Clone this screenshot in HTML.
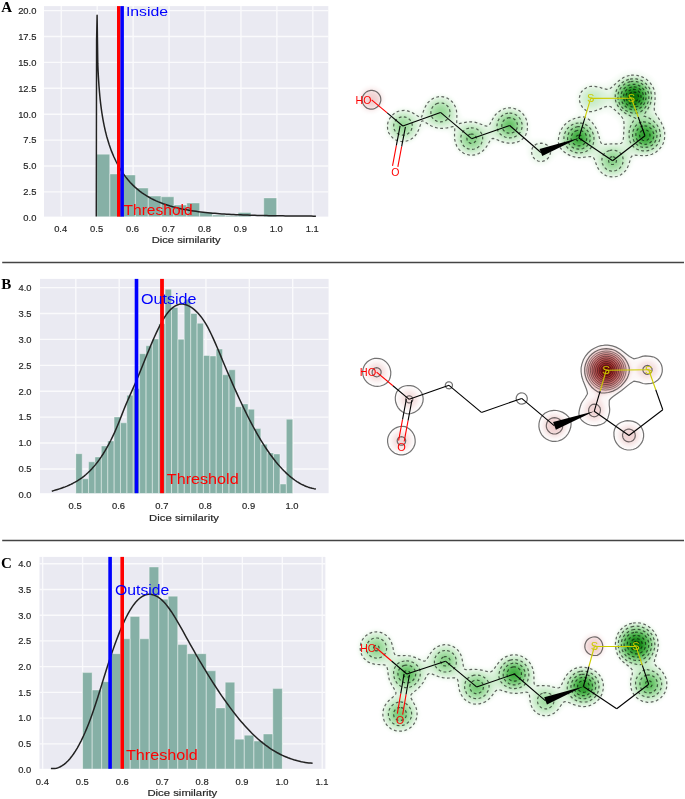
<!DOCTYPE html>
<html><head><meta charset="utf-8"><style>html,body{margin:0;padding:0;background:#fff;}svg{display:block;}</style></head>
<body><svg width="685" height="799" viewBox="0 0 685 799">
<rect width="685" height="799" fill="#fff"/>
<rect x="44" y="6.1" width="284.3" height="210.5" fill="#EAEAF2"/>
<path d="M61.25 6.1V216.6M97.19 6.1V216.6M133.13 6.1V216.6M169.07 6.1V216.6M205.01 6.1V216.6M240.95 6.1V216.6M276.89 6.1V216.6M312.83 6.1V216.6M44 191.9H328.3M44 166H328.3M44 140.1H328.3M44 114.2H328.3M44 88.3H328.3M44 62.4H328.3M44 36.5H328.3M44 10.6H328.3" stroke="rgba(255,255,255,0.75)" stroke-width="1.4" fill="none"/>
<path d="M96.9 216.6V154.2H109.74V216.6ZM109.74 216.6V174H122.57V216.6ZM122.57 216.6V175H135.41V216.6ZM135.41 216.6V188.1H148.24V216.6ZM148.24 216.6V196.1H161.08V216.6ZM161.08 216.6V196.8H173.92V216.6ZM173.92 216.6V205H186.75V216.6ZM186.75 216.6V203H199.59V216.6ZM199.59 216.6V212.3H212.42V216.6ZM212.42 216.6V215.1H225.26V216.6ZM225.26 216.6V215.6H238.1V216.6ZM238.1 216.6V212.5H250.93V216.6ZM263.77 216.6V197.9H276.6V216.6Z" fill="#86B0A6"/>
<path d="M96.9 216.6V154.2H109.74V216.6M109.74 216.6V174H122.57V216.6M122.57 216.6V175H135.41V216.6M135.41 216.6V188.1H148.24V216.6M148.24 216.6V196.1H161.08V216.6M161.08 216.6V196.8H173.92V216.6M173.92 216.6V205H186.75V216.6M186.75 216.6V203H199.59V216.6M199.59 216.6V212.3H212.42V216.6M212.42 216.6V215.1H225.26V216.6M225.26 216.6V215.6H238.1V216.6M238.1 216.6V212.5H250.93V216.6M263.77 216.6V197.9H276.6V216.6" fill="none" stroke="rgba(255,255,255,0.36)" stroke-width="1"/>
<path d="M96.3 216.6 L96.6 40 L97.1 15.3 L97.8 63.9 L98.09 70.74 L98.39 76.46 L98.68 81.38 L98.97 85.7 L99.27 89.55 L99.56 93.03 L99.85 96.2 L100.14 99.11 L100.44 101.82 L100.73 104.33 L101.02 106.69 L101.32 108.91 L101.61 111.01 L101.9 113 L102.2 114.89 L102.49 116.7 L102.78 118.42 L103.08 120.08 L103.37 121.66 L103.66 123.19 L103.96 124.66 L104.25 126.08 L104.54 127.45 L104.83 128.77 L105.13 130.06 L105.42 131.3 L105.71 132.51 L106.01 133.68 L106.3 134.82 L106.8 136.7 L109.15 144.54 L111.5 151.13 L113.85 156.8 L116.2 161.77 L118.55 166.18 L120.9 170.11 L123.25 173.66 L125.6 176.86 L127.94 179.78 L130.29 182.44 L132.64 184.87 L134.99 187.1 L137.34 189.16 L139.69 191.05 L142.04 192.79 L144.39 194.4 L146.74 195.89 L149.09 197.27 L151.44 198.55 L153.79 199.74 L156.14 200.84 L158.49 201.87 L160.84 202.82 L163.19 203.71 L165.54 204.53 L167.89 205.3 L170.23 206.02 L172.58 206.68 L174.93 207.31 L177.28 207.89 L179.63 208.43 L181.98 208.94 L184.33 209.41 L186.68 209.85 L189.03 210.26 L191.38 210.65 L193.73 211.01 L196.08 211.34 L198.43 211.66 L200.78 211.95 L203.13 212.23 L205.48 212.49 L207.83 212.73 L210.18 212.95 L212.52 213.17 L214.87 213.36 L217.22 213.55 L219.57 213.72 L221.92 213.89 L224.27 214.04 L226.62 214.18 L228.97 214.31 L231.32 214.44 L233.67 214.56 L236.02 214.67 L238.37 214.77 L240.72 214.87 L243.07 214.96 L245.42 215.04 L247.77 215.12 L250.12 215.2 L252.47 215.27 L254.81 215.33 L257.16 215.4 L259.51 215.45 L261.86 215.51 L264.21 215.56 L266.56 215.61 L268.91 215.65 L271.26 215.69 L273.61 215.73 L275.96 215.77 L278.31 215.81 L280.66 215.84 L283.01 215.87 L285.36 215.9 L287.71 215.92 L290.06 215.95 L292.41 215.97 L294.76 216 L297.1 216.02 L299.45 216.04 L301.8 216.05 L304.15 216.07 L306.5 216.09 L308.85 216.1 L311.2 216.12 L313.55 216.13 L315.9 216.14" fill="none" stroke="#222" stroke-width="1.5" stroke-linejoin="round"/>
<rect x="117" y="6.1" width="3.5" height="210.5" fill="#FF0000"/>
<rect x="120.4" y="6.1" width="3.5" height="210.5" fill="#0000FF"/>
<rect x="40" y="278.9" width="288.6" height="214.3" fill="#EAEAF2"/>
<path d="M75.8 278.9V493.2M119.18 278.9V493.2M162.56 278.9V493.2M205.94 278.9V493.2M249.32 278.9V493.2M292.7 278.9V493.2M40 468.95H328.6M40 443.04H328.6M40 417.13H328.6M40 391.23H328.6M40 365.33H328.6M40 339.42H328.6M40 313.51H328.6M40 287.61H328.6" stroke="rgba(255,255,255,0.75)" stroke-width="1.4" fill="none"/>
<path d="M75.8 493.2V453.7H82.18V493.2ZM82.18 493.2V478.8H88.56V493.2ZM88.56 493.2V461.8H94.94V493.2ZM94.94 493.2V457H101.32V493.2ZM101.32 493.2V446H107.7V493.2ZM107.7 493.2V440.9H114.08V493.2ZM114.08 493.2V417H120.46V493.2ZM120.46 493.2V422.8H126.84V493.2ZM126.84 493.2V395.2H133.21V493.2ZM133.21 493.2V388.6H139.59V493.2ZM139.59 493.2V353.7H145.97V493.2ZM145.97 493.2V345.8H152.35V493.2ZM152.35 493.2V339H158.73V493.2ZM158.73 493.2V323.7H165.11V493.2ZM165.11 493.2V289.2H171.49V493.2ZM171.49 493.2V307.5H177.87V493.2ZM177.87 493.2V339.3H184.25V493.2ZM184.25 493.2V299.3H190.63V493.2ZM190.63 493.2V313.5H197.01V493.2ZM197.01 493.2V323.3H203.39V493.2ZM203.39 493.2V355.5H209.77V493.2ZM209.77 493.2V356H216.15V493.2ZM216.15 493.2V349.1H222.53V493.2ZM222.53 493.2V374.8H228.91V493.2ZM228.91 493.2V369.8H235.29V493.2ZM235.29 493.2V406.7H241.66V493.2ZM241.66 493.2V403.9H248.04V493.2ZM248.04 493.2V409.3H254.42V493.2ZM254.42 493.2V428.6H260.8V493.2ZM260.8 493.2V444.3H267.18V493.2ZM267.18 493.2V452.9H273.56V493.2ZM273.56 493.2V454H279.94V493.2ZM279.94 493.2V484.1H286.32V493.2ZM286.32 493.2V419.3H292.7V493.2Z" fill="#86B0A6"/>
<path d="M75.8 493.2V453.7H82.18V493.2M82.18 493.2V478.8H88.56V493.2M88.56 493.2V461.8H94.94V493.2M94.94 493.2V457H101.32V493.2M101.32 493.2V446H107.7V493.2M107.7 493.2V440.9H114.08V493.2M114.08 493.2V417H120.46V493.2M120.46 493.2V422.8H126.84V493.2M126.84 493.2V395.2H133.21V493.2M133.21 493.2V388.6H139.59V493.2M139.59 493.2V353.7H145.97V493.2M145.97 493.2V345.8H152.35V493.2M152.35 493.2V339H158.73V493.2M158.73 493.2V323.7H165.11V493.2M165.11 493.2V289.2H171.49V493.2M171.49 493.2V307.5H177.87V493.2M177.87 493.2V339.3H184.25V493.2M184.25 493.2V299.3H190.63V493.2M190.63 493.2V313.5H197.01V493.2M197.01 493.2V323.3H203.39V493.2M203.39 493.2V355.5H209.77V493.2M209.77 493.2V356H216.15V493.2M216.15 493.2V349.1H222.53V493.2M222.53 493.2V374.8H228.91V493.2M228.91 493.2V369.8H235.29V493.2M235.29 493.2V406.7H241.66V493.2M241.66 493.2V403.9H248.04V493.2M248.04 493.2V409.3H254.42V493.2M254.42 493.2V428.6H260.8V493.2M260.8 493.2V444.3H267.18V493.2M267.18 493.2V452.9H273.56V493.2M273.56 493.2V454H279.94V493.2M279.94 493.2V484.1H286.32V493.2M286.32 493.2V419.3H292.7V493.2" fill="none" stroke="rgba(255,255,255,0.36)" stroke-width="1"/>
<path d="M51.8 491.2 L53.7 490.63 L55.6 490.06 L57.5 489.46 L59.4 488.85 L61.3 488.22 L63.2 487.55 L65.1 486.84 L67 486.08 L68.9 485.27 L70.8 484.4 L72.7 483.46 L74.6 482.45 L76.5 481.36 L78.4 480.19 L80.3 478.92 L82.2 477.55 L84.1 476.07 L86 474.48 L87.9 472.77 L89.8 470.94 L91.7 468.97 L93.6 466.87 L95.5 464.61 L97.4 462.21 L99.3 459.64 L101.2 456.91 L103.1 454 L105 450.92 L106.9 447.65 L108.8 444.18 L110.7 440.52 L112.6 436.65 L114.5 432.58 L116.4 428.28 L118.3 423.77 L120.2 419.03 L122.1 414.11 L124 409.28 L125.9 404.66 L127.8 400.23 L129.7 395.9 L131.6 391.63 L133.5 387.34 L135.4 382.97 L137.3 378.48 L139.2 373.89 L141.1 369.23 L143 364.52 L144.9 359.8 L146.8 355.09 L148.7 350.43 L150.6 345.84 L152.5 341.36 L154.4 337 L156.3 332.82 L158.2 328.82 L160.1 325.05 L162 321.53 L163.9 318.28 L165.8 315.35 L167.7 312.76 L169.6 310.52 L171.5 308.63 L173.4 307.07 L175.3 305.85 L177.2 304.95 L179.1 304.36 L181 304.09 L182.9 304.11 L184.8 304.43 L186.7 305.01 L188.6 305.85 L190.5 306.91 L192.4 308.2 L194.3 309.68 L196.2 311.37 L198.1 313.28 L200 315.44 L201.9 317.87 L203.8 320.58 L205.7 323.6 L207.6 326.94 L209.5 330.58 L211.4 334.48 L213.3 338.6 L215.2 342.89 L217.1 347.31 L219 351.82 L220.9 356.37 L222.8 360.92 L224.7 365.45 L226.6 369.94 L228.5 374.38 L230.4 378.78 L232.3 383.13 L234.2 387.43 L236.1 391.68 L238 395.86 L239.9 399.98 L241.8 404.03 L243.7 408.01 L245.6 411.92 L247.5 415.75 L249.4 419.49 L251.3 423.15 L253.2 426.73 L255.1 430.2 L257 433.58 L258.9 436.87 L260.8 440.05 L262.7 443.13 L264.6 446.11 L266.5 448.99 L268.4 451.78 L270.3 454.46 L272.2 457.04 L274.1 459.52 L276 461.91 L277.9 464.19 L279.8 466.37 L281.7 468.46 L283.6 470.44 L285.5 472.33 L287.4 474.11 L289.3 475.8 L291.2 477.38 L293.1 478.87 L295 480.25 L296.9 481.54 L298.8 482.73 L300.7 483.81 L302.6 484.8 L304.5 485.69 L306.4 486.48 L308.3 487.17 L310.2 487.76 L312.1 488.25 L314 488.64 L315.9 488.93" fill="none" stroke="#222" stroke-width="1.5" stroke-linejoin="round"/>
<rect x="134.7" y="278.9" width="3.6" height="214.3" fill="#0000FF"/>
<rect x="160.1" y="278.9" width="3.8" height="214.3" fill="#FF0000"/>
<rect x="39.5" y="556.9" width="285.9" height="211.9" fill="#EAEAF2"/>
<path d="M42.66 556.9V768.8M82.6 556.9V768.8M122.54 556.9V768.8M162.48 556.9V768.8M202.42 556.9V768.8M242.36 556.9V768.8M282.3 556.9V768.8M322.24 556.9V768.8M39.5 743.87H325.4M39.5 718.13H325.4M39.5 692.39H325.4M39.5 666.66H325.4M39.5 640.92H325.4M39.5 615.19H325.4M39.5 589.46H325.4M39.5 563.72H325.4" stroke="rgba(255,255,255,0.75)" stroke-width="1.4" fill="none"/>
<path d="M82.6 768.8V672.6H92.11V768.8ZM92.11 768.8V690H101.62V768.8ZM101.62 768.8V681.7H111.13V768.8ZM111.13 768.8V653.7H120.64V768.8ZM120.64 768.8V638.8H130.15V768.8ZM130.15 768.8V616.4H139.66V768.8ZM139.66 768.8V638.8H149.17V768.8ZM149.17 768.8V567H158.68V768.8ZM158.68 768.8V599.2H168.19V768.8ZM168.19 768.8V596.2H177.7V768.8ZM177.7 768.8V644.6H187.2V768.8ZM187.2 768.8V653.7H196.71V768.8ZM196.71 768.8V653.7H206.22V768.8ZM206.22 768.8V670.8H215.73V768.8ZM215.73 768.8V707.9H225.24V768.8ZM225.24 768.8V682.2H234.75V768.8ZM234.75 768.8V739.2H244.26V768.8ZM244.26 768.8V735.2H253.77V768.8ZM253.77 768.8V741.1H263.28V768.8ZM263.28 768.8V734H272.79V768.8ZM272.79 768.8V688.6H282.3V768.8Z" fill="#86B0A6"/>
<path d="M82.6 768.8V672.6H92.11V768.8M92.11 768.8V690H101.62V768.8M101.62 768.8V681.7H111.13V768.8M111.13 768.8V653.7H120.64V768.8M120.64 768.8V638.8H130.15V768.8M130.15 768.8V616.4H139.66V768.8M139.66 768.8V638.8H149.17V768.8M149.17 768.8V567H158.68V768.8M158.68 768.8V599.2H168.19V768.8M168.19 768.8V596.2H177.7V768.8M177.7 768.8V644.6H187.2V768.8M187.2 768.8V653.7H196.71V768.8M196.71 768.8V653.7H206.22V768.8M206.22 768.8V670.8H215.73V768.8M215.73 768.8V707.9H225.24V768.8M225.24 768.8V682.2H234.75V768.8M234.75 768.8V739.2H244.26V768.8M244.26 768.8V735.2H253.77V768.8M253.77 768.8V741.1H263.28V768.8M263.28 768.8V734H272.79V768.8M272.79 768.8V688.6H282.3V768.8" fill="none" stroke="rgba(255,255,255,0.36)" stroke-width="1"/>
<path d="M50.9 768.44 L52.78 768.6 L54.67 768.51 L56.55 768.17 L58.43 767.6 L60.31 766.77 L62.2 765.7 L64.08 764.38 L65.96 762.81 L67.84 760.99 L69.73 758.91 L71.61 756.58 L73.49 754 L75.38 751.16 L77.26 748.06 L79.14 744.69 L81.02 741.07 L82.91 737.19 L84.79 733.04 L86.67 728.63 L88.55 723.95 L90.44 719 L92.32 713.78 L94.2 708.3 L96.09 702.59 L97.97 696.71 L99.85 690.7 L101.73 684.64 L103.62 678.55 L105.5 672.51 L107.38 666.56 L109.26 660.75 L111.15 655.1 L113.03 649.62 L114.91 644.33 L116.8 639.24 L118.68 634.37 L120.56 629.72 L122.44 625.31 L124.33 621.16 L126.21 617.27 L128.09 613.67 L129.97 610.35 L131.86 607.34 L133.74 604.66 L135.62 602.29 L137.51 600.24 L139.39 598.5 L141.27 597.07 L143.15 595.94 L145.04 595.11 L146.92 594.57 L148.8 594.31 L150.68 594.34 L152.57 594.64 L154.45 595.22 L156.33 596.06 L158.22 597.17 L160.1 598.53 L161.98 600.14 L163.86 602 L165.75 604.1 L167.63 606.43 L169.51 608.97 L171.39 611.7 L173.28 614.59 L175.16 617.62 L177.04 620.77 L178.93 624.02 L180.81 627.34 L182.69 630.72 L184.57 634.13 L186.46 637.54 L188.34 640.94 L190.22 644.32 L192.11 647.67 L193.99 650.98 L195.87 654.27 L197.75 657.53 L199.64 660.76 L201.52 663.95 L203.4 667.1 L205.28 670.23 L207.17 673.31 L209.05 676.36 L210.93 679.37 L212.82 682.34 L214.7 685.27 L216.58 688.16 L218.46 691 L220.35 693.8 L222.23 696.56 L224.11 699.27 L225.99 701.93 L227.88 704.55 L229.76 707.11 L231.64 709.63 L233.53 712.09 L235.41 714.5 L237.29 716.86 L239.17 719.16 L241.06 721.41 L242.94 723.6 L244.82 725.73 L246.7 727.81 L248.59 729.82 L250.47 731.78 L252.35 733.67 L254.24 735.5 L256.12 737.26 L258 738.96 L259.88 740.59 L261.77 742.16 L263.65 743.66 L265.53 745.11 L267.41 746.48 L269.3 747.8 L271.18 749.06 L273.06 750.26 L274.95 751.4 L276.83 752.48 L278.71 753.5 L280.59 754.47 L282.48 755.39 L284.36 756.25 L286.24 757.05 L288.12 757.81 L290.01 758.51 L291.89 759.16 L293.77 759.77 L295.66 760.32 L297.54 760.83 L299.42 761.28 L301.3 761.7 L303.19 762.07 L305.07 762.39 L306.95 762.67 L308.83 762.91 L310.72 763.1 L312.6 763.26" fill="none" stroke="#222" stroke-width="1.5" stroke-linejoin="round"/>
<rect x="108.3" y="556.9" width="3.6" height="211.9" fill="#0000FF"/>
<rect x="120.4" y="556.9" width="3.6" height="211.9" fill="#FF0000"/>
<path d="M2.2 262.5H684M2.2 540.5H684" stroke="#444" stroke-width="1.3"/>
<defs><filter id="blurA" x="-10%" y="-20%" width="120%" height="140%"><feGaussianBlur stdDeviation="1.6"/></filter><filter id="blurB" x="-10%" y="-20%" width="120%" height="140%"><feGaussianBlur stdDeviation="1.6"/></filter><filter id="blurC" x="-10%" y="-20%" width="120%" height="140%"><feGaussianBlur stdDeviation="1.6"/></filter></defs>
<g filter="url(#blurA)"><path d="M369.9 86.2l2.4-0.1l3 0.5l2.8 1.1l2.2 1.5l1.7 1.7l1.5 2.3l1.1 2.8l0.3 2.2l-0.3 3l-0.7 2.2l-2.8 4.5l-4.3 3.7l-2.3 1l-3 0.6l-3-0.2l-2.2-0.7l-2.3-1.2l-2-1.6l-2.7-3.8l-0.8-2.2l-0.5-3l0.2-3l0.5-2.3l2.3-4.1l3.8-3.2l2.2-1l2.9-0.7z" fill="rgb(252, 246, 246)"/><path d="M367.9 90l4.3-0.6l3.8 0.9l3.5 2.7l2 3.7l0.2 3.8l-1.2 3.8l-3 3.5l-3.8 2l-3.7 0.2l-3.8-1.2l-3-2.7l-1.7-3.4l-0.4-3.7l1-3.8l2.6-3.3l3.2-1.9z" fill="rgb(246, 227, 227)"/><path d="M369.2 93l2.3-0.4l3 0.6l2.3 1.6l1.6 2.7l0.2 3l-0.7 2.3l-1.7 2.2l-2.4 1.5l-3 0.4l-2.3-0.6l-2.2-1.7l-1.6-2.6l-0.3-3l0.7-2.2l1.6-2.3l2.5-1.5z" fill="rgb(241, 212, 212)"/><path d="M370.8 97.5l1.6 0l1.5 1.5l-0.1 1.7l-1.5 1.3l-1.6 0l-1.4-1.5l0-1.5l1.5-1.5z" fill="rgb(236, 198, 198)"/><path d="M628.1 70.5l4.4-0.5l3.7 0.1l4.5 0.9l3.8 1.3l3.6 2l3.1 2.4l3 3.1l2.5 3.5l2.3 5.2l1.3 6l0 5.2l-0.8 8.3l0.3 4.5l0.4 1.8l5.9 13.2l0.8 4.5l0 6l-0.9 4.5l-1.6 3.8l-2 2.9l-2.9 3.1l-4.5 3.1l-4.5 1.7l-4.5 0.9l-7.5 0.3l-3 0.9l-2 2l-3.4 7.5l-3.1 4.5l-4.3 3.6l-5.2 2.3l-3.8 0.6l-4.5-0.2l-3.7-1.1l-3.8-2l-4.5-4.3l-5.2-9.2l-1.4-1.7l-1.3-0.7l-2.6-0.5l-7.5 0l-5.2-0.6l-4.5-1.4l-9.8-4.3l-1.5-0l-1.5 0.7l-5.5 6.8l-4.2 3.2l-2.3 0.9l-3 0.5l-3-0.2l-2.2-0.5l-4.1-2.4l-3.2-3.7l-2-5.3l-1-8.2l-0.3-0.8l-1.4-0.7l-10.5 1.7l-4.5 0.2l-5.3-0.7l-7.5-1.8l-2.2-0l-2.5 1.3l-5.8 6.8l-4.5 3.6l-3 1.5l-3 0.9l-6 0.4l-3.7-0.8l-3-1.2l-3-1.8l-3-2.8l-2-2.8l-1.5-3l-3.3-11.2l-1.3-1.6l-1.7-0.7l-9.7-1l-9-2.4l-3-0.1l-2.3 1.3l-5.5 7.4l-4.2 3.9l-5.3 2.5l-6 0.9l-5.2-1l-5.3-2.7l-4.1-4.3l-2.4-5.3l-0.5-5.2l1.2-5.3l3.2-5.2l4.9-4.7l4.5-2.3l4.5-0.9l4.5 0.4l8.2 2l2.3-0.1l2.2-1.5l5.3-7.3l4.5-4l5.2-2.5l6-0.8l3 0.4l3.8 1.2l3 1.7l3.1 2.6l2.3 3l1.6 3l3.2 10.5l1.2 1.5l2.1 0.9l9 0.7l9 1.8l3 0.1l1.5-0.5l1.5-1.3l4.8-6.2l2.7-2.7l5.2-3.4l3.8-1.3l4.5-0.5l3.7 0.3l4.5 1.4l3.8 2.1l3 2.6l2.3 3l1.9 3.8l1.5 6.7l-0.2 10.5l0.5 2.5l1.5 0.8l9-0.3l9 1.7l2.2-0l1.5-0.9l0.8-1l4.3-9.5l3.9-5.7l4.5-3.9l8-4.7l2.5-2.2l0.4-2.3l-2.2-8.2l-0.2-5.3l1.7-5.2l1.4-2.3l1.9-2l3.8-2.5l5.2-1.9l3.8-0.3l10.5 0.6l2.2-0.5l3.8-1.9l10.1-7.2l4.1-1.9l3.9-1.1zM604 113.2l-6 1.6l-1.8 1.4l-1 2.3l0.5 2.2l3.5 7.5l3.3 9.3l1.6 2l2.9 1.1l6-0.1l4.5-1l2.2-2.3l0.9-3l-0.2-8.2l-1.2-3l-3.2-4.4l-4.5-3.6l-4.5-2l-1.5-0.1l-1.5 0.3z" fill="rgb(247, 252, 247)"/><path d="M630.5 74.2l6.5 0.1l3.7 0.9l3 1.2l3 1.9l3 2.5l3.9 5.4l1.8 4.5l0.8 4.5l-0.7 15l1.4 3.7l4.5 7.5l2.9 6.8l0.9 5.2l-0.3 6l-1.1 3.8l-2 3.7l-2.5 3l-2.8 2.4l-3.8 2.1l-4.5 1.3l-4.5 0.4l-8.2-0.2l-2.3 0.5l-1.1 1l-0.9 1.5l-1.9 6l-1.7 3.8l-1.9 2.6l-2.2 2.3l-3 2l-3.8 1.5l-3.7 0.5l-3.8-0.4l-5.2-2l-4.3-3.5l-3-4.5l-3.2-7.7l-1.5-1.6l-2.3-0.6l-9.7 0.8l-5.3-0.6l-6-2l-5.2-3.3l-4-3.8l-1.6-3l-0.4-3.7l0.5-4.5l1.2-4.5l1.7-3.8l2.6-3.7l3-3l3.7-2.5l3.8-1.7l6.7-2l3.8-0.4l2.2 0.8l2.3 1.6l3 3.1l2.5 3.3l3.2 6l3.3 10.5l1.5 1.8l3 0.7l10.5-0.3l3-0.3l2.1-1.1l1.2-2.3l0.7-3.7l0.2-10.5l-0.9-5.3l-3.3-4.4l-6.8-6l-2.2-1.2l-1.5-0.2l-4.5 0.4l-4.5 2l-8.3 2.5l-2.2 0.3l-2.3-0.5l-3-2.2l-3.4-4.9l-1.6-4.5l-0.1-4.5l0.8-3l1.8-3l2.4-2.3l3.1-1.8l3-1l3-0.2l6 0.6l4.5 1.4l3.8 0.1l2.2-0.4l12-9.6l4.5-2.1l4.8-1.2zM435.7 96.8l4.8-0.7l4.5 0.6l3.7 1.6l3.8 3l2.2 3l1.4 3l1.2 4.5l0.8 8.3l0.8 1.5l1.1 0.4l9-0.7l3.7 0.1l4.5 0.8l7.5 2.6l2.3 0.1l2.2-1.5l4.4-7.1l2.4-2.9l2.2-2.1l3-1.9l3.8-1.4l3.7-0.6l4.5 0.3l3.8 1.2l3 1.6l3 2.6l2.4 3.2l1.4 3l1 3.8l0.3 3.7l-0.5 4.5l-1.1 3.8l-2 3.2l-3 2.5l-3.8 1.8l-4.5 1.1l-6.7-0.1l-3.8-0.9l-7.5-2.7l-1.5-0.2l-1.5 0.3l-1.5 1.3l-4.8 7.2l-3.4 3.4l-4.5 2.6l-5.3 1.2l-4.5-0.2l-3.7-1.3l-3.8-2.3l-2.6-2.7l-2-3l-1.2-3l-0.9-4.5l-0.7-8.2l-0.8-1.5l-0.8-0.4l-9.7 0.4l-4.5-0.3l-5.3-1.6l-6.7-3.2l-2.3-0.3l-1.5 1.4l-3.3 7l-1.9 3l-2.3 2.6l-3 2.2l-3.7 1.7l-3.8 0.7l-3.7-0.3l-3.8-1.1l-3-1.7l-2.8-2.6l-2-3l-1.4-3.8l-0.3-3.7l0.7-3.8l1.7-3.7l2.2-3l2.7-2.5l3-1.8l3-1.1l3-0.3l5.2 0.6l9.8 4.2l2.2-0l1.5-1.9l3.3-7l2.7-3.7l3.8-3.3l4.2-2zM537.8 142.5l4-0.3l4.5 1.2l3.4 2.1l2.2 3l0.2 3.8l-1.6 4.5l-2.7 3.2l-3.8 2l-3.7 0.5l-4.2-1.2l-2.8-2.3l-2.1-3.7l-0.6-4.5l1-3.8l1.2-1.7l1.5-1.3l3.5-1.5z" fill="rgb(230, 245, 230)"/><path d="M628.6 76.5l3.1-0.5l3.8 0l6 1.5l3 1.6l2.6 1.9l2.2 2.2l2.2 3l2.2 5.3l0.7 5.2l-0.6 5.3l-2 6l-0.1 1.5l1.4 3.8l6.4 8.4l2.9 5.8l1.3 5.2l-0.2 6.1l-1.3 4.5l-2.2 3.7l-3.5 3.6l-3.8 2.2l-3.7 1.3l-3.8 0.5l-4.5-0.1l-8.2-1.4l-2.3 0.6l-0.9 1.6l-2 9.7l-1.4 3l-2.2 3l-3.2 2.6l-3 1.4l-3.8 0.8l-3.7-0.2l-3-0.9l-2.3-1.1l-2.5-1.8l-2-2.3l-2.4-4.5l-2.2-8.2l-1.4-2.1l-2.2-0.3l-9.8 2l-5.2 0l-6-1.6l-5.3-3.1l-3.1-3.2l-2.1-3.7l-0.8-4.5l0.4-4.5l1.1-3.8l1.9-3.7l2.4-3l2.5-2.3l3.7-2.2l3.8-1.4l3.7-0.7l3.8 0l3 0.9l3 1.9l3 2.8l2.2 3l2.6 5.5l2.2 11.2l1.2 2l2.3 0.4l9.7-1.3l9 0.7l2.3-0.3l0.7-1l0.4-2l0.3-10.5l1-10.5l-0.5-3l-1.1-2.2l-3.8-2.9l-2.6-2.4l-3-3.7l-1.9-3.9l-3-2.6l-2.3-0.1l-3.2 2.8l-4.1 3l-2.4 1.2l-5.3 1.5l-3 0.1l-3.3-1.3l-3.2-3l-1.8-3.7l-0.2-3.8l1-3.5l2.3-2.9l3-2.1l3.7-0.9l4.5 0.3l3 0.8l5.3 3.1l3.7 2.7l1.5-0.2l3-2.6l3-5.9l3.7-4.5l4.6-3.3l5.1-2zM437.4 98.2l2.4-0.3l3 0.1l4.5 1.5l4.1 3.2l2.8 4.5l0.9 3l0.3 3l-0.7 6l-1.9 3.8l-1.8 1.5l-2.2 1.1l-3 1l-3.8 0.5l-6-0.8l-3.7-1.5l-2.9-1.8l-2.4-2.3l-1.4-2.2l-0.8-3l0.2-3l1-3.8l1.4-3l1.9-2.6l2.2-2.2l3-1.8l2.9-0.9zM505.5 109.5l5.5-0.5l5.3 1.3l4.6 3l3.5 4.4l1.8 5.3l0 6l-1.7 5.2l-3 3.8l-3 2.1l-3 1.2l-3.7 0.8l-3.8-0l-6-1.6l-9.7-5.5l-1.5-0.2l-0.8 0.9l-3.4 8.3l-1.8 3l-3 3.3l-3.8 2.4l-4.5 1.2l-5.2-0.2l-4.5-1.8l-4-3.4l-1.6-2.3l-1.3-3l-1-6l0.8-6l1.1-2.4l1.7-2.1l2.8-1.7l3-1.1l3.7-0.7l3.8 0l6 1.5l9 4.9l1.5 0.2l1.1-1.6l3.2-8.2l2.8-4.5l4.1-3.8l5-2.2zM401.8 111.8l2.7-0l3 0.5l5.3 2.5l4 3.8l1.1 2.2l0.5 2.2l-0.2 3l-0.8 3l-1.3 3.1l-2 3l-2.1 2l-2.6 1.7l-2.7 1.1l-3 0.5l-5.2-0.6l-3-1.4l-2.3-1.6l-3.1-4l-0.9-2.2l-0.6-3l-0-2.3l0.6-3l1.3-3l1.6-2.2l4.1-3.5l3-1.3l2.6-0.5zM538.2 146.2l2.8-0.5l2.3 0.4l2.2 1.1l1.7 2l0.7 2.2l-0.4 3.1l-1.4 2.2l-2.1 1.6l-2.2 0.7l-3-0.4l-2.3-1.3l-1.6-2.1l-0.6-2.2l0.3-3l1.4-2.3l2.2-1.5z" fill="rgb(217, 241, 217)"/><path d="M629.5 77.2l3.8-0.4l3.7 0.3l3.8 1.1l3 1.4l3 2.2l2.6 2.9l1.9 3l1.5 3.8l0.7 4.5l-0.4 5.2l-1.4 4.5l-2.8 6l1.6 2.2l6.8 7.1l2.2 3.3l2.6 6.2l0.5 5.2l-1.1 6l-2.7 4.8l-2.3 2.4l-2.2 1.6l-5.3 2.2l-5.2 0.6l-5.3-0.7l-6-2.3l-3.3-2.6l-1.3-2.2l-0.9-3l-0.6-8.3l0.2-3.7l2.2-12.8l-6-3.8l-4.3-3.7l-3.2-4.5l-1.9-4.5l-0.5-3.7l0.3-3.8l1.1-3.7l2.1-3.8l2.6-3.3l3-2.5l3.8-2l3.7-1.2zM591.2 90.8l4.6 0.6l2.2 1l1.6 1.4l1 1.5l0.8 3l-0.7 3l-1.9 2.4l-3 1.7l-4.5 1l-3-0.7l-2.3-1.7l-1.6-2.7l-0.5-3l0.6-2.7l1.5-2.3l2.3-1.7l2.9-0.8zM438.5 99.8l5 0.2l4.5 2.1l3.5 3.7l1.8 4.5l0.1 5.2l-1.6 4.5l-3 3.2l-4.5 1.9l-5.3 0.2l-5.2-1.6l-3.8-2.9l-1.7-2.3l-0.9-2.2l-0.4-2.3l0.3-3l0.9-3l1.2-2.2l3.6-3.8l2.8-1.5l2.7-0.7zM505.5 111l3.3-0.6l3 0.1l3 0.8l2.2 1l2.5 1.7l2 2.1l2.6 4.7l0.7 3l0.1 3l-0.4 3l-1.1 2.9l-1.4 2.3l-2 2.1l-2.2 1.5l-3 1.3l-3 0.7l-3 0.1l-3-0.5l-3-1l-3-1.6l-2.5-1.9l-2-2.2l-1.3-2.3l-0.6-3l0.2-3l1.1-3.7l1.4-3l1.6-2.3l2.2-2.2l2.9-1.9l2.7-1.1zM399.2 114l4.5-0.6l3 0.5l2.3 0.8l4.2 3.1l2.4 3.7l0.5 4.5l-0.6 3l-1 2.2l-1.4 2.3l-1.9 2l-2.2 1.6l-2.3 0.9l-2.2 0.5l-3 0.1l-4.5-1.4l-3.8-2.9l-1.5-2.3l-1-2.2l-0.4-4.5l0.4-2.3l1-2.6l3-3.8l2.3-1.6l2.2-1zM576 120.8l3.3-0.5l3 0.2l3 0.8l2.2 1.2l2.3 1.7l2.4 2.6l2 3l1.5 3.8l0.8 3.7l0.3 3.8l-0.2 3.7l-0.8 3l-0.9 1.5l-2.1 1.9l-3 1.7l-3.8 1.4l-3.7 0.8l-3.8 0.2l-3.7-0.5l-3.8-1.4l-3-1.8l-2.6-2.3l-2.2-3l-1.3-3l-0.6-3.7l0.3-3.8l1.1-3.7l1.6-3l2.3-3l2.9-2.5l3-1.6l3.5-1.2zM467.2 125.2l5.6-0.4l5.2 1.3l3 1.7l2.4 1.9l2.6 3.8l0.5 2.2l-0.1 3l-0.8 3l-1.3 3l-1.5 2.2l-2.3 2.3l-2.5 1.7l-2.2 0.9l-5.3 0.6l-3-0.6l-2.2-0.9l-2.6-1.7l-1.9-2l-2.5-4.8l-0.6-2.9l-0.1-3l0.6-3l0.9-2.3l1.5-2.2l1.7-1.5l2.2-1.4l2.7-0.9zM610.2 147l5.8 0.1l5.3 1.5l3.3 2.2l1 1.5l0.8 2.2l0.3 3l-0.2 3.8l-0.7 3l-1.3 3l-1.7 2.4l-2.3 2l-2.2 1.3l-3 1l-3 0.2l-3-0.4l-3-1.2l-2.3-1.5l-3.3-3.8l-1.4-3l-0.7-3l-0.1-6l0.6-2.3l0.9-1.5l1.7-1.5l2.3-1.3l6.2-1.7z" fill="rgb(206, 237, 206)"/><path d="M630.5 78l3.5-0.2l3.8 0.4l3 1l3.3 1.8l2.7 2.1l2.2 2.6l1.6 2.8l1.4 3.8l0.6 4.5l-0.7 5.2l-1.5 4.5l-3.8 7.5l6.2 4.5l4.9 5.3l3 6l0.7 3l0.1 3l-1 5.2l-2.5 4.7l-3.8 3.6l-5.2 2.3l-5.2 0.6l-5.3-0.9l-5.2-2.6l-3.1-3.2l-1.2-2.2l-0.9-3l-0.4-7.5l1.3-6.8l3-7.5l-7.7-4.6l-4.5-3.6l-3.4-4.5l-2.1-5.3l-0.4-3.8l0.5-3.7l1.3-3.8l1.8-3l2.6-3l3.4-2.6l3.8-1.8l3.2-0.8zM589.6 94.5l1.6-0.4l1.5 0.1l2.3 0.8l1.2 1l0.7 1.5l0 1.5l-1.2 2.2l-3 1.5l-1.5 0.1l-1.5-0.3l-1.5-1.1l-0.9-1.6l-0.1-2.3l1-1.9l1.4-1.1zM439.3 101.2l4.2 0.3l3.9 2l2.9 3.2l1.5 4.2l-0.2 4.5l-1.6 3.8l-1.3 1.5l-2 1.5l-3.9 1.4l-4.5-0.1l-4.5-1.9l-3.3-3.2l-1.5-3.7l0.2-4.5l0.8-2.2l1.4-2.3l3.4-3l2-0.9l2.5-0.6zM508.9 111.8l5.1 0.7l4.5 2.4l2.1 2.1l1.4 2.3l0.9 2.2l0.6 3l-0.5 5.3l-2.3 4.5l-2.2 2.2l-2.2 1.4l-2.3 0.9l-3 0.6l-5.2-0.5l-3-1.2l-2.3-1.3l-2.3-2.1l-1.6-2.2l-1-2.3l-0.4-2.2l0.2-3l0.8-3l2.8-4.8l2.3-2.2l2.2-1.4l3-1.1l2.4-0.3zM399.7 115.5l4.1-0.5l4.5 1.2l3.1 2.3l2.3 3.8l0.5 2.2l-0 2.2l-1.4 4.4l-3 3.5l-3.8 2l-4.5 0.4l-3.9-1.2l-3.5-3.1l-1.9-3.7l-0.2-4.5l1.3-3.8l3-3.4l3.4-1.8zM575.1 122.2l3.4-0.6l3 0.1l3 0.7l2.2 1.1l2.3 1.6l2.2 2.4l2 3l1.2 2.9l0.7 3l0.2 3.8l-0.3 3l-0.9 3l-1.5 2.2l-2.1 2l-5.3 2.7l-3.7 0.8l-3 0.1l-3.8-0.5l-3-1.1l-3-1.8l-2.3-2.2l-1.7-2.2l-1.4-3l-0.6-3l-0.1-3l0.8-3.8l1.3-3l2.1-3l2.4-2.2l2.5-1.7l3.4-1.3zM467.7 126.8l5.1-0.4l4.5 1.2l4.3 3l2.4 3.7l0.5 2.2l0.1 2.3l-0.7 3l-0.9 2.2l-3 3.8l-4.2 2.5l-2.3 0.6l-3 0.1l-4.5-1.3l-3.7-2.9l-2.5-4.2l-0.5-2.3l-0.1-3l1.1-4.5l1.2-2l1.7-1.7l2.1-1.4l2.4-0.9zM610.9 148.5l5.1 0.2l4.5 1.8l3 3l1.4 4l-0.3 5.2l-1.9 4.6l-1.5 1.8l-2.2 1.8l-4.5 1.7l-4.5-0.2l-2.3-0.7l-2.4-1.5l-3.3-3.7l-1.1-2.3l-0.7-3l-0.1-3l0.4-2.2l2-3.6l3.7-2.6l4.7-1.3z" fill="rgb(195, 234, 195)"/><path d="M631.9 78.8l5.1 0.2l4.5 1.5l4.9 3.5l3.3 4.5l1.2 3l0.7 3.8l-0.4 6l-2.2 6l-5.2 8.2l6.7 3.2l4.5 3.7l2.8 3.6l2.2 5.3l0.5 3l-0.1 3l-1 3.8l-1.4 2.8l-1.8 2.4l-2.7 2.2l-2.2 1.3l-3 1l-4.5 0.4l-5.3-1.1l-3.7-2l-3.4-3.3l-1.2-2.3l-1-3l-0.4-4.5l0.1-3l2.1-7.4l2.3-3.9l1.8-2.2l-0.9-0.7l-8.4-4l-4.5-3.4l-3.8-4.6l-2.2-5.2l-0.4-3.8l0.5-3.8l1.4-3.7l1.8-3l2.7-2.9l3-2.2l3-1.4l4.6-1zM440.5 102.8l3.8 0.8l3 1.9l2.2 3.3l0.8 3.8l-0.6 3.7l-1.9 3l-3.4 2.2l-3.9 0.7l-3.7-0.7l-3.4-2.2l-2.1-3l-0.7-3.8l0.9-3.7l2-3l3.3-2.3l3.7-0.7zM507.1 113.2l4.7-0.1l4.5 1.7l1.9 1.4l1.8 2.1l1.3 2.4l0.7 2.2l0.3 3l-0.2 2.3l-1.9 4.5l-3.2 3.1l-4.5 2l-2.2 0.2l-3-0.2l-4.5-1.7l-3.8-3.2l-1.9-4l-0.4-2.2l0.3-3l1.7-4.5l3.4-3.8l2.2-1.2l2.8-1zM400.2 117l3.6-0.4l3.7 1.1l3 2.3l1.6 3l0.4 3.8l-1.2 3.7l-2.7 3l-3.3 1.6l-3.8 0.3l-3-1l-2.9-2.4l-1.7-3l-0.4-3.7l1.2-3.8l2.3-2.8l3.2-1.7zM576.9 123l2.4-0.2l3 0.3l3 1l2.2 1.4l2.3 2l1.7 2.2l1.5 3.1l0.9 3l0.3 3l-0.2 3l-0.8 3l-1.3 2.2l-2 2.3l-2.2 1.5l-5.4 1.9l-3 0.3l-3-0.3l-3-0.8l-3-1.6l-2.3-1.8l-1.9-2.2l-1.2-2.3l-0.9-3l-0.2-3l0.4-3l1-3l1.3-2.4l2.3-2.6l2.2-1.7l3-1.5l2.9-0.8zM467.8 128.2l4.2-0.6l4.5 1.1l3.5 2.5l2.4 3.8l0.5 3.7l-1.3 4.5l-2.9 3.7l-3.7 2.1l-4.5 0.5l-3.8-1.1l-2.2-1.4l-1.5-1.5l-2-3.8l-0.4-4.5l1-3.7l2.3-3l3.9-2.3zM611 150l4.2 0.2l3.8 1.4l2.9 2.9l1.4 3.8l-0.2 4.4l-1.7 3.8l-3.2 3.1l-3.7 1.5l-4.5-0.2l-3.8-1.7l-3-3.4l-1.4-3.8l0.1-4.5l1.8-3.8l3.3-2.5l4-1.2z" fill="rgb(184, 230, 184)"/><path d="M631.4 79.5l3.4-0.1l3 0.5l3 1l3 1.8l2.3 2l2.3 3l1.5 3l0.8 3l0.3 3l-0.4 3.8l-2.2 6l-5.4 7.4l-2.2 2l-2.3 0.8l-3-0.2l-3.7-1.1l-4.5-1.8l-3.8-2.3l-2.2-2l-2.4-2.8l-1.7-3l-1.1-3.8l-0.3-3.7l0.7-3.8l1.2-3l1.9-3l2.4-2.5l3-2.1l3-1.3l3.4-0.8zM437.4 105l3.1-0.6l3 0.5l2.5 1.6l2 2.9l0.7 3.1l-0.6 3l-1.6 2.5l-2.2 1.7l-3 0.8l-3.7-0.5l-2.5-1.5l-2.1-2.7l-0.7-3.3l0.6-3l1.6-2.5l2.9-2zM506.1 114.8l4.1-0.6l4.5 1.2l2.3 1.5l1.5 1.5l2.1 3.9l0.4 4.5l-1 3.7l-1.4 2.3l-1.5 1.5l-3.9 2.1l-4.5 0.5l-4.5-1.3l-3.7-2.8l-2-3.8l-0.5-3.7l1.3-4.5l2.8-3.7l4-2.3zM400.9 118.5l2.9-0.2l3 0.9l2.2 1.8l1.5 2.9l0.2 2.8l-1 3l-2.2 2.5l-3 1.4l-3 0.1l-2.5-0.9l-2-1.6l-1.6-2.9l-0.3-3l1-3l1.9-2.3l2.9-1.5zM638.9 118.5l2.6-0.7l3 0.1l3 0.8l3 1.5l3 2.2l2.2 2.4l1.5 2.2l1.6 3.5l0.6 3l0.1 3l-1.5 5.2l-1.3 2.3l-1.9 2.2l-2.1 1.6l-3 1.5l-5.2 0.9l-3-0.4l-3-0.9l-2.3-1.2l-2.7-2.2l-1.7-2.2l-1-2.3l-0.7-3l-0.3-3.8l0.3-2.9l1.1-3.8l1.3-3l2.2-3l2.3-2l1.9-1zM575 124.5l5-0.6l3 0.5l2.2 0.9l2.3 1.5l2.2 2.2l2.5 4.5l0.7 3l0.2 3l-0.5 3l-0.9 2.2l-2.9 3.8l-2.1 1.5l-3 1.3l-3 0.6l-3 0l-5.2-1.4l-2.3-1.4l-2.2-2.1l-1.6-2.2l-1-2.3l-0.5-2.2l-0.1-3.1l0.6-3l1.1-2.7l1.7-2.5l2-2l2.3-1.5l2.5-1zM468 129.8l4-0.6l3.8 0.9l3 2l2 2.9l0.6 3.8l-0.9 3.7l-2.2 3l-3.3 2.1l-3.7 0.6l-3.8-0.9l-3-2.2l-1.9-3.3l-0.6-3.8l1-3.7l2.3-2.9l2.7-1.6zM611.1 151.5l3.4 0.1l3.7 1.5l2.3 2.3l1.3 3.6l-0.2 3.8l-1.9 3.6l-2.8 2.3l-3.2 1l-3.7-0.3l-3-1.5l-2.5-2.9l-1.2-3.8l0.3-3.7l1.7-3l2.4-1.9l3.4-1.1z" fill="rgb(173, 225, 173)"/><path d="M630.8 80.2l3.2-0.2l3 0.3l3 1l3 1.6l2.3 1.9l2.2 2.7l1.4 2.5l1 3l0.4 3l-0.2 3.7l-0.8 3l-1.3 3l-2 3.1l-3 3.3l-2.2 1.7l-2.3 0.9l-3 0.2l-3.7-0.6l-3.8-1.3l-3-1.6l-3-2.3l-2.2-2.6l-1.8-3.1l-1-3l-0.5-3l0.3-3.7l0.9-3l1.6-3l2.5-3l2.5-2l3-1.5l3.5-1zM438.4 106.5l2.8-0.3l2.3 0.7l1.5 1.2l1.4 2.1l0.4 2.3l-0.4 2.2l-1.4 2.2l-2.3 1.4l-2.2 0.4l-2.3-0.4l-2.2-1.4l-1.5-2.2l-0.4-3l0.8-2.2l1.1-1.5l2.4-1.5zM508 115.5l3.8 0.1l3.7 1.6l2.7 2.8l1.5 3.8l0 3.7l-1.5 3.8l-2.7 2.6l-3.7 1.6l-4.5-0.1l-3.8-1.7l-2.5-2.4l-1.5-3.8l0-3.7l1.8-4l3-2.9l3.7-1.4zM639.7 120l2.6-0.6l2.2 0l3 0.7l3 1.4l4.5 3.9l1.5 2.2l1.6 3.6l0.5 5.3l-0.4 2.2l-1.1 3l-1.5 2.3l-2.1 2.2l-4.5 2.4l-5.2 0.6l-3-0.5l-2.3-0.9l-4.2-3.1l-1.6-2.2l-1-2.3l-0.7-3l-0.2-3.7l0.5-3l1.1-3l1.1-2.3l2-2.4l2.3-1.9l1.9-0.9zM400.2 120.8l2.1-0.6l2.2 0.1l2.3 1.2l1.5 1.9l0.6 2.6l-0.5 2.3l-1.6 2.2l-1.5 1l-2.3 0.5l-2.2-0.4l-2.3-1.5l-1.1-1.8l-0.4-2.2l0.4-2.3l1.1-1.7l1.7-1.3zM575.9 125.2l4.8-0.3l2.3 0.5l2.7 1.3l1.9 1.5l2 2.2l2 4.6l0.3 5.2l-1.4 4.5l-3 3.5l-4.5 2.2l-5.3 0.5l-3-0.6l-2.2-1l-3.9-3.1l-1.5-2.2l-0.9-2.3l-0.4-2.2l0-3l0.8-3l1.1-2.3l3.5-3.7l2-1.3l2.7-1zM468.2 131.2l3-0.7l3 0.5l3 1.7l1.8 2.2l0.8 3.1l-0.4 3l-1.7 3l-2.7 2l-3 0.7l-3.2-0.5l-2.8-1.8l-1.9-2.7l-0.7-3l0.5-3l2-3l2.3-1.5zM611.6 153l2.9 0.2l2.9 1.3l2 2.2l0.8 2.3l-0 3l-1.3 3l-2.2 2.1l-3 1.1l-3-0.1l-3-1.5l-1.9-2.3l-0.9-3l0.2-3l1.1-2.3l2.3-2l3.1-1z" fill="rgb(162, 221, 162)"/><path d="M630.3 81l3-0.3l3 0.2l3 0.8l3 1.6l2.2 1.7l2.3 2.6l1.3 2.4l1.1 3l0.4 3l-0.2 3.8l-0.8 3l-1.4 3l-1.9 2.8l-2.3 2.4l-2.2 1.6l-3 1.1l-3 0.3l-3-0.4l-3.8-1.3l-3-1.6l-2.4-1.9l-2.1-2.3l-1.8-3l-1.1-3l-0.4-3l0.2-3l0.7-3l1.7-3.2l2.2-2.8l2.3-1.9l3-1.7l3-0.9zM438.8 108.8l1.7-0.4l1.5 0.3l1.3 0.9l1 1.5l0.3 1.5l-0.3 1.5l-0.8 1.1l-1.5 1.1l-1.5 0.2l-1.5-0.2l-1.5-1.1l-0.8-1.1l-0.3-1.5l0.3-1.5l0.8-1.4l1.3-0.9zM506.9 117l3.3-0.4l3.8 1.1l2.7 2.3l1.6 3l0.3 3.8l-1 3l-2.1 2.6l-3 1.6l-3.8 0.4l-3.2-0.9l-2.9-2.2l-1.7-3l-0.3-3.8l1-3l2.5-3l2.8-1.5zM642.9 120.8l3.1 0.2l2.2 0.6l4.5 2.9l3.1 3.8l1.8 5.2l0.1 3.1l-0.4 2.2l-2.2 4.5l-1.6 1.7l-2.3 1.7l-4.5 1.6l-3 0.1l-2.2-0.4l-4.5-2.1l-3.2-3.3l-1.2-2.3l-0.7-3l-0.2-3l0.4-3l2.2-5.2l1.9-2.3l2.3-1.7l2.2-0.9l2.2-0.4zM401.1 123l1.1-0.4l1.5 0l1.5 0.8l0.8 1l0.3 2.3l-0.8 1.5l-1 0.9l-1.5 0.4l-1.5-0.3l-1.8-1.7l-0.3-2.2l0.6-1.3l1.1-1zM576.9 126l4.6 0.1l2.3 0.7l2.2 1.3l3 3.2l1.9 4.5l0.1 4.5l-0.5 2.2l-1.2 2.3l-3.3 3.3l-4.5 1.8l-3 0.2l-2.2-0.3l-4.5-2l-3.1-3l-1.1-2.3l-0.7-2.2l0.1-4.5l1.9-4.5l1.4-1.8l2.2-1.8l4.4-1.7zM468.8 132.8l2.4-0.6l2.3 0.3l2.2 1.1l1.8 2.2l0.6 2.2l-0.4 3.1l-1.5 2.2l-2 1.4l-3 0.5l-2.2-0.5l-2-1.4l-1.5-2.2l-0.5-2.3l0.4-2.2l1.3-2.3l2.1-1.5zM609.9 155.2l2.3-0.6l2.3 0.3l2.2 1.3l1.4 2l0.5 2.2l-0.4 2.3l-1.5 2.2l-1.5 1l-2.2 0.6l-2.3-0.3l-2.2-1.2l-1.2-1.6l-0.7-2.2l0.1-2.3l1.2-2.2l2-1.5z" fill="rgb(151, 216, 151)"/><path d="M630 81.8l3.3-0.4l3.7 0.4l5.2 2.2l3.8 3.8l1.5 2.5l1 2.8l0.5 3l-0.2 3l-0.5 2.7l-1.4 3.2l-1.6 2.6l-2.3 2.4l-2.2 1.6l-3 1.3l-3 0.3l-3-0.3l-3-0.9l-3.3-1.7l-2.7-2.2l-2-2.3l-1.7-3l-0.8-2.6l-0.4-3.4l0.3-3l0.8-2.6l1.4-2.6l1.8-2.3l2.6-2.2l2.5-1.4l2.7-0.9zM506.5 118.5l3-0.7l3 0.5l2.6 1.7l1.6 2.2l0.7 3l-0.5 3l-1.4 2.4l-2.2 1.8l-3 0.8l-3-0.3l-2.9-1.7l-1.7-2.2l-0.8-3l0.5-3l1.9-3l2.2-1.5zM641.2 122.2l2.5-0.4l2.3 0.2l2.2 0.7l2.3 1.2l2.2 1.7l1.5 1.7l2.2 4.6l0.4 4.5l-1.3 4.5l-3 3.8l-4.3 2.3l-2.2 0.4l-3-0.1l-4.5-1.6l-2.3-1.7l-1.3-1.6l-1.8-3.7l-0.5-5.3l0.4-2.2l1.2-3l2.8-3.7l2.2-1.5l2-0.8zM578.3 126.8l4 0.5l3.7 2l2.9 3.5l1.3 4.5l-0.5 4.5l-2.2 3.8l-3 2.3l-4.5 1.3l-4.5-0.5l-3.7-2l-2.9-3.4l-0.9-2.3l-0.3-2.2l0.6-4.5l2.3-3.8l3.4-2.5l4.3-1.2zM470.3 134.2l1.7-0.2l1.5 0.4l1.5 1l1.1 1.8l0.1 2.2l-0.5 1.5l-1.4 1.5l-1.5 0.7l-1.5 0.1l-1.5-0.4l-1.5-1l-1-1.6l-0.2-2.2l0.4-1.6l1.3-1.5l1.5-0.7zM610.4 157.5l2.6-0.6l1.5 0.4l1.1 0.9l0.7 1.5l0 1.5l-1.2 2.3l-1.4 0.8l-1.5 0.1l-1.5-0.4l-1.3-1.3l-0.6-1.5l0-1.5l1.6-2.2z" fill="rgb(138, 211, 138)"/><path d="M630.2 82.5l5.3-0.2l3 0.7l2.3 1l2.2 1.6l2.1 2.2l1.4 2.2l1.2 3l0.5 3l-0.1 3l-1.7 5.2l-1.9 3l-2.2 2.3l-2.3 1.6l-2.2 0.9l-3 0.4l-2.3-0.2l-3-0.8l-3-1.5l-2.6-1.9l-2.1-2.2l-1.5-2.3l-1.2-3l-0.4-3l0.2-3l0.8-3l1.1-2.2l2-2.5l2.2-2l2.3-1.3l2.9-1zM508.7 119.2l2.3 0.1l2.3 0.9l1.8 2l0.9 2.2l-0.1 2.3l-0.9 2.2l-1.7 1.8l-2.3 1l-3-0.1l-2.2-1.1l-1.5-1.6l-0.9-2.2l-0-2.3l0.9-2.3l2.2-2.1l2.2-0.8zM643.1 123l4.4 0.5l4.3 2.5l2.5 3l1.7 4.5l-0.2 4.5l-1.7 3.8l-3 2.9l-4.3 1.8l-4.5-0.2l-3.8-1.6l-3.1-3l-1.1-2.2l-0.6-2.3l-0.2-3l0.3-2.2l2-4.5l1.2-1.5l2.3-1.8l3.8-1.2zM575.5 128.2l3.8-0.6l3.7 0.8l3.1 2l2.5 3.8l0.7 4.5l-0.9 3.7l-2.1 3l-3.3 2.1l-4.5 0.8l-3.7-0.9l-3-2l-2.5-3.7l-0.6-2.3l-0.1-2.2l1-3.8l2.3-3l3.6-2.2zM471.2 137.2l0.8 0l0.9 0.8l-0.1 1.4l-0.8 0.6l-1.5-0.5l-0.4-0.8l0.2-0.8l0.9-0.7z" fill="rgb(125, 205, 125)"/><path d="M630.5 83.2l5-0.2l3 0.8l2.3 1.1l3.9 3.6l1.4 2.2l1 3l0.2 5.3l-0.7 3l-1.3 2.6l-1.5 2.1l-2.3 2.2l-2.2 1.4l-2.3 0.8l-2.2 0.3l-3-0.3l-3-1l-2.6-1.4l-4-3.7l-1.3-2.3l-1.1-3l-0.3-2.2l0.2-3l0.9-3l1.2-2.3l1.9-2.2l2.1-1.8l4.7-2zM507.1 121.5l1.6-0.6l2.3 0l1.5 0.8l1.2 1.3l0.6 1.5l-0.1 2.2l-0.7 1.5l-1 1.1l-1.5 0.8l-2.3 0.1l-1.5-0.6l-1.5-1.3l-0.7-1.5l-0-2.3l0.7-1.7l1.4-1.3zM641.2 124.5l4.1-0.5l2.2 0.5l2.3 1.1l3 2.7l1.9 3.7l0.6 3.8l-1 4l-2.6 3.5l-3.4 1.9l-4.5 0.5l-3.8-1.1l-3-2.3l-2-3.5l-0.7-4.5l0.9-3.8l2.6-3.9l3.4-2.1zM576.1 129l3.2-0.5l3.7 1l3 2.3l1.9 3.2l0.5 3.8l-0.9 3.3l-2.2 3l-3 1.8l-3.8 0.5l-3.7-0.9l-3-2.3l-1.9-3.2l-0.4-3.8l1.2-3.7l2.5-3l2.9-1.5z" fill="rgb(113, 199, 113)"/><path d="M630.7 84l2.5-0.3l3 0.3l4.5 1.9l3.5 3.3l2 4.5l0.4 2.3l-0.1 3l-0.8 3l-1.2 2.2l-3.2 3.8l-2.1 1.3l-2.2 0.9l-2.3 0.3l-3-0.3l-3-0.9l-2.2-1.3l-2.3-1.8l-1.6-2l-2-4.5l-0.3-2.2l0.2-3l1.7-4.5l3.5-3.8l2.3-1.3l2.7-0.9zM507.9 123.8l1.6-0.7l1.9 0.7l0.5 0.8l0.2 1.5l-0.9 1.5l-1.7 0.4l-1.5-0.6l-0.8-1.2l-0-0.9l0.7-1.5zM642.2 125.2l3.8-0.1l3.8 1.5l2.5 2.3l1.8 3.8l0.3 3.7l-1.3 3.8l-2.6 2.9l-3 1.4l-3.7 0.4l-3.8-1.3l-3-2.7l-1.4-3l-0.4-3.7l1.1-3.9l2.2-3.1l1.5-1.1l2.2-0.9zM576.8 129.8l3.2-0.2l3 1l2.6 2.2l1.5 3l0.3 3l-0.8 3l-2.1 2.8l-3 1.6l-3.7 0.3l-3-1l-2.6-2.2l-1.5-3l-0.2-3.8l1.2-3l2.3-2.4l2.8-1.3z" fill="rgb(100, 193, 100)"/><path d="M630.8 84.8l4.7-0.2l2.2 0.6l3 1.6l3.1 3.3l1.9 4.5l0 4.5l-1.6 4.5l-3.4 3.8l-2.2 1.3l-2.3 0.8l-4.5-0.1l-4.5-1.7l-3.6-3.4l-1.4-2.2l-0.8-2.3l-0.2-4.5l0.5-2.2l1.4-3l3.4-3.4l4.3-1.9zM644 126l3.5 0.5l2.9 1.8l1.9 2.2l1.3 3.8l-0.2 2.9l-1.4 3.2l-2.2 2.2l-3.8 1.4l-3.7-0.3l-3-1.6l-2.1-2.6l-1.1-3.8l0.5-3.7l1.7-3l2.5-2.1l3.2-0.9zM578 130.5l2.8 0.2l3 1.5l1.7 2.1l1 3l-0.3 3l-1.1 2.2l-2.1 1.9l-3 1.1l-3-0.2l-2.7-1.3l-1.9-2.2l-1-3l0.3-3l1.2-2.3l2.6-2.2l2.5-0.8z" fill="rgb(87, 187, 87)"/><path d="M630.5 85.5l4.2-0.3l4.5 1.4l2.3 1.7l1.5 1.7l1.8 3.7l0.3 4.5l-1.4 4.5l-3 3.6l-3.7 2.1l-4.5 0.3l-4.5-1.4l-3.8-3.3l-2.1-4.2l-0.3-4.5l1.7-4.5l3-3.4l4-1.9zM641.9 127.5l3.3-0.5l3 0.9l2.4 1.8l1.6 3l0.5 3l-0.8 3l-1.6 2.3l-2.8 1.8l-3 0.4l-3-0.7l-2.3-1.6l-1.8-2.9l-0.5-3l0.6-3l1.7-2.7l2.7-1.8zM576.3 132l2.9-0.5l2.3 0.5l2.1 1.5l1.4 2.2l0.4 2.3l-0.3 2.2l-1.4 2.3l-2.2 1.5l-3 0.5l-2.3-0.5l-2.1-1.5l-1.4-2.2l-0.4-2.3l0.4-2.2l1.5-2.3l2.1-1.5z" fill="rgb(79, 181, 79)"/><path d="M630.2 86.2l4.5-0.4l3.8 1.2l2.2 1.4l1.5 1.5l1.9 3.8l0.3 4.5l-1.1 3.8l-2.6 3.4l-3.7 2.2l-4.5 0.4l-4.5-1.6l-3.4-3l-1.8-3.7l-0.3-4.5l1.2-3.8l2.8-3.2l3.7-2zM642.9 128.2l3.1-0.1l2.3 0.8l2.2 2.3l1 2.2l0.2 3l-0.7 2.3l-2 2.2l-2.2 1.1l-3 0.2l-2.3-0.8l-2.2-1.9l-1-2.3l-0.3-3l0.6-2.2l1.6-2.3l2.7-1.5zM577.7 132.8l2.3-0l1.5 0.5l1.5 1.2l1.1 2.1l0.2 2.2l-0.8 2.3l-1.5 1.5l-2 0.8l-2.2-0.1l-1.5-0.6l-1.5-1.2l-1-2l-0.2-2.2l0.9-2.3l1.5-1.5l1.7-0.7z" fill="rgb(70, 175, 70)"/><path d="M630.1 87l3.9-0.6l2.3 0.4l2.2 0.9l3 2.5l2 3.5l0.4 3.8l-0.9 3.7l-2.2 3.3l-3.8 2.4l-3.7 0.5l-3.8-0.9l-3.3-2.3l-2.4-3.7l-0.6-2.3l-0.1-2.2l1.1-3.8l2.3-3.1l3.6-2.1zM642 129.8l1.7-0.6l2.3 0.1l2.2 1l1.6 1.8l0.9 2.9l-0.2 2.2l-1.4 2.3l-1.6 1.2l-2.3 0.7l-2.2-0.3l-2.3-1.4l-1.1-1.6l-0.6-2.3l0.1-2.2l1.1-2.3l1.8-1.5zM577.4 134.2l1.8-0.3l1.2 0.3l1.2 0.8l1 1.4l0.3 1.5l-0.3 1.5l-1 1.5l-1.2 0.8l-1.2 0.3l-1.8-0.3l-1.2-0.8l-1.1-1.5l-0.3-1.5l0.3-1.5l1.1-1.5l1.2-0.7z" fill="rgb(62, 169, 62)"/><path d="M629.9 87.8l3.3-0.7l3.8 0.7l3.4 2.2l2 3l0.8 3.8l-0.7 3.8l-1 2l-1.5 1.7l-3 1.9l-3.8 0.6l-3.7-1l-3-2.1l-2.1-3.2l-0.7-3.7l0.8-3.8l2-3l3.4-2.2zM643.4 130.5l1.9-0.2l2.2 0.9l1.4 1.5l0.6 1.5l0 2.3l-0.6 1.5l-1.4 1.4l-1.5 0.6l-2.2 0l-1.5-0.7l-1.3-1.3l-0.7-1.5l-0.1-2.3l0.5-1.5l1.3-1.5l1.4-0.7zM577.5 136.5l1.7-0.5l1.1 0.5l0.6 1.5l-0.6 1.5l-1.1 0.5l-1.7-0.5l-0.7-1.5l0.7-1.5z" fill="rgb(54, 163, 54)"/><path d="M632.9 87.8l3.3 0.4l3 1.6l2.3 2.8l1 3.5l-0.4 3.7l-1.6 3l-2.8 2.3l-3.7 1l-3.8-0.7l-2.9-1.8l-2.1-3l-0.8-3l0.5-3.8l1.8-3l2.8-2.1l3.4-0.9zM643.7 132l2.3 0l1.1 0.8l0.8 1.4l0.1 2.3l-1.1 1.5l-0.9 0.5l-2.2-0l-0.9-0.5l-1-1.5l-0.3-1.5l0.4-1.5l1.7-1.5z" fill="rgb(47, 157, 47)"/><path d="M632.1 88.5l3.4 0.1l2.9 1.4l2.2 2.2l1.2 3l-0.2 3.8l-1.4 3l-2.5 2.2l-3 1.1l-3-0.2l-3-1.3l-2.4-2.5l-1.1-3l-0-3l1.3-3.2l2.2-2.3l3.4-1.3z" fill="rgb(41, 150, 41)"/><path d="M631.7 89.2l3.1-0.1l3 1.2l2 1.9l1.3 3l0.1 3l-1.2 2.9l-2.2 2.3l-2.3 1l-3 0.2l-3-1.1l-2.2-2.1l-1.3-2.5l-0.2-3l0.9-3l2.1-2.3l2.9-1.4z" fill="rgb(34, 144, 34)"/><path d="M631.4 90l2.6-0.3l3 0.9l1.9 1.6l1.3 2.3l0.4 3l-0.6 2.3l-1.6 2.2l-2.9 1.7l-3 0.2l-2.3-0.7l-2.2-1.8l-1.3-2.4l-0.3-3l0.6-2.2l1.7-2.3l2.7-1.5z" fill="rgb(28, 138, 28)"/><path d="M631.3 90.8l2.7-0.4l2.3 0.6l1.8 1.3l1.5 2.3l0.4 3l-0.7 2.2l-1.5 2l-2.3 1.3l-2.2 0.3l-2.4-0.6l-2.1-1.5l-1.4-2.2l-0.3-3l0.7-2.3l1.7-2l1.8-1z" fill="rgb(24, 132, 24)"/><path d="M631.2 91.5l2.1-0.5l2.2 0.4l2.3 1.5l1.1 1.6l0.5 2.2l-0.5 2.3l-1.1 1.8l-2.3 1.5l-2.2 0.4l-2.3-0.6l-1.5-1.1l-1.3-2l-0.5-2.3l0.5-2.2l1.3-1.9l1.7-1.1z" fill="rgb(20, 127, 20)"/><path d="M631.1 92.2l2.1-0.5l2.3 0.3l2.2 1.9l0.9 2l-0.1 2.1l-0.8 1.7l-1.6 1.5l-2.1 0.7l-1.5-0.1l-1.7-0.6l-1.6-1.5l-0.7-1.5l0.1-3l0.9-1.7l1.6-1.3z" fill="rgb(16, 122, 16)"/><path d="M632.8 93l1.2-0l1.5 0.5l1.1 1l0.7 1.5l0 1.5l-0.6 1.5l-1.2 1.2l-1.5 0.5l-1.5-0.1l-1.5-0.8l-1.4-2.3l0.1-1.5l0.6-1.5l1.4-1.2l1.1-0.3z" fill="rgb(13, 116, 13)"/><path d="M632.8 94.5l1.9 0.2l1.1 1.3l-0.3 2.2l-1.5 1l-1.6-0.2l-1.3-1.5l0.1-1.5l0.5-0.9l1.1-0.6z" fill="rgb(9, 110, 9)"/><path d="M633 96l1 0l0.5 0.8l-0.5 0.8l-1.1-0.1l-0.4-0.8l0.5-0.7z" fill="rgb(5, 105, 5)"/></g>
<path d="M368.8 90.8l1.9-0.4l1.5 0l2.2 0.4l1.6 0.7l1.5 1l1.3 1.3l1 1.5l0.7 1.6l0.3 2.2l-0 1.5l-0.6 2.2l-0.7 1.5l-1.3 1.7l-1.4 1.3l-1.6 0.9l-1.5 0.6l-1.5 0.3l-2.2-0l-1.5-0.4l-1.6-0.6l-1.4-1l-1.5-1.6l-1.1-2l-0.5-1.5l-0.3-1.5l0.1-2.2l0.4-1.5l0.7-1.5l1-1.5l1.2-1.2l1.5-1l1.8-0.8" fill="none" stroke="rgba(0,0,0,0.55)" stroke-width="1.2"/>
<path d="M629.5 75.5l-2.2 0.5l-1.1 0.5l-1.2 0.3l-3.7 2.1l-3 2.3l-6.8 6.3l-1.5 1.1l-1.5 0.7l-1.5-0l-3-0.5l-1.5-0.3l-2.2-1l-1.8-0.5l-5-0.7l-2.2-0l-1.5 0.2l-3 1l-2.8 1.7l-2.3 2.3l-1 1.5l-0.6 1.5l-0.7 3l-0 2.2l0.4 2.3l0.8 2.2l0.8 1.5l1 1.5l1.4 1.5l2.2 1.8l1.5 0.8l2.3 0.4l3-0.2l6.4-2l4.6-2.3l3.2-0.8l2.3-0.2l1.5 0.6l2.2 1.5l3 2.6l4 3.8l1.8 2.3l1 1.5l0.9 2.2l0.2 1.5l0.2 5.3l-0.4 3.7l-0 4.5l-0.6 4.5l-0.5 1.5l-0.6 0.9l-0.7 0.6l-0.8 0.3l-2.2 0.4l-6.8-0l-6.7 0.4l-1.5-0.1l-1.5-0.6l-0.8-0.7l-0.7-1.5l-1.9-7.2l-1.3-3.7l-1-2.3l-1.8-3l-2.3-2.9l-3-2.8l-2.2-1.5l-1.5-0.6l-1.5-0.4l-1.5-0.1l-2.3 0.2l-4.5 1l-4.5 1.9l-3.7 2.3l-3 2.9l-2.3 3l-1.9 3.8l-1.3 4.5l-0.4 3l-0.1 2.2l0.3 2.3l0.4 1.5l0.8 1.5l0.9 1.5l2.1 2.2l1.8 1.5l2.7 1.9l3 1.5l2.2 0.9l3 0.7l3 0.4l2.3-0l9.7-1.1l1.5 0.2l0.8 0.4l0.7 0.6l0.8 1.2l2.8 7.6l1.2 2.2l1.6 2.3l1.9 1.9l2.2 1.7l2.3 1.1l3 1l3.7 0.3l3.8-0.5l2.2-0.8l1.5-0.7l3-2.1l2.3-2.5l1.5-2.4l1.6-3.8l2-6.7l0.9-1.3l0.7-0.6l1-0.4l1.3-0.1l8.2 0.6l4.5-0.3l2.3-0.5l2.2-0.7l3.8-2l3-2.3l2.4-2.9l2.1-3.8l1.1-3.7l0.3-3l0-3.8l-0.3-2.2l-0.9-3l-2.5-5.5l-4.7-7.3l-1.2-2.2l-0.6-1.5l-0.2-1.5l-0.1-2.3l0.8-6.7l0.1-3l-0.2-4.5l-1-3.8l-1.4-3l-2.1-3l-3.6-3.6l-2.3-1.5l-3-1.5l-0.8-0.1l-0.7-0.5l-1.9-0.3l-1.8-0.5l-4.5-0.1l-2.3 0.4M439 96.7l-3 0.6l-3 1.2l-2.9 2l-2.2 2.2l-1.6 2.3l-1.2 2.2l-1.6 3.8l-1.8 5.7l-0.7 0.9l-0.8-0.1l-0.7-0.3l-4.9-3.2l-3.4-1.8l-3.7-1.3l-3-0.5l-3.8 0.2l-3 0.9l-3 1.6l-2.7 2.4l-2.3 3l-0.8 1.5l-0.9 2.2l-0.6 3l0.2 3.8l0.5 2.2l0.6 1.5l1.9 3l2.6 2.6l1.8 1.2l2 1l3.7 1l2.3 0.1l2.2-0.2l3.8-1.1l2.2-1.2l1.5-1l2.5-2.4l2.1-3l1.7-3.7l2.6-7.5l0.1-0.4l0.8-0.3l1.5 0.6l4.7 3.1l2.7 1.5l3.1 1.2l3 0.8l3 0.4l3-0.1l3.7-0.5l5.3-1.1l1.6 0l0.6 0.8l0.1 0.7l-0.3 6.8l0.2 4.5l0.9 3.7l1.2 3l0.9 1.5l1.5 2l3 2.6l1.5 0.9l2.3 1l3.7 0.9l3 0.1l3-0.5l3-1.1l3-1.8l1.5-1.3l2-2l2.1-3l2.7-4.8l0.9-1.2l1.3-0.9l0.8-0.2l1.5 0.2l6.7 2.9l3.8 1.2l3.7 0.5l3.8-0.1l2.2-0.4l2.3-0.6l2.2-0.9l1.7-1l1.3-0.9l1.5-1.5l1.1-1.3l1.2-2.3l1.2-3.7l0.3-3.8l-0.2-3.7l-1.1-3.8l-1.4-3l-2.6-3.2l-3-2.4l-3-1.5l-3.7-1.1l-2.3-0.2l-2.2 0.1l-3.8 0.8l-3.7 1.7l-2.8 2.1l-2.2 2.2l-2.1 3l-3.4 6.2l-1 1.3l-1.3 0.8l-0.7 0.1l-1.5-0.2l-8.3-3.1l-3-0.7l-2.2-0.2l-2.3-0l-3 0.2l-7.5 1.6l-1.5 0.2l-0.7-0.4l-0.3-1.3l0.2-7.5l-0.5-4.5l-1.2-3.7l-1.7-3l-1.2-1.5l-1.5-1.5l-1.3-1l-2.3-1.4l-3.7-1.2l-2.3-0.3l-2.2 0.1M537.2 143.8l-1.5 0.7l-1.5 1.1l-1.2 1.4l-0.8 1.5l-0.4 1.5l-0.2 2.2l0.4 2.3l0.5 1.5l0.9 1.5l1.3 1.5l1.8 1.3l1.5 0.7l1.5 0.3l2.2 0.1l1.5-0.3l1.5-0.5l1.5-0.8l1.5-1.3l1.4-1.8l0.8-1.5l0.6-2.2l0.2-1.5l-0.1-1.5l-0.5-1.5l-1-1.5l-1.4-1.4l-1.5-1l-1.5-0.7l-1.5-0.4l-2.2-0.3l-2.3 0.2l-1.5 0.4M628.8 79.4l-3 1.1l-1.5 0.8l-2.2 1.5l-2.7 2.7l-1.6 2.2l-1.5 3l-1 3.8l-0.1 3.7l0.5 3l0.5 1.5l1.5 3l1.5 2.3l2.9 2.9l2.2 1.7l2.3 1.4l3.7 1.9l4.5 1.8l0.8 0.8l-2.3 2.6l-2 3.4l-1.2 3l-0.9 3.7l-0.2 3l0.3 4.5l0.8 3l1.6 3l1.2 1.5l1.9 1.7l2.3 1.3l2.2 0.9l3 0.7l2.3 0.2l2.2-0.1l2.3-0.5l2.2-0.8l2.3-1.3l2.2-1.8l1.5-1.8l1-1.5l1-2.2l0.8-3l0.3-2.3l-0.2-3l-0.7-3l-1.8-3.7l-1.6-2.3l-2.5-2.6l-2.3-1.8l-3.7-2l-3.8-1.3l-0.3-0.5l4.5-6.8l1.6-3l0.9-2.2l0.6-2.3l0.5-3.7l-0.1-2.3l-0.5-3l-1.4-3.7l-1.4-2.3l-2.1-2.4l-3-2.4l-3-1.5l-3.8-1l-4.5-0.1l-3 0.6M437.5 103.4l-1.5 0.6l-1.5 1l-1.4 1.5l-1.1 1.5l-0.6 1.5l-0.5 2.2l0 2.3l0.4 1.5l0.6 1.5l1.1 1.5l1.6 1.5l2.1 1.1l1.5 0.5l2.3 0.3l2.2-0.2l1.5-0.5l1.5-0.7l1.7-1.3l1.2-1.5l0.8-1.5l0.4-1.5l0.3-2.2l-0.2-1.5l-0.4-1.6l-0.6-1.4l-1-1.5l-1.4-1.4l-1.5-1l-1.5-0.7l-2.3-0.5l-2.2 0.1l-1.5 0.4M508 113.2l-2.3 0.5l-2.2 1l-2.3 1.7l-1.8 2.1l-1.3 2.2l-0.8 2.3l-0.4 3l0.2 2.2l0.7 2.3l1.2 2.1l1.4 1.6l2 1.5l2.6 1.3l2.2 0.7l2.3 0.2l2.2-0.2l2.3-0.5l2.2-1.1l2.3-1.7l1.4-1.7l1.3-2.2l0.7-2.3l0.2-2.2l-0.1-2.3l-0.6-2.2l-1-2.3l-1.7-2.2l-1.7-1.5l-2.2-1.3l-2.3-0.8l-2.2-0.3l-2.3 0.1M401.5 116.9l-2.2 0.7l-1.6 0.8l-1.4 1.3l-0.9 1.1l-0.9 1.5l-0.6 1.5l-0.2 1.5l0 2.2l0.4 1.5l0.7 1.5l1 1.5l1.6 1.5l1.8 1l1.5 0.5l1.5 0.2l2.3-0.1l2.2-0.7l1.5-0.9l0.9-0.7l1.4-1.5l0.9-1.5l0.5-1.5l0.4-2.3l-0.1-1.5l-0.4-1.5l-0.6-1.5l-1.1-1.5l-1.6-1.5l-1.7-0.9l-1.5-0.5l-1.5-0.3l-2.3 0.1M578.5 123l-3 0.5l-3 1.1l-2.3 1.4l-2.5 2.3l-1.6 2.2l-1.4 3l-0.7 3l-0.1 3l0.6 3l0.9 2.3l1.4 2.2l2.2 2.3l2.2 1.5l2.8 1.3l3 0.7l3 0.1l3-0.4l3-1l2.6-1.5l1.9-1.6l1.7-2.1l1-2.3l0.7-3l0.1-3l-0.4-3l-1.1-3l-1.7-3l-1.8-2l-2.3-1.8l-2.2-1.2l-3-0.9l-3-0.1M469 128.1l-2.2 0.7l-1.6 0.9l-1.8 1.5l-1.1 1.5l-0.8 1.6l-0.6 2.2l-0.1 2.2l0.3 2.3l0.8 2.2l0.8 1.5l1.3 1.5l2 1.6l1.5 0.8l2.3 0.6l2.2 0.2l2.3-0.4l2.2-0.8l1.5-0.9l1.5-1.3l1.6-2l0.7-1.5l0.7-2.3l0.2-2.2l-0.3-2.3l-0.9-2.2l-1-1.5l-1.5-1.5l-1.7-1.2l-1.5-0.7l-2.3-0.6l-2.2-0.2l-2.3 0.3M609.2 150.6l-2.2 0.9l-1.5 1l-1.5 1.3l-1 1.5l-0.6 1.5l-0.5 2.2l0 2.3l0.5 2.2l1 2.3l1.1 1.5l1.5 1.5l1.7 1.1l1.5 0.7l2.2 0.5l2.3-0.1l2.2-0.5l2.2-1l1.6-1.2l1.5-1.8l0.9-1.5l0.6-1.5l0.4-2.2l0-2.3l-0.4-2.2l-1.1-2.3l-1.2-1.4l-1.5-1.2l-1.5-0.8l-1.5-0.5l-2.2-0.4l-2.2-0l-2.3 0.4M630.2 81.7l-2.7 0.8l-2.8 1.5l-2.6 2.3l-1.8 2.2l-1.4 2.6l-0.8 2.7l-0.3 3l0.4 3.6l1.2 3.1l1.8 3l2.2 2.3l2.3 1.7l3 1.5l3 0.9l3 0.3l3-0.3l3-1.2l2.2-1.7l2.3-2.4l1.7-2.6l1.3-3.1l0.6-2.9l0.1-3l-0.4-3l-1.1-2.8l-1.4-2.4l-1.6-1.8l-2.2-2l-2.8-1.5l-2.5-0.8l-3.7-0.3l-3 0.3M509.5 117.7l-1.5 0.2l-1.5 0.5l-2.3 1.6l-1.2 1.5l-0.7 1.5l-0.4 1.5l-0.1 1.5l0.2 1.5l0.6 1.5l1.6 2.1l2.3 1.5l1.5 0.5l1.5 0.1l1.5-0.1l1.5-0.4l1.5-0.7l1-0.8l1.2-1.5l0.8-1.5l0.4-1.5l0.1-1.5l-0.2-1.5l-0.6-1.5l-1.5-2.2l-1.2-1l-1.5-0.8l-1.5-0.4l-1.5-0.1M641.5 122.1l-2.2 0.8l-2.3 1.6l-1.5 1.6l-1.3 2.1l-1.2 3l-0.4 2.3l-0 2.2l0.5 3l0.8 2.3l0.9 1.5l1.5 1.6l2.2 1.7l2.2 1l2.3 0.6l2.2 0.1l2.3-0.3l2.2-0.7l2.3-1.3l1.5-1.4l1.5-1.9l1.2-2.4l0.6-2.3l0.2-2.2l-0.3-2.3l-0.7-2.2l-1.6-3l-1.7-1.9l-1.5-1.3l-2.2-1.3l-2.2-0.8l-3-0.4l-2.3 0.3M577.7 126.7l-2.2 0.5l-2.3 1l-2 1.5l-1.3 1.5l-1 1.5l-0.9 2.3l-0.4 2.2l0 2.3l0.6 2.2l1 2.3l1.2 1.5l1.6 1.5l1.9 1.1l2.3 0.8l2.3 0.3l2.2-0.1l2.2-0.6l1.9-0.8l1.9-1.4l1.4-1.6l1-1.5l0.8-2.2l0.3-2.3l-0.1-2.2l-0.6-2.3l-1.1-2.2l-1.1-1.5l-1.6-1.5l-2-1.3l-1.5-0.6l-2.2-0.4l-2.3-0M470.5 134.1l-1.9 0.9l-1.1 1.3l-0.6 1.7l0.1 1.5l0.5 1.5l1.5 1.6l1.5 0.7l2.2-0l1.7-0.8l1.4-1.5l0.5-1.5l0-1.5l-0.1-0.7l-0.8-1.5l-1.1-1l-1.5-0.7l-2.3 0M612.2 156.7l-1.5 0.4l-1.3 1.1l-0.7 1.5l-0.1 1.5l0.6 1.5l0.8 0.9l1.5 0.8l1.5 0.1l1.1-0.3l1.1-0.7l1-1.5l0.3-1.5l-0.3-1.5l-1-1.3l-1.5-0.8l-1.5-0.2M630.3 84.7l-2.3 0.8l-2.2 1.5l-1.6 1.5l-1.7 2.2l-1 2.3l-0.5 2.2l-0.1 2.3l0.6 3l0.9 2.2l1.6 2.3l1.5 1.5l1.8 1.3l3 1.4l2.2 0.5l2.3 0.1l2.2-0.4l2.3-0.9l1.9-1.3l1.9-1.9l1.2-1.8l0.8-1.5l0.8-3l0.1-3l-0.3-2.3l-0.8-2.2l-1.4-2.3l-2-2.1l-1.5-1l-2.2-1.1l-2.2-0.6l-3-0.1l-2.3 0.4M643 125.9l-2.2 0.8l-1.4 0.8l-1.5 1.5l-0.9 1.4l-0.7 1.6l-0.4 1.5l-0 1.5l0.2 2.3l0.5 1.5l0.7 1.5l1.2 1.5l1.5 1.1l1.5 0.8l1.5 0.5l2.2 0.1l1.5-0.2l1.5-0.4l1.5-0.8l1.4-1.1l1.2-1.5l0.8-1.5l0.5-1.5l0.2-1.5l-0.2-2.3l-0.8-2.2l-0.8-1.5l-0.8-1l-1.5-1.3l-1.5-0.9l-1.5-0.5l-2.2-0.3l-1.5 0.1M577 130.5l-1.5 0.6l-1.5 0.9l-0.8 0.8l-1.1 1.5l-0.6 1.5l-0.3 1.5l-0.1 1.5l0.3 1.5l1.1 2.2l1.4 1.5l1.1 0.8l1.2 0.6l1.5 0.3l1.5 0.1l1.5-0.2l2.3-0.9l1.5-1.1l0.8-1.1l0.9-1.5l0.4-1.5l0.1-1.5l-0.1-1.5l-0.5-1.5l-0.8-1.5l-0.8-0.9l-1.5-1.2l-1.5-0.7l-1.5-0.4l-1.5-0l-1.5 0.2M631.8 87l-2.2 0.7l-1.5 0.8l-1.5 1.2l-1.5 1.8l-0.8 1.5l-0.7 2.3l-0.1 2.2l0.3 1.5l0.8 2.3l0.9 1.5l1.1 1.3l1.5 1.2l1.5 0.8l2.2 0.8l2.3 0.2l1.5-0.2l2.2-0.7l1.5-0.9l1.2-1l1.2-1.5l0.9-1.5l0.7-2.3l0.2-1.5l-0.1-2.2l-0.6-2.3l-0.8-1.5l-1.2-1.5l-1.5-1.3l-1.5-0.9l-2.2-0.8l-1.5-0.1l-2.3 0.1M642.2 130.4l-1.5 1.3l-0.9 1.8l-0.2 2.2l0.7 2.3l1.3 1.5l1.2 0.7l0.9 0.3l2.2 0l1.5-0.5l1.5-1.3l0.8-1.4l0.2-0.8l0.1-1.5l-0.6-2.3l-1.2-1.6l-0.8-0.6l-1.5-0.6l-2.2-0.1l-1.5 0.6M578.5 135l-1.5 0.7l-0.7 0.8l-0.3 0.8l-0 1.5l0.3 0.7l0.7 0.9l1.4 0.6l0.9 0l0.7-0.2l0.9-0.5l0.7-0.8l0.3-1.5l-0.4-1.5l-0.6-0.7l-0.9-0.6l-1.5-0.2M631 89.7l-1.5 0.7l-1.3 1.1l-1 1.1l-0.6 1.1l-0.5 1.5l-0.1 1.5l0.1 1.5l0.4 1.3l0.8 1.5l0.7 0.9l0.9 0.8l1.4 0.9l1.5 0.6l1.5 0.2l1.5-0.1l1.5-0.4l2.2-1.4l1.1-1.3l0.8-1.5l0.6-2.2l-0-1.5l-0.4-1.5l-0.6-1.5l-0.8-1l-0.7-0.8l-1.5-1.1l-1.5-0.6l-1.5-0.2l-1.5 0l-1.5 0.4M631.8 92.2l-1.5 0.8l-0.8 0.9l-0.7 1.3l-0.2 1.6l0.2 1.6l0.8 1.4l0.7 0.8l1 0.7l2 0.5l2.2-0.4l1.5-1l0.8-1l0.4-1.1l0.4-1.5l-0.7-2.3l-0.8-1.1l-1.5-1.1l-2.3-0.3l-1.5 0.2" fill="none" stroke="rgba(0,0,0,0.6)" stroke-width="1.2" stroke-dasharray="2.8 2.5"/>
<path d="M402.8 126L440.5 112.4" stroke="#000000" stroke-width="1.1" stroke-linecap="butt"/>
<path d="M440.5 112.4L471.6 138.7" stroke="#000000" stroke-width="1.1" stroke-linecap="butt"/>
<path d="M471.6 138.7L509.7 125.5" stroke="#000000" stroke-width="1.1" stroke-linecap="butt"/>
<path d="M509.7 125.5L540.9 152.5" stroke="#000000" stroke-width="1.1" stroke-linecap="butt"/>
<path d="M578.9 138L612.6 160.7" stroke="#000000" stroke-width="1.1" stroke-linecap="butt"/>
<path d="M612.6 160.7L645 135.7" stroke="#000000" stroke-width="1.1" stroke-linecap="butt"/>
<path d="M371.6 99.8L387.2 112.9" stroke="#FF0000" stroke-width="1.1" stroke-linecap="butt"/>
<path d="M387.2 112.9L402.8 126" stroke="#000000" stroke-width="1.1" stroke-linecap="butt"/>
<path d="M405.4 126.8L401.65 146.65" stroke="#000000" stroke-width="1.1" stroke-linecap="butt"/>
<path d="M401.65 146.65L397.85 166.8" stroke="#FF0000" stroke-width="1.1" stroke-linecap="butt"/>
<path d="M400.09 125.79L396.35 145.65" stroke="#000000" stroke-width="1.1" stroke-linecap="butt"/>
<path d="M396.35 145.65L392.55 165.8" stroke="#FF0000" stroke-width="1.1" stroke-linecap="butt"/>
<path d="M578.9 138L584.8 118.2" stroke="#000000" stroke-width="1.1" stroke-linecap="butt"/>
<path d="M584.8 118.2L590.7 98.4" stroke="#CCCC00" stroke-width="1.1" stroke-linecap="butt"/>
<path d="M590.7 98.4L631.4 98.2" stroke="#CCCC00" stroke-width="1.1" stroke-linecap="butt"/>
<path d="M631.4 98.2L638.2 116.95" stroke="#CCCC00" stroke-width="1.1" stroke-linecap="butt"/>
<path d="M638.2 116.95L645 135.7" stroke="#000000" stroke-width="1.1" stroke-linecap="butt"/>
<path d="M578.9 138L539.53 148.9L542.27 156.1Z" fill="#000"/>
<g filter="url(#blurB)"><path d="M601.3 346.2l3.4-0.4l3.8 0l3.7 0.7l3.8 1.2l6 3.6l7.5 6.7l4.5 2.4l0.7 0.1l7.5-2.8l3-0.6l5.3 0.3l3 0.9l3.4 2.2l2.5 2.9l1.5 3.8l0.2 3.8l-0.7 3l-1.5 3l-2 2.2l-2.7 1.8l-3.7 1.1l-5.3 0.4l-3-0.6l-7.5-2.6l-5.2 2.9l-8.3 7.6l-9.7 6.2l-2.2 2l-1.8 2.2l0.8 10.5l-0.5 3l-2.1 5.3l-2.5 2.6l-3 1.7l-3.7 1l-3.8 0.1l-3.8-0.9l-4-2.3l-2.8-3l-1.5-3.7l-0.1-3.8l1.5-6l1.6-3l5.2-6.7l0.1-0.8l-0.4-3l-1-3l-3.4-6.7l-1.4-3.8l-1-5.2l0-4.5l0.7-3.8l1.3-3.7l2-3.8l2.3-3l3.2-2.9l3-2l3.8-1.7l3.3-0.9zM373.7 359.8l4.5-0.2l2.3 0.5l2.7 1.2l3.4 3l2.4 4.5l0.5 5.2l-1.1 4.6l-1.5 2.2l-1.5 1.5l-4.2 2.2l-5.2 0.6l-4.9-1.3l-4-3l-1.6-2.2l-1-2.3l-0.6-2.2l-0-3.1l0.6-2.9l1.1-2.3l1.6-2.2l2-1.8l4.5-2zM407.7 386.8l5 0.5l4.5 2.3l1.8 1.7l1.5 2.2l1.3 4.6l-0.1 2.9l-0.6 2.3l-2.4 4.2l-4 3.3l-2.7 1.1l-2.3 0.4l-4.5-0.5l-2.2-1.1l-2.3-1.8l-2.9-4.1l-0.8-2.2l-0.5-3l0.5-4.5l0.9-2.3l1.3-2l3.8-2.8l4.7-1.2zM552.3 411.5l2.9-0.1l3 0.4l5.3 2.3l2.4 1.9l1.9 2.3l1.2 2.2l0.5 2.3l0.1 3l-0.5 3l-2.5 5.2l-2 2.3l-2.6 2l-2.3 1.1l-3 0.8l-5.2-0.2l-3-1l-2.3-1.2l-2.2-2l-2-2.6l-1.1-2.2l-0.8-3l-0.2-3l0.4-3l1.1-3l1.4-2.2l1.9-2l2.3-1.6l2.2-1l3.1-0.7zM626.5 422l5.2 0.2l2.3 0.6l2.7 1.4l1.8 1.6l1.9 2.2l1.9 4.5l0.3 2.2l-0.2 3.1l-0.9 2.9l-1.2 2.3l-1.8 2.1l-2 1.6l-4.8 2.1l-2.2 0.2l-3-0.2l-3-0.9l-2.3-1.3l-3.5-3.6l-1.3-2.3l-0.9-3l-0.4-3l0.3-3l0.6-2.2l1.3-2.3l1.7-1.9l2.2-1.6l5.3-1.7zM399.4 428l2.9-0.3l2.2 0.3l2.3 0.9l2.1 1.4l3.3 3.7l1.1 2.3l0.7 3l0.1 3l-0.5 2.2l-0.9 2.3l-1.4 2.2l-3.8 3.1l-4.5 1.5l-4.5-0.2l-2.2-0.8l-2.4-1.3l-1.7-1.5l-1.7-2.3l-1.6-4.5l0.1-4.5l0.6-2.2l1.4-2.6l1.6-1.9l2.2-1.8l4.6-2z" fill="rgb(252, 246, 246)"/><path d="M601.9 347.8l5.1-0.4l4.5 0.6l4.5 1.6l3.7 2.1l3.8 3.2l3.5 4.1l2.7 4.5l1.3 3.6l1.7 1.7l0.6 1.5l-2.3 2.9l-1.4 3.8l-2.6 4.5l-2.8 3.5l-3 2.9l-3.7 2.6l-3.8 2l-5.2 1.8l-6 1.1l-1.3 1.1l-1 3l2.2 3l1.6 4.5l0.4 3l-0.4 3l-1.9 3.8l-2.3 2.2l-3.3 1.5l-3.8 0.2l-3.7-1.4l-3-2.9l-1.3-3.4l0.2-4.5l1.1-3.2l2.1-2.8l3.9-3l3.5-1.5l0.6-1.5l0-2.2l-0.8-1.5l-3.3-2.9l-2.7-3.1l-3.7-6l-2.1-6.8l-0.1-6.7l0.9-3.8l1.1-3l1.7-3l2.4-3l2.5-2.2l3-2l3-1.4l3.9-1.1zM644.8 361.2l3.4-0.2l3.8 1l3 2.2l1.4 2.2l0.7 3.1l-0.6 3.4l-1.6 2.6l-2.9 2l-4.5 1.1l-3.8-0.6l-4.5-2.8l-2.3-2.8l-0.6-2.9l1-3.1l1.3-1.4l2.9-2.3l3.3-1.5zM374.8 363.5l3.4-0l3 1.1l2.8 2.6l1.3 3l0.1 3.8l-1.1 3l-2.3 2.5l-3 1.4l-3.8 0.1l-3-1l-3-2.8l-1.3-3.2l0-3.8l1.3-3l2.3-2.3l3.3-1.4zM406.3 391.2l3.4-0.4l3 0.8l2.7 1.8l1.8 3l0.4 3.8l-0.9 3l-1.7 2.3l-3 1.8l-3 0.6l-3-0.7l-2.7-1.8l-2-3l-0.6-3.7l0.6-3l2.3-3l2.7-1.5zM550.9 415.2l4.3-0.5l4.5 1.2l3.3 2.3l2.3 3.8l0.6 3.7l-1 4.5l-2.7 3.8l-4 2.4l-4.5 0.6l-3.7-0.9l-3.8-2.7l-2.3-4l-0.6-4.4l1.3-4.6l2.4-3l3.9-2.2zM626.5 425.8l3.8-0.2l3.7 1.3l3 2.6l1.5 3l0.5 3.8l-1.1 3.7l-2.4 3.1l-3.7 2l-3.8 0.3l-3.7-1.1l-3.2-2.8l-1.9-3.7l-0.2-3.8l1.2-3.7l2.6-2.8l3.7-1.7zM398.8 432.5l3.5-0.4l3 0.8l3 2.5l1.6 3.1l0.2 3.7l-1 3l-2.3 2.7l-3 1.5l-3.8 0.2l-3-1l-2.2-1.9l-1.7-3l-0.4-3.7l0.9-3l1.9-2.5l3.3-2z" fill="rgb(246, 227, 227)"/><path d="M602.2 349.2l4.8-0.4l4.5 0.6l4.5 1.7l3.7 2.4l3.4 3.2l3.2 4.5l2.1 4.5l0.7 3.8l-0.3 3.7l-1.7 4.5l-2.2 3.8l-3.7 4.2l-3.7 3l-4.5 2.2l-4.5 1.4l-3.8 0.6l-3.7-0.2l-3-1l-3-1.8l-3-2.7l-2.9-3.5l-2.2-3.8l-1.4-3.7l-0.8-4.5l0.1-3.8l0.7-3.7l1.5-3.8l2.5-3.7l2.5-2.5l3-2.3l3-1.5l4.2-1.2zM645.4 366.5l1.4-0.5l1.5 0l1.5 0.7l1.1 1.3l0.5 2.2l-0.5 1.6l-1.1 1.1l-1.5 0.7l-1.5 0l-1.5-0.6l-1.3-1.2l-0.5-1.6l0.1-1.4l0.9-1.6l0.9-0.7zM374.6 368.8l1.4-0.5l1.5 0.1l1.5 0.7l1.1 1.2l0.5 1.5l-0.1 1.5l-1.5 2.2l-1.5 0.7l-1.5 0l-1.7-0.6l-1.3-1.5l-0.4-1.5l0.2-1.5l0.9-1.5l0.9-0.8zM408.7 396.5l1.8 0.3l0.8 0.5l0.7 1.4l-0.5 2.3l-1.7 1.1l-2.3-0.5l-0.7-0.8l-0.4-1.3l0.4-1.7l1.9-1.3zM592.9 404.8l2.1-0.3l2.3 0.7l1.9 1.9l0.9 2.2l-0.1 2.3l-1.2 2.2l-1.5 1.5l-2.3 1l-2.2-0.2l-1.6-0.8l-1.3-1.5l-0.8-2.2l-0-2.3l0.7-1.9l1.5-1.7l1.6-0.9zM552.6 418.2l2.6-0.2l3.1 0.9l2.2 1.7l1.6 2.9l0.3 3l-0.9 3l-1.8 2.2l-3 1.7l-3 0.2l-3-0.9l-2.2-1.8l-1.6-2.9l-0.3-3l1-3l1.9-2.3l3.1-1.5zM628.3 429.5l2 0.1l2.2 1l1.7 1.9l0.8 2.2l-0.2 2.3l-1.1 2.2l-1.9 1.6l-2.3 0.7l-2.2-0.3l-2.3-1.2l-1.2-1.5l-0.8-2.2l0.1-2.3l1.1-2.2l1.8-1.6l2.3-0.7zM399.6 437.8l1.2-0.4l1.5-0l1.5 0.7l0.9 1.2l0.4 1.5l-0.2 1.5l-1 1.5l-0.9 0.6l-1.5 0.3l-1.2-0.2l-2-1.5l-0.5-1.5l0.1-1.5l0.6-1.3l1.1-0.9z" fill="rgb(241, 212, 212)"/><path d="M604 350l4.5 0l3.8 0.8l3.7 1.6l3.8 2.5l3.2 3.3l2.3 3.8l1.5 3.7l0.6 3.8l-0.3 3.7l-1.1 3.8l-1.9 3.7l-3 3.8l-3.6 2.9l-3.7 2.1l-3.8 1.2l-4.5 0.6l-4.5-0.4l-3-1.1l-3-1.7l-3-2.7l-2.5-3.2l-2-3.7l-1.2-3.8l-0.5-3.7l0.2-3.8l1-3.7l1.7-3.8l2.3-3l2.5-2.4l3.2-2.1l3.6-1.4l3.7-0.8zM553.4 422.8l2.2 0l1.9 1.6l0.4 1.4l-0.3 1.5l-1.6 1.6l-1.5 0.4l-1.5-0.4l-1.5-1.6l-0.3-1.5l0.3-1.3l0.7-1l1.2-0.7z" fill="rgb(236, 198, 198)"/><path d="M601.3 351.5l3.4-0.6l4.5 0.2l4.5 1.3l3 1.5l3.6 2.9l2.4 2.9l1.8 3.1l1.3 3.7l0.4 3.8l-0.4 3.7l-1.3 3.8l-1.7 3l-2.4 3l-2.9 2.4l-3 1.8l-4.5 1.7l-3.8 0.5l-3.7-0.2l-3.8-1.1l-3-1.6l-3-2.6l-2.6-3.2l-1.6-3l-1.4-4.5l-0.4-3.7l0.4-3.8l0.9-3l1.9-3.7l2.1-2.8l2.2-2l3.8-2.3l3.3-1.2z" fill="rgb(232, 186, 186)"/><path d="M601.6 352.2l3.9-0.6l3.7 0.3l3.8 1l3 1.5l3.1 2.3l2.6 3l1.8 3l1.3 3.8l0.4 3.7l-0.2 3l-1.2 3.8l-1.8 3.4l-2.3 2.7l-3 2.6l-3 1.7l-3.7 1.3l-3.8 0.5l-3-0.2l-3-0.7l-3.7-1.8l-3-2.3l-2.3-2.8l-1.8-2.9l-1.3-3.8l-0.5-3.8l0.2-3.7l1.1-3.8l1.5-2.9l2.3-3.1l2.5-2.2l2.8-1.7l3.6-1.3z" fill="rgb(228, 175, 175)"/><path d="M601.8 353l3.7-0.5l3.8 0.2l3.7 1l2.9 1.5l2.9 2.3l2.5 3l1.7 3l1 3l0.4 3l-0.2 3.7l-1.2 3.8l-1.6 3l-2.4 2.8l-2.9 2.4l-3.1 1.7l-3 1l-3.7 0.5l-3-0.2l-3-0.7l-3.2-1.5l-2.8-2.2l-2.3-2.5l-1.7-2.8l-1.4-3.8l-0.5-3.7l0.1-3l0.9-3.8l1.4-3l2-2.6l2.7-2.6l3.3-1.9l3-1.1z" fill="rgb(224, 163, 163)"/><path d="M602.1 353.8l3.4-0.5l3 0.1l3.8 1l3 1.5l3 2.3l2.2 2.6l1.9 3.5l0.9 3l0.3 3.7l-0.5 3l-1 3l-1.7 3.1l-2.1 2.4l-3 2.4l-3 1.5l-3 0.9l-3 0.3l-3-0.1l-3-0.8l-3-1.5l-3-2.5l-2.2-2.6l-1.6-3l-0.9-3l-0.4-3l0.2-3.8l0.9-3l1.5-3l2.3-3l2.4-2l3-1.6l2.6-0.9z" fill="rgb(220, 151, 151)"/><path d="M602.4 354.5l3.1-0.4l3.7 0.2l3 0.9l3 1.6l2.7 2.2l1.9 2.2l1.6 3.1l1 2.9l0.3 3.1l-0.3 2.9l-0.9 3.1l-1.7 2.9l-1.8 2.3l-2.8 2.4l-3 1.6l-3 0.9l-3 0.4l-3-0.3l-3-0.8l-3-1.6l-2.2-1.8l-2.3-2.8l-1.4-2.5l-1-3l-0.4-3l0.2-3l0.7-3l1.4-3l2-2.7l2.3-2l3-1.8l2.9-1z" fill="rgb(216, 140, 140)"/><path d="M602.7 355.2l2.8-0.4l3 0.2l3 0.7l3 1.5l2.3 1.8l2.2 2.5l1.5 2.7l1 3l0.3 3l-0.3 3l-0.9 3l-1.2 2.2l-1.9 2.5l-2.4 2.1l-2.9 1.5l-3 1l-3 0.4l-3-0.3l-3-0.9l-2.2-1.2l-2.3-1.7l-2.2-2.6l-1.6-3l-0.9-3l-0.3-3l0.3-3l1-3l1.2-2.2l1.8-2.4l2.2-1.9l3-1.7l2.5-0.8z" fill="rgb(212, 128, 128)"/><path d="M602.9 356l2.6-0.4l3 0.2l3 0.8l2.3 1.1l2.2 1.6l2.3 2.5l1.4 2.4l1 3l0.4 3l-0.4 3l-0.9 3l-1.3 2.3l-1.9 2.2l-2.1 1.8l-2.3 1.2l-2.9 1.1l-3 0.3l-3-0.2l-3-1l-2.3-1.3l-2.2-1.9l-1.8-2.2l-1.2-2.3l-1-3l-0.3-3l0.3-3l1-2.8l1.3-2.4l1.7-2l2.2-1.9l4.9-2.1z" fill="rgb(207, 120, 120)"/><path d="M603.1 356.8l2.4-0.3l3 0.1l3 0.9l2.2 1.2l3.8 3.5l1.5 2.5l0.9 2.6l0.3 3l-0.1 2.2l-0.9 3.1l-1.2 2.2l-3.5 3.8l-2.3 1.3l-3 1.1l-3 0.4l-2.2-0.2l-2.3-0.5l-3-1.5l-3.8-3.7l-1.3-2.2l-1-3l-0.1-5.3l0.8-3l1.2-2.2l3.6-3.8l2.1-1.2l2.9-1z" fill="rgb(203, 111, 111)"/><path d="M603.5 357.5l5-0.1l3 0.9l2.3 1.3l1.9 1.7l1.8 2.2l1.7 4.5l0.2 3l-0.3 2.3l-2.1 4.5l-1.7 2l-2.3 1.7l-4.5 1.8l-3 0.2l-2.2-0.3l-4.5-2l-2.2-1.9l-1.6-2.2l-1.7-4.6l-0.2-3l0.4-2.2l2-4.5l3.3-3.3l2.2-1.2l2.5-0.8z" fill="rgb(198, 103, 103)"/><path d="M603.9 358.2l4.6-0l4.5 1.8l3.5 3.4l1.9 4.6l-0 4.4l-1.8 4.6l-3.6 3.5l-4.5 1.9l-4.5 0l-4.5-1.8l-1.8-1.4l-1.8-2.2l-1.8-4.6l0.1-4.4l1.8-4.6l3.5-3.4l4.4-1.8z" fill="rgb(193, 94, 94)"/><path d="M604.1 359l4.4 0l3.8 1.5l3.3 3l1.3 2.2l0.7 2.3l0 4.5l-1.6 3.9l-3 3.2l-2.2 1.3l-2.3 0.7l-4.5 0.1l-4.1-1.7l-3-3l-1.3-2.2l-0.7-2.3l0.1-4.5l1.5-3.9l3-3.1l2.3-1.3l2.3-0.7z" fill="rgb(189, 86, 86)"/><path d="M604.2 359.8l4.3 0.1l3.7 1.6l3 3l1.6 4.3l-0.3 4.5l-1.9 3.7l-3.1 2.7l-3.8 1.3l-4.5-0.3l-3.7-1.9l-2.8-3.3l-1.2-3.7l0.2-3.8l1.6-3.7l2.9-2.9l4-1.6z" fill="rgb(184, 77, 77)"/><path d="M604.6 360.5l3.9 0.1l3.7 1.8l2.4 2.6l1.4 3.7l-0.1 3.8l-1.7 3.7l-2.7 2.5l-3.8 1.4l-3.7-0.1l-3.8-1.7l-2.5-2.8l-1.4-3.8l0.2-3.7l1.8-3.8l2.7-2.4l3.6-1.3z" fill="rgb(179, 69, 69)"/><path d="M605.2 361.2l4.1 0.5l3 1.7l2.2 3l0.8 3.1l-0.4 3.7l-1.8 3l-2.9 2.2l-3.2 1l-3.7-0.5l-3-1.7l-2.1-2.5l-1.1-3.8l0.5-3.7l1.8-3l2.4-1.9l3.4-1.1z" fill="rgb(175, 60, 60)"/><path d="M605.6 362l2.9 0.3l3 1.6l2.2 2.6l0.9 3l-0.3 3l-1.5 3l-2.8 2.2l-3 0.9l-3-0.2l-3-1.6l-2.2-2.8l-0.9-3l0.3-3l1.6-3l2.7-2.2l3.1-0.8z" fill="rgb(170, 52, 52)"/><path d="M606.1 362.8l3.2 0.6l2.2 1.5l1.7 2.4l0.6 3l-0.6 3l-1.7 2.5l-2.2 1.5l-3 0.6l-3-0.6l-2.3-1.4l-1.7-2.6l-0.6-3l0.6-3l1.5-2.2l2.5-1.7l2.8-0.6z" fill="rgb(162, 45, 45)"/><path d="M603.2 364.2l2.3-0.7l3 0.4l2.3 1.3l1.5 2l0.7 2.2l-0.3 3.1l-1.4 2.2l-2 1.6l-2.3 0.7l-3-0.3l-2.2-1.3l-1.7-2.2l-0.6-2.2l0.4-3.1l1.3-2.2l2-1.5z" fill="rgb(155, 39, 39)"/><path d="M603.5 365l2-0.6l2.2 0.1l2.3 1.2l1.3 1.6l0.8 2.2l-0.1 2.2l-1.1 2.3l-1.7 1.4l-2.2 0.8l-2.3-0.1l-2.2-1.1l-1.5-1.8l-0.7-2.2l0.1-2.2l1.2-2.3l1.9-1.5z" fill="rgb(148, 32, 32)"/><path d="M603.8 365.8l1.7-0.5l2.2 0.1l1.9 1.1l1.2 1.5l0.5 1.5l-0.2 2.3l-1.1 2l-1.5 1.2l-1.5 0.4l-2.3-0.1l-2.1-1.2l-1.1-1.6l-0.4-1.4l0.2-2.3l0.7-1.5l1.8-1.5z" fill="rgb(140, 25, 25)"/><path d="M604.2 366.5l1.3-0.5l1.5 0l1.5 0.6l1.4 1.4l0.6 1.5l0 1.5l-0.5 1.5l-1.5 1.5l-1.5 0.6l-1.5-0l-1.5-0.6l-1.5-1.5l-0.5-1.5l-0-1.5l0.6-1.5l1.6-1.5z" fill="rgb(132, 19, 19)"/><path d="M604.5 367.2l2.5-0.4l1.5 0.8l0.9 1.1l0.3 1.5l-0.3 1.5l-1.6 1.7l-1.5 0.4l-1.5-0.3l-1.8-1.8l-0.2-2.2l0.8-1.6l0.9-0.7z" fill="rgb(125, 12, 12)"/><path d="M604.7 368l2.3-0.3l1.5 1.1l0.3 2.2l-1.1 1.6l-2.2 0.4l-1.6-1.2l-0.3-2.3l1.1-1.5z" fill="rgb(118, 8, 8)"/><path d="M605 368.8l1.2-0.4l1.5 0.8l0.4 1.1l-0.7 1.5l-1.2 0.5l-1.5-0.7l-0.5-1.3l0.8-1.5z" fill="rgb(112, 4, 4)"/><path d="M605.5 370.2l0.8-0.7l0.7 0.7l-0.7 0.8l-0.8-0.8z" fill="rgb(105, 0, 0)"/></g>
<path d="M602.9 345.5l1.9-0.3l3 0l4.5 0.7l3.7 1.2l4.5 2.4l9 6.9l2.3 1.4l2.2 1.1l4.5-1.1l3.8-1.4l3-0.5l5.2 0.4l2.3 0.5l1.5 0.5l2.2 1.3l1.5 1.2l1.5 1.7l1.3 2l0.7 1.5l0.6 2.3l0.2 2.2l-0.1 2.3l-0.8 3l-1.6 3l-1.9 2.2l-2.9 2l-1.5 0.7l-2.2 0.6l-5.3 0.5l-3-0.3l-3.7-1.3l-5.3-1.1l-3.7 2.3l-8.7 7.1l-8.5 6l-2.3 2l-1.5 1.8l-0.1 4.5l0.5 4.5l-0.2 3l-1.4 5.2l-0.6 1.5l-1 1.5l-1 1.1l-1.5 1.3l-1.5 0.9l-2.2 0.9l-3.8 0.9l-2.2 0.1l-2.3-0.2l-2.2-0.5l-2.3-0.8l-2.2-1.2l-1.5-1l-1.8-1.5l-1.2-1.5l-0.9-1.5l-0.8-2.2l-0.2-2.3l0.3-2.2l0.5-2.3l1.4-4.5l1.2-2.3l2.7-3.7l2.2-3.7l0.3-0.8l-0.4-2.2l-0.7-2.3l-3.3-8.2l-1.4-4.5l-0.6-4.5l0-3.8l0.7-3.7l1.6-4.5l2.1-3.8l2.5-3l3.3-2.9l3-1.9l3.7-1.7l3-0.8l1.9-0.2M372.1 359l2.4-0.6l2.2-0.1l3 0.3l2.3 0.7l2.2 1.2l2.3 1.9l1.6 1.9l1.3 2.2l0.8 2.3l0.6 3l-0.1 3l-0.6 3l-0.9 2.2l-1.6 2.3l-1.9 1.5l-2.2 1.2l-3 1l-3 0.3l-3-0.2l-2.3-0.6l-3-1.4l-2.2-1.8l-2-2.3l-1.2-2.2l-0.9-3l-0.3-3l0.5-3l0.8-2.3l1.2-2.2l2-2.3l2.1-1.6l2.9-1.4M447.1 382.2l0.9-0.3l1.5-0.1l1.2 0.4l1 0.9l0.7 1.4l0 1.5l-0.7 1.5l-0.7 0.7l-1.5 0.6l-1.5-0.1l-1.2-0.5l-1.1-1.2l-0.4-1l0.1-1.5l0.8-1.5l0.9-0.8M404.7 386l2.8-0.5l3 0.1l3 0.6l2.3 1l2.2 1.4l2.3 2.2l1.5 2.2l1 2.8l0.4 2.9l-0.3 3.1l-1 2.9l-1.3 2.3l-1.8 2.2l-2.3 1.9l-2.2 1.3l-3 1.1l-2.3 0.3l-2.2-0.2l-2.3-0.6l-2.2-1.2l-2.3-1.8l-1.8-2.2l-1.3-2.3l-1.1-3l-0.4-2.2l-0.1-3.1l0.5-2.9l0.9-2.3l1.5-2.2l1.7-1.6l2.4-1.4l2.4-0.8M519.1 393.5l1.6-0.6l2.3 0.1l1.3 0.5l0.9 0.6l1.4 1.6l0.7 2.3l-0.2 2.2l-0.4 1l-0.7 1.1l-1.5 1.1l-2.3 0.7l-2.2-0.3l-1.1-0.6l-1-0.7l-1.1-1.5l-0.7-2.3l0.4-2.2l0.8-1.5l0.7-0.8l1.1-0.7M550.5 410.8l3.3-0.4l3 0.1l3 0.7l3 1.2l3.3 2.1l2.4 2.3l1.5 2.2l0.8 2.3l0.3 3l-0.4 3l-1.2 3.8l-1.6 2.9l-2.1 2.7l-2.2 1.8l-2.3 1.4l-3 1.1l-3 0.4l-3-0.1l-3-0.8l-3-1.4l-2.6-2.1l-1.9-2.2l-1.3-2.2l-1.1-3.1l-0.5-2.9l0.1-3.1l0.6-2.9l1.3-3.1l1.7-2.2l2.2-2l3-1.6l2.7-0.9M624.3 421.2l2.9-0.5l3 0.1l3 0.6l3 1.2l2.3 1.6l2.2 2.2l1.4 2.3l0.9 2.2l0.6 3l-0 3l-0.7 3.1l-0.9 2.2l-1.5 2.2l-2.2 2.3l-2.1 1.5l-3 1.3l-3 0.5l-3-0l-3-0.7l-2.2-1l-2.4-1.6l-2.2-2.3l-1.5-2.2l-1.3-3l-0.6-3l-0.1-3.8l0.6-3l1-2.2l1.7-2.3l1.8-1.4l2.2-1.2l3.1-1.1M399.9 426.5l3.1-0.2l2.2 0.4l2.3 1l2.2 1.6l2.3 2.3l1.5 2.4l1 2.2l0.6 3.1l0.1 2.9l-0.4 2.3l-1.2 3l-1.5 2.2l-1.6 1.8l-2.3 1.5l-2.2 1.1l-3 0.7l-3-0l-2.3-0.4l-3-1.2l-2.2-1.6l-1.9-1.9l-1.5-2.2l-0.9-2.3l-0.6-3l0-3l0.5-2.2l0.9-2.3l1.4-2.2l2-2.3l2.3-1.7l2.3-1.1l2.9-0.9M601.8 349.2l2.2-0.4l2.2-0.1l2.3 0.1l3 0.5l3 1l1.5 0.7l3.7 2.4l3.6 3.3l1.8 2.2l1.5 2.3l1.1 2.2l0.9 2.3l0.6 2.2l0.1 1.6l0 1.4l-0.3 2.3l-0.7 2.2l-0.9 2.3l-1.3 2.2l-1.6 2.3l-3.3 3.7l-3.7 2.9l-4.5 2.3l-4.5 1.4l-3.8 0.5l-3.7-0.1l-3-1l-3-1.8l-3-2.6l-3-3.8l-2.2-3.7l-1.4-3.8l-0.5-2.2l-0.2-2.3l0-3.7l0.8-3.8l1.5-3.7l2.4-3.8l2.6-2.7l3-2.2l3-1.5l2.2-0.8l1.6-0.3M645.6 365.8l1.9-0.4l1.6 0.4l1.4 0.8l1.1 1.4l0.4 0.7l0.1 1.6l-0.5 1.5l-1.1 1.3l-1.5 0.9l-1.5 0.3l-1.6-0.2l-1.4-0.8l-1.2-1.5l-0.4-1.5l0.1-1.5l0.2-0.8l1.2-1.4l1.2-0.8M374.9 368l1.8-0.3l1.5 0.3l1.5 0.9l1 1.4l0.3 0.7l0.1 1.5l-0.3 1.5l-1 1.5l-1.6 1l-1.5 0.3l-0.7-0.1l-1.5-0.4l-1-0.8l-1.1-1.5l-0.2-0.7l-0.1-1.5l0.4-1.5l1.1-1.5l1.3-0.8M408.8 395.8l1 0l1.5 0.6l0.9 0.9l0.6 1.5l-0.1 1.5l-0.7 1.3l-1.2 0.9l-1 0.4l-1.5-0.1l-1.5-0.8l-0.7-0.9l-0.4-1.5l0.2-1.5l0.4-0.8l1.2-1.1l1.3-0.4M591.8 404.8l0.9-0.4l1.5-0.3l2.3 0.3l0.9 0.4l1.3 1l1.4 2l0.4 2.2l-0.4 2.3l-0.6 1.3l-0.8 0.9l-0.8 0.8l-1.4 1l-2.3 0.5l-2.2-0.5l-1.6-1l-0.7-0.8l-0.7-1.4l-0.4-2.3l0.2-2.2l1.2-2.3l1.8-1.5M551.6 418.2l1.4-0.4l1.5-0.1l1.5 0.1l1.5 0.4l1.5 0.8l1.5 1.2l0.8 1l0.8 1.5l0.5 1.5l0.1 1.5l-0.1 1.5l-0.4 1.5l-0.8 1.5l-1.3 1.5l-1.1 0.9l-1.5 0.8l-1.5 0.4l-1.5 0.2l-1.5-0.2l-2-0.6l-1.2-0.7l-1.3-1.2l-0.9-1.1l-0.7-1.5l-0.5-1.5l-0.1-1.5l0.2-1.5l0.5-1.6l0.7-1.4l1.4-1.5l1-0.7l1.5-0.8M626.6 429.5l1.4-0.3l1.5-0.1l2.2 0.6l1.8 1.3l0.6 0.7l0.8 1.5l0.4 2.3l-0.2 1.5l-0.4 1.2l-0.6 1l-0.9 1l-0.7 0.6l-1.5 0.7l-2.3 0.4l-2.2-0.5l-2.1-1.4l-0.9-1.3l-0.5-1l-0.4-1.5l-0.1-1.5l0.7-2.2l1.1-1.5l0.9-0.8l1.4-0.7M399.8 437l1.7-0.3l1.5 0.3l1.5 1l0.9 1.2l0.3 1.6l-0.4 2l-0.8 1.1l-1.5 1l-0.7 0.3l-1.5 0l-1.5-0.5l-1.1-1l-0.8-1.5l-0.2-1.5l0.3-1.5l1-1.4l1.3-0.8" fill="none" stroke="rgba(0,0,0,0.55)" stroke-width="1.2"/>
<path d="M601.8 351.5l3.7-0.5l3.7 0.2l2.3 0.5l2.2 0.8l3 1.6l3.4 2.6l2.5 3l2.1 3.8l1.1 3.7l0.3 3.8l-0.6 3.7l-1.5 3.8l-1.9 3l-2.4 2.7l-3 2.4l-3.7 2l-3.8 1.1l-3.7 0.4l-3.8-0.4l-3-0.9l-3-1.7l-3-2.6l-2.4-3l-1.7-3l-0.9-2.3l-0.5-2.2l-0.4-3.8l0.4-3.7l1.2-3.8l1.6-3l2.4-3l3.3-2.7l3-1.5l3.1-1M603 353l3.3-0.3l3.7 0.4l3.8 1.3l2.7 1.6l2.6 2.2l2.4 3.1l1.5 2.9l1 3.8l0.1 3l-0.6 3.8l-1.2 2.9l-1.8 3.1l-2.2 2.4l-3 2.3l-3 1.4l-3.8 1l-3.7 0.2l-3-0.4l-3-1.1l-3-1.9l-2.7-2.4l-1.8-2.6l-1.5-3.1l-0.9-3.3l-0.3-3l0.4-3.8l1.3-3.7l1.7-2.9l2.3-2.5l2.8-2.1l3.1-1.5l2.8-0.8M606.2 354.5l3.1 0.3l3 0.9l3 1.6l2.2 1.9l1.8 2.1l1.7 2.9l0.9 3.1l0.3 2.9l-0.3 3.1l-0.9 2.9l-1.7 3.1l-1.9 2.2l-2.1 1.8l-3 1.7l-3 0.9l-3.8 0.4l-3-0.4l-3-1l-2.2-1.4l-2.4-2l-1.8-2.2l-1.6-3.1l-0.8-3l-0.3-2.9l0.3-3.1l0.9-2.9l1.6-3.1l1.8-2l2.3-1.9l3-1.6l3-0.9l2.9-0.3M602.3 356.8l2.4-0.5l3 0l2.4 0.5l2.9 1.2l2.6 1.8l1.9 2l1.5 2.5l0.9 2.2l0.5 3.1l-0.1 2.2l-0.6 2.8l-1 2.4l-1.6 2.3l-2.3 2.2l-2.4 1.6l-2.4 0.9l-3 0.5l-2.3 0l-3-0.6l-2.2-1l-2.3-1.5l-2-2.1l-1.7-2.8l-0.9-2.4l-0.5-3.1l0.1-2.2l0.5-2.7l1.1-2.5l1.6-2.3l1.8-1.8l2.3-1.5l2.8-1.2M603.7 358.2l2.5-0.3l2.3 0.3l2.2 0.6l2.3 1.2l2.2 1.9l1.3 1.6l1.2 2.2l0.6 2.2l0.3 2.3l-0.2 2.2l-0.7 2.3l-1.2 2.2l-1.8 2.3l-1.7 1.3l-2.3 1.2l-2.2 0.7l-2.3 0.2l-2.2-0.1l-2.3-0.7l-2.2-1.1l-1.9-1.5l-1.8-2.2l-1.1-2.3l-0.7-2.2l-0.2-2.3l0.3-2.2l0.6-2.3l1.2-2.2l1.3-1.7l2.3-1.9l2.2-1.1l2-0.6M605.2 359.8l1.8-0l2.2 0.4l2.3 1l1.5 1l1.5 1.5l1.3 2.1l0.6 1.5l0.4 2.2l-0.1 2.3l-0.3 1.5l-1 2.2l-1 1.6l-1.5 1.4l-2.2 1.5l-2.2 0.7l-1.5 0.3l-2.3-0.1l-1.5-0.3l-2.2-1l-1.6-1l-1.5-1.5l-1.4-2.3l-0.7-2.2l-0.2-1.5l0.1-2.3l0.3-1.5l1-2.2l1-1.5l1.5-1.5l1.5-1l2.2-0.9l2-0.4M603.3 362l1.5-0.4l2.2-0.1l1.5 0.3l1.5 0.5l1.5 1l1.1 0.9l1.2 1.6l0.7 1.4l0.4 1.6l0.1 2.2l-0.2 1.5l-0.5 1.5l-0.9 1.5l-1.1 1.2l-1.5 1.2l-1.5 0.7l-1.5 0.4l-2.3 0.1l-1.5-0.2l-1.5-0.6l-1.5-0.9l-1.3-1.1l-1.1-1.5l-0.7-1.5l-0.4-1.5l-0-2.3l0.2-1.5l0.6-1.5l0.9-1.5l1.1-1.2l1.5-1.1l1.5-0.7M604.2 363.5l1.3-0.3l1.5 0.1l2.3 0.6l1.5 0.9l0.7 0.8l0.8 1l0.7 1.4l0.3 1.5l-0 1.5l-0.6 2.2l-0.4 0.9l-1.2 1.4l-1.1 0.8l-1.5 0.7l-1.5 0.4l-1.5-0l-2.2-0.6l-1-0.5l-1.3-1.2l-0.9-1.1l-0.6-1.5l-0.3-1.5l-0-1.5l0.6-2.2l1-1.5l0.7-0.8l1-0.8l1.7-0.7M606.2 365l0.8 0.1l1.5 0.4l1.4 1l1.1 1.5l0.5 2.2l-0.5 2.3l-1 1.5l-1.5 1.1l-2.3 0.5l-2.2-0.5l-1.5-1l-1.1-1.6l-0.5-2.2l0.5-2.3l1.1-1.5l1.5-1l2.2-0.5M604.5 367.2l1-0.4l1.5 0l1.5 0.8l0.9 1.1l0.3 1.5l-0.3 1.5l-0.9 1.2l-0.7 0.5l-1.5 0.4l-1.5-0.3l-0.8-0.5l-1-1.3l-0.2-0.8l-0-1.4l0.8-1.6l0.9-0.7M605.4 368.8l0.9-0.2l0.7 0.2l0.8 0.8l0 1.4l-0.8 0.9l-0.7 0.2l-0.8-0.2l-0.9-0.8l-0.1-0.8l0.2-0.7l0.7-0.8" fill="none" stroke="rgba(0,0,0,0.5)" stroke-width="0.85"/>
<path d="M409.2 399.3L449 385.3" stroke="#000000" stroke-width="1.1" stroke-linecap="butt"/>
<path d="M449 385.3L481.4 412.4" stroke="#000000" stroke-width="1.1" stroke-linecap="butt"/>
<path d="M481.4 412.4L521.7 398.4" stroke="#000000" stroke-width="1.1" stroke-linecap="butt"/>
<path d="M521.7 398.4L554.5 425.9" stroke="#000000" stroke-width="1.1" stroke-linecap="butt"/>
<path d="M594.2 411.3L629 435.5" stroke="#000000" stroke-width="1.1" stroke-linecap="butt"/>
<path d="M629 435.5L662.8 409.7" stroke="#000000" stroke-width="1.1" stroke-linecap="butt"/>
<path d="M376.6 372.2L392.9 385.75" stroke="#FF0000" stroke-width="1.1" stroke-linecap="butt"/>
<path d="M392.9 385.75L409.2 399.3" stroke="#000000" stroke-width="1.1" stroke-linecap="butt"/>
<path d="M411.92 400.11L408.08 420.67" stroke="#000000" stroke-width="1.1" stroke-linecap="butt"/>
<path d="M408.08 420.67L404.18 441.52" stroke="#FF0000" stroke-width="1.1" stroke-linecap="butt"/>
<path d="M406.37 399.08L402.52 419.63" stroke="#000000" stroke-width="1.1" stroke-linecap="butt"/>
<path d="M402.52 419.63L398.62 440.48" stroke="#FF0000" stroke-width="1.1" stroke-linecap="butt"/>
<path d="M594.2 411.3L600.2 390.8" stroke="#000000" stroke-width="1.1" stroke-linecap="butt"/>
<path d="M600.2 390.8L606.2 370.3" stroke="#CCCC00" stroke-width="1.1" stroke-linecap="butt"/>
<path d="M606.2 370.3L648.7 369.8" stroke="#CCCC00" stroke-width="1.1" stroke-linecap="butt"/>
<path d="M648.7 369.8L655.75 389.75" stroke="#CCCC00" stroke-width="1.1" stroke-linecap="butt"/>
<path d="M655.75 389.75L662.8 409.7" stroke="#000000" stroke-width="1.1" stroke-linecap="butt"/>
<path d="M594.2 411.3L553.11 422.12L555.89 429.68Z" fill="#000"/>
<g filter="url(#blurC)"><path d="M590.6 633.2l4.4-0.5l3.7 0.8l4.1 3.5l1.5 2.2l1.3 3l0.6 5.2l-1 4.5l-1.1 2.3l-1.6 2l-1.5 1.3l-2.3 1.1l-5.2 0l-3-0.7l-3-1.2l-2.3-1.4l-2-1.8l-2-3.8l-0.5-2.2l0.1-3l1.4-4.5l1.5-2.3l2.3-2.2l4.6-2.3z" fill="rgb(252, 246, 246)"/><path d="M591.6 636.2l3.4-0.4l3 0.8l3 2.6l2.1 3.8l0.5 3.7l-0.7 3.8l-1.9 3.2l-3 2.3l-4.5 0.2l-4.1-1.2l-3.4-2.7l-1.8-3.3l-0.3-3.8l1.3-4.1l3-3.3l3.4-1.6z" fill="rgb(246, 227, 227)"/><path d="M592.7 639.2l2.3-0.2l2.2 0.7l2.3 2.3l1.1 2.5l0.2 3l-0.6 2.2l-1.6 2.2l-2.1 1.4l-3 0.1l-2.4-0.7l-2.1-1.6l-1.7-2.9l-0.2-3l1.1-2.9l2.3-2.2l2.2-0.9z" fill="rgb(241, 212, 212)"/><path d="M593.2 643.8l1.8-0.2l1.6 1l0.5 1.5l-0.1 1.5l-0.5 1l-0.7 0.5l-2.3 0.1l-1.3-0.9l-0.5-0.8l0-2.2l1.5-1.5z" fill="rgb(236, 198, 198)"/><path d="M633.6 620.5l4.1-0.1l4.5 0.7l4.5 1.6l3.8 2.2l3 2.5l3 3.6l2.1 3.7l1.4 4.5l0.6 4.5l-0.2 4.5l-3 12l1.3 4.1l4.9 4.9l4 6.8l1.5 5.2l0.1 5.3l-1.6 6l-3.4 5.2l-4.7 4.1l-3 1.5l-3 1l-6 0.5l-6-1.3l-5.3-2.8l-4.3-4.5l-2.1-3.7l-1.5-5.3l-0.3-7.5l1.2-6l-1-3.7l-0.3-0.8l-6.3-5.2l-2.8-3l-2.2-3.8l-1.5-4.5l-0.9-6l0-6.7l1-5.3l1.6-3.7l2.8-3.8l3.9-3.1l4.5-2.3l5.6-1.3zM372.6 629.5l4.2-0.4l3.7 0.5l3.8 1.3l3.8 2.4l2.4 2.2l2.2 3l1.9 3.8l2.4 6.7l1 1.5l1.3 1l3 0.9l9.7 1.4l8.3 2.3l2.2 0.1l2.3-0.9l7.5-8.2l3-2.2l3-1.5l3-1l3.7-0.5l3.8 0.3l3.7 1.1l4.5 2.5l3.4 3.2l3.2 5.3l3.2 9l1.5 1.7l3 1.1l7.5 0.7l7.5 1.2l3-0l3-1.8l7.5-8.2l5.2-3.5l3.8-1.4l3.7-0.6l3.8-0l4.5 0.9l3 1.2l3 1.8l2.8 2.4l2 2.2l3.2 6l3.2 12.4l1.5 1.6l3 1l11.3 1.5l3-0.1l1.5-0.7l1.5-1.4l4.5-6.8l2.5-3l2.7-2.4l3-1.9l3.8-1.3l3.7-0.5l4.5 0.2l4.5 0.9l4.5 1.6l3.8 2l3.4 2.9l2.3 3l1.7 3.7l1 4.5l0 3.8l-0.7 4.5l-1.8 4.5l-3.2 4.5l-3.5 3.1l-4.5 2.5l-4.5 1.4l-5.2 0.4l-4.5-0.6l-8.3-2.1l-3-0l-2.2 1.2l-5.7 6.1l-4.1 3l-5.2 1.9l-5.3 0.3l-3-0.5l-3-1.1l-3-1.8l-2.2-1.9l-1.8-2.2l-1.8-3l-3.7-9.7l-1-1.2l-1.5-0.8l-11.2-0.8l-9-1.9l-3-0.1l-3 1.3l-6.8 6.7l-5.2 3.3l-6 1.6l-6-0.2l-3.8-1.2l-3-1.5l-2.8-2.2l-2.1-2.2l-2.8-4.5l-3.3-9.8l-1.7-2.4l-3-1.1l-7.5-0.9l-8.3-2l-3-0.2l-2.2 1l-1.5 1.5l-4.8 6.4l-6.2 6.7l-1.2 2.3l0.1 3l3.3 9l0.8 5.2l-0.8 6l-2.5 5.5l-2.2 2.8l-2.3 2l-5.2 2.9l-6 1.1l-6-0.6l-5.3-2.4l-4.4-3.8l-3-4.5l-1.6-5.2l-0.1-5.3l1.6-6l2.6-4.5l5.6-6.7l0.9-2.3l-0.3-3l-3.9-9l-2.6-9l-1.5-2.1l-1.5-0.9l-10.5-2.3l-5.6-2.9l-2.7-2.4l-2.2-2.9l-1.5-3l-0.9-3l-0.5-3.8l0.4-3.7l1.1-3.7l1.6-3l2.4-3l2.6-2.3l3.8-2l3.3-1z" fill="rgb(247, 252, 247)"/><path d="M631.8 622.8l4.4-0.5l3.8 0.3l4.5 1.2l3.7 1.9l3.1 2.4l2.9 3.1l2.2 3.6l1.4 3.8l0.8 4.5l-0.1 4.5l-3.7 15l2.3 3.7l4.4 3.8l3.6 5.2l1.9 5.2l0.3 5.3l-0.5 3l-1.1 3l-2.8 4.5l-4.2 3.7l-5.2 2.3l-5.3 0.6l-5.2-0.9l-5.3-2.6l-3.9-3.9l-2.5-4.5l-1.3-5.2l-0.1-5.2l1.6-6.8l-0-3.8l-11-9.9l-2.8-4.3l-1.9-5.3l-0.7-4.5l0.2-4.5l1-5.2l1.3-3l2.6-3.8l3.3-3l3.7-2.2l4.6-1.5zM372.4 631.8l4.3-0.5l3.8 0.6l3.7 1.5l3.8 2.7l2.1 2.4l1.7 3l1.1 3l1.8 7.3l0.8 1.5l1.1 1l2.6 0.6l6.8 0.1l4.5 0.5l4.5 1.3l7.5 3l1.5 0.1l1.5-0.6l6.7-9.1l2.3-2.2l3-1.9l3-1.2l3.7-0.7l3.8 0.1l3.7 1l4.5 2.6l3.8 4.2l2.4 5.2l2.1 9.2l1.5 1.8l1.5 0.5l10.5 0.1l9.7 2.1l3-0.1l2.3-1.6l7-9l5-3.6l3.7-1.6l3.8-0.7l4.5 0.1l3.7 0.9l3 1.3l3 2.1l2.4 2.3l2.2 3l1.5 3l1.1 3.7l1.4 12l1.2 1.5l1.5 0.4l9 0.3l9 1.9l2.2-0.1l2.3-1.7l6.1-10.5l2.1-2.5l3-2.4l3.8-1.9l3.7-0.9l4.5-0l4.5 0.7l3.8 1.3l3.7 2l3.4 2.9l2.2 3l1.7 3.8l0.8 3.7l0.1 3.8l-0.6 3.7l-1.8 4.5l-2.6 3.8l-3.9 3.4l-3.8 2.1l-5.2 1.4l-5.3 0l-5.2-1.1l-7.5-2.8l-3-0.2l-2.3 1.6l-4.5 6.1l-3.7 3.2l-2.3 1.3l-3 1l-5.2 0.4l-3-0.6l-3-1.3l-2.6-1.8l-2.1-2.2l-1.9-3l-1.2-3l-1.9-9l-0.8-1.4l-0.8-0.5l-2.2-0.3l-7.5 0.6l-4.5-0.1l-4.5-0.8l-6.8-2.1l-3-0.2l-1.5 0.6l-1.5 1.3l-6.4 7.4l-4.1 2.7l-3 1.2l-3 0.6l-3 0.1l-3-0.4l-3-0.9l-3-1.6l-2.9-2.5l-1.9-2.2l-1.7-3l-1.2-3l-2-9.8l-1.5-1.9l-2.3-0.6l-10.5-0.4l-3.7-0.9l-6.8-2.5l-2.2-0.2l-2.3 1.5l-4 6.5l-2.7 3.8l-7.3 6.7l-1.7 2.3l-0.2 1.5l0.4 1.5l4.1 8.2l1.3 5.3l0.1 3l-0.4 3l-2.2 5.2l-3.8 4.5l-4.6 2.7l-5.2 1.3l-3-0l-3-0.5l-5.3-2.4l-3.7-3.3l-2.8-4.5l-1.3-4.5l0.1-5.3l1.7-5.2l3-4.5l6.2-6l1-1.5l0.3-1.5l-0.6-2.3l-5.1-9.8l-2.9-12.7l-1.1-1.3l-1.5-0.7l-9.8-1l-3-0.9l-3-1.5l-2.8-2.1l-2-2.2l-1.8-3l-1.1-3l-0.4-3l0.2-3.8l0.8-3l1.4-3l2-2.6l2.2-2l3-1.8l3.2-1.1z" fill="rgb(230, 245, 230)"/><path d="M635.3 623.5l3.2 0.1l3.8 0.7l3.7 1.4l3 1.9l2.9 2.6l2.3 3l1.6 3l1.2 3.8l0.5 3.8l-0.2 4.5l-1.2 4.5l-3 6.7l-0.5 3l0.1 2.2l3.1 2.9l3.7 2.7l2.8 3.4l1.8 3l1.1 3l0.5 3l-0 3l-1.3 5.3l-2.9 4.5l-4.2 3.5l-5.3 1.9l-5.2 0.3l-4.5-1.2l-4.5-2.7l-3.1-3.3l-2.5-5.2l-0.6-6l0.3-3.8l1.6-4.5l0.8-3.7l-0.2-0.8l-1.5-2.2l-1.6-1.5l-6-3.8l-3.7-3.3l-3-4.2l-1.8-5.2l-0.6-5.3l0.4-4.5l1.3-4.5l2.2-3.7l3-3.3l3.7-2.6l4.5-1.7l4.3-0.7zM374.3 633.2l3.9-0l3.8 1l3.4 2l3 3l1.7 3l1.1 3l0.6 3.8l0.4 6.7l0.3 1.2l0.7 0.8l2.3 0.1l9-1.2l6 0.5l5.2 1.8l9 5.7l1.5 0.3l0.8-0.7l4-9.2l3.4-4.5l2.3-2l3-1.6l3-0.9l3-0.2l4.5 0.7l4.6 2.5l3.6 3.7l2.1 4.5l0.8 3.8l0.2 4.5l-0.6 6l-0.3 1.5l-0.6 0.7l-4 1.5l-5 1.2l-3.8 0.4l-3.7-0.2l-6-1.8l-8.3-4.9l-1.5-0.3l-0.7 0.8l-3.6 9.3l-3.2 5l-3.7 3.8l-7.2 4.7l-1.6 1.5l-0.2 0.8l0.4 1.5l4.8 6.6l2 3.9l1.2 4.5l0 3.7l-1.1 4.5l-2.2 3.8l-3.6 3.3l-4.5 2.1l-3.8 0.6l-3-0.1l-3-0.7l-3-1.4l-2.2-1.7l-2.3-2.4l-1.6-2.7l-1.1-3l-0.5-3.8l0.2-3l0.9-3l1.4-2.8l3.7-4.4l7.8-5.5l1.1-1.5l-0.8-2.3l-5.1-6.7l-2.7-5.3l-1.3-6l-0.5-10.3l-1.5-1l-9.7 0.8l-3.8-0.4l-3-1l-2.9-1.6l-2.3-2l-1.9-2.5l-1.4-3l-0.7-3l0-3.7l0.8-3l1.4-3l1.8-2.3l3-2.4l3-1.4l2.8-0.7zM509.3 656.5l5.4-0.7l3 0.3l3 0.9l3 1.4l2.3 1.7l3.5 3.9l2.4 5.3l1 6.7l-0.4 4.5l-0.8 3.8l-0.8 2.2l-1.2 1.5l-3 1.9l-3.7 1.3l-4.5 1l-3.8 0.2l-6-0.8l-9-3.5l-3-0.2l-2.2 1.8l-3.9 5.8l-3.6 3.8l-3.8 2.3l-4.5 1.3l-3.7 0l-3.8-0.8l-3.7-1.9l-2.8-2.4l-3-4.5l-1.6-6l0-8.3l0.6-3.9l0.8-1.2l7.5-2.5l6.7-0.9l5.3 0.6l8.2 2.7l2.7-0l1.8-1.5l4.6-7.5l2.9-3.6l3.8-2.9l4.3-1.8zM577.9 668.5l5.9-0.5l3.7 0.6l3 0.9l5.3 2.9l3.9 4.4l1.6 3l0.9 3l0.2 6l-0.6 3l-1.1 3l-1.8 3l-1.9 2.2l-3.5 2.7l-3 1.5l-3.7 1.1l-4.5 0.3l-3.8-0.5l-3-0.9l-9.7-5l-2.3-0.5l-1.5 1.1l-3.1 6.2l-2.1 3.1l-3 2.8l-3 1.6l-3.8 1l-4.5-0.3l-3.7-1.5l-2.9-2.2l-1.8-2.3l-1.2-2.2l-1.3-5.3l0.2-6l0.6-2.2l1.4-2.3l2-1.3l2.2-0.9l3.8-0.9l3-0.2l6 0.9l7.5 2.9l1.5 0.2l0.7-0.3l1.5-2.5l3.2-8.4l2.7-4.5l2-2.2l2.6-2.1l2.3-1.3l3.1-1.1z" fill="rgb(217, 241, 217)"/><path d="M631.2 625l3.6-0.6l3.7 0l3.8 0.8l3.7 1.5l3.1 2.1l3.1 3l2 3l1.6 3.7l0.9 5.2l-0.6 6l-1.9 5.3l-4.2 6.8l-0 2.2l0.8 2.2l6.9 4.5l3.3 3.6l2.8 5.4l0.6 5.3l-0.9 4.5l-2.5 4.4l-3.2 3.1l-4.3 2.1l-5.2 0.8l-4.5-0.8l-4.1-2.1l-3.4-3.3l-2.5-5l-0.8-6l0.7-4.5l3.2-7.5l-0.5-2.2l-1.6-2.3l-6.8-2.8l-4.5-3.2l-3.7-4.3l-2.1-4.7l-0.8-3.7l-0.2-4.5l0.8-4.5l1.4-3.8l2-3l2.9-3l3.5-2.2l3.9-1.5zM376 634.8l3 0.3l2.3 0.7l4.3 2.8l2.8 3.7l1.5 5.2l-0.1 5.3l-0.6 2.2l-1.2 2.3l-3 2.5l-5.2 1.6l-3 0.1l-3-0.3l-3-1.1l-2.2-1.3l-3.5-3.8l-1.1-2.2l-0.8-3l-0.1-3l0.4-2.3l1.3-3l1.5-2.1l2.2-2.1l2.3-1.3l2.2-0.8l3-0.4zM444 647.5l2.5-0.1l3 0.6l4.5 2.3l3.5 4l1.8 4.5l0.3 5.2l-0.5 3l-0.9 2.2l-2.7 3.2l-2.3 1.3l-2.9 1l-3 0.5l-3-0.1l-3-0.6l-3-1.2l-4.7-3.3l-1.8-2.2l-0.9-2.3l-0.3-3l0.5-3l1-3l1.8-3l2-2.2l2.4-1.9l3-1.3l2.7-0.6zM512.2 657.2l5.6 0.2l4.5 1.6l4.4 3.4l3 4.5l1.6 5.3l-0.1 6l-1.5 5.2l-2.9 3.7l-3 1.9l-3.8 1.3l-3.7 0.6l-3.8-0l-6-1.6l-9-5l-2.2-0.5l-1.1 1.1l-3.1 6.8l-2.4 3.8l-3.1 3l-3.1 1.7l-4.5 1.2l-4.5-0.3l-4.5-1.8l-3.6-3.1l-1.6-2.3l-1.3-3l-0.7-3l-0.2-3l0.4-3l0.9-3l1.3-2.2l1.6-1.5l2.5-1.5l3-1.1l3.7-0.5l3 0l5.3 1.3l8.2 4.2l1.5 0.3l0.8-0.4l0.7-1.1l4-9.5l3.3-4.5l4.7-3.4l3-1.2l2.7-0.6zM400.9 658.8l3.6-0.6l3.8 0.1l3.7 0.8l2.9 1.2l3.1 1.9l2.9 2.6l2 3l0.7 2.2l0 3l-0.7 3.8l-1.5 3.8l-1.9 3l-2.2 2.4l-3 2.3l-3.8 2l-3.7 1.1l-2.3 0.1l-2.2-0.6l-2.3-1.2l-3-2.5l-3.9-5.1l-1.3-3l-0.7-3l-0.3-3l0.2-3.8l0.6-3l1-2.2l1.1-1.5l1.8-1.6l5.4-2.2zM580 669.2l3-0.2l3.8 0.4l3.7 1.2l3 1.6l2.9 2.2l1.9 2.3l1.6 3l1 3l0.4 3.8l-0.3 3l-1 3.7l-1.6 3l-2.5 3l-2.4 2l-3 1.6l-3.7 1.2l-3 0.3l-3.8-0.2l-3-0.8l-3.7-1.6l-3.8-2.5l-2.5-2.2l-1.7-2.3l-0.9-2.2l-0.2-3l0.6-4.5l1.5-4.5l2-3.8l2.6-3l2.4-1.9l3-1.6l3.7-1zM540.7 689.5l4.8-0.7l5.2 1l4.7 2.7l2.5 3l0.7 3.8l-1.3 5.2l-2.8 4.4l-3.8 2.7l-4.5 1.1l-3-0.2l-2.2-0.7l-3.8-2.5l-2.7-4l-0.7-2.3l-0.4-3l0.8-4.7l1.1-2l1.3-1.5l4.1-2.3zM398 698.5l2.7-0.6l2.3 0.1l2.2 0.9l2.3 1.5l2.7 2.6l2.1 3l1.4 3l0.7 3l-0.3 5.2l-1 3l-1.3 2.3l-2 2.2l-2.3 1.8l-2.3 1.1l-3 0.8l-3 0.2l-3-0.5l-3-1.2l-2.1-1.4l-2.3-2.2l-1.5-2.3l-1-2.2l-0.7-3l0.4-5.3l1.1-3l1.3-2.2l4.1-4l5.5-2.8z" fill="rgb(206, 237, 206)"/><path d="M631.6 625.8l3.9-0.6l3.8 0.2l3.7 0.9l3 1.4l3 2.1l2.6 2.8l2 3l1.5 3.7l0.8 6l-0.5 3.8l-0.9 3l-3.2 6.2l-3 3.7l-2.3 2l-0.1 0.8l0.9 1.5l1.5 1.4l6.7 2.9l3.9 3.2l3.2 5.2l0.8 3l0.2 3l-1 4.5l-2.2 3.8l-3.4 3l-3.7 1.8l-4.5 0.5l-4.5-0.8l-3.8-2.1l-3-3.1l-1.3-2.3l-1.1-3l-0.2-6l1.3-4.5l4.1-6.8l0.4-2.2l-0.3-1.5l-7.4-1.8l-3.7-1.6l-3.1-1.9l-2.6-2.2l-1.9-2.2l-1.8-3l-1.1-3l-0.8-3.8l0-4.5l0.7-3.8l1.6-3.7l2.2-3.1l3-2.8l3-1.8l3.6-1.3zM372.2 637l4.5-0.7l3.8 0.8l3.7 2.3l2.7 3.6l1.3 4.5l-0.3 4.5l-1.7 3.8l-1.4 1.5l-2.1 1.3l-4.5 1.3l-3-0.1l-2.2-0.5l-4-2l-1.5-1.5l-1.6-2.3l-1.3-4.5l0.1-3l0.6-2.2l2.4-3.8l2.3-1.9l2.2-1.1zM443.8 649l2.7-0.1l2.2 0.4l4.1 2l1.9 1.7l1.5 2l1.7 4.5l0.1 4.5l-1.6 4.5l-3.2 3.1l-4.5 1.8l-5.2 0.1l-3-0.8l-2.3-1.2l-3.7-3.3l-1.1-2l-0.7-2.2l-0.2-2.2l0.5-3l2.2-4.5l1.5-1.9l2.3-1.7l2.2-1.1l2.6-0.6zM510.5 658.8l2.7-0.4l3 0.1l3 0.6l3 1.4l4.2 3.5l1.6 2.3l1.3 3l0.7 3l0.1 3.8l-0.4 3l-1.1 3l-1.4 2.2l-2 2.1l-2.2 1.4l-3 1.3l-3 0.6l-3.8 0.1l-6-1.4l-3.5-1.9l-2.9-2.2l-2.1-2.2l-1.2-2.3l-0.4-3l0.3-3l1.1-3.8l1.9-3.7l2.3-3l2.3-1.9l3-1.8l2.5-0.8zM404.9 659.5l3.4 0.1l3 0.6l3 1.2l2.2 1.4l2.2 1.9l1.7 2.3l1 2.2l0.5 3l-0.2 3l-0.8 3l-1.5 3l-1.6 2.3l-2.4 2.2l-2.6 1.8l-3 1.3l-3 0.6l-3-0.2l-2.3-0.8l-2.2-1.3l-2.3-2l-1.9-2.4l-1.6-3l-1-3l-0.4-3l0.6-5.2l0.9-2.2l1.4-2.3l2-1.8l2.3-1.3l3-1l2.6-0.4zM578.1 670.8l3.4-0.6l3-0l3.7 0.7l3 1.2l2.7 1.7l2.4 2.2l1.6 2.3l1.4 3l0.7 3l0.1 3.7l-0.6 3l-1.1 3l-1.9 3l-2.3 2.3l-3 2.1l-3 1.2l-3 0.6l-3 0.1l-3.7-0.6l-3-1.1l-3-1.7l-2.6-2.1l-2-2.3l-1.5-3l-0.6-3l0.2-3.7l0.9-3.8l1.3-3l2-2.9l2.3-2.3l3-2l2.6-1zM473.5 673.8l5.3-0.1l5.2 1.7l2.3 1.4l2.7 2.2l1.5 2.3l0.6 1.5l0.2 2.2l-0.5 3l-1 3l-1.8 3l-3.7 3.8l-4.8 2.1l-3 0.3l-2.2-0.2l-4.5-1.7l-3.8-3.5l-1.4-2.2l-1.1-3l-0.3-5.3l0.7-3l1.1-2.2l3.3-3.3l2.2-1.2l3-0.8zM542.4 691l4.6-0.3l3.7 1.1l2.3 1.4l1.5 1.5l1.5 3l0.2 3.8l-1.3 3.8l-2.7 3.3l-3.7 2l-3.8 0.3l-3.7-1l-3.1-2.4l-2.1-3.7l-0.5-4.5l1.2-3.8l2.2-2.7l3.7-1.8zM396.8 700.8l2.4-0.6l3 0l2.3 0.7l2.2 1.2l3.9 3.9l1.2 2.3l1 3l0.3 3l-0.2 2.2l-1.8 4.5l-1.8 2.3l-1.8 1.6l-4.5 2l-2.3 0.3l-3-0.1l-4.5-1.7l-2.2-1.7l-1.7-1.9l-2-4.5l-0.4-2.2l0.1-3l1.6-4.5l3.1-3.8l2.3-1.7l2.8-1.3z" fill="rgb(195, 234, 195)"/><path d="M632.1 626.5l3.4-0.5l3.8 0.2l3.7 1l3 1.4l3 2.3l2.3 2.5l1.8 2.9l1.4 3.7l0.5 3l-0 3.8l-0.8 3.7l-1.4 3.5l-2.3 3.7l-3 3.5l-2.2 1.8l-3 1.4l-3 0.4l-3.8-0.5l-4.5-1.4l-3.7-1.9l-3-2.2l-2.3-2.5l-1.7-2.8l-1.4-3.8l-0.6-3.7l0-3.8l0.8-3.7l1.4-3.3l2.3-3.2l2.8-2.5l3.2-1.9l3.3-1.1zM372.5 638.5l3.5-0.7l4.1 0.7l3.4 2.2l2.2 3l1 3.8l-0.5 4.5l-2 3.3l-3 2.1l-3.7 1l-4.5-0.7l-3.8-2.3l-2.2-3.1l-0.9-4l0.6-3.8l2.4-3.8l3.4-2.2zM443.4 650.5l3.9-0.1l4.1 1.6l3.1 3l1.8 3.8l0.2 4.5l-1.2 3.7l-2.8 3.2l-3.7 1.7l-4.5 0.3l-4.5-1.5l-3.5-3l-1.8-3.7l-0.3-2.2l0.2-2.3l1.6-3.9l3-3.2l2.3-1.3l2.1-0.6zM512.3 659.5l2.4-0.1l3 0.4l3 1.1l2.3 1.3l2.2 2.1l1.9 2.7l1.8 5.2l0.1 3l-0.4 3l-1.1 3l-1.4 2.3l-1.6 1.7l-2.3 1.6l-5.2 1.8l-3 0.1l-3-0.3l-5.3-2.1l-2.9-2.1l-2-2.2l-1.3-2.2l-0.7-2.3l-0.1-3l0.6-3l1.1-3l1.8-3l2-2.2l2.3-1.7l3-1.4l2.8-0.7zM403.2 661l2.8-0.3l3 0.2l3 0.8l2.2 1.1l3.9 3.4l1.3 2.3l0.8 2.3l0.2 2.2l-0.2 3l-1 3l-1.3 2.3l-3.7 3.8l-2.2 1.4l-3 1l-4.5 0.2l-2.3-0.6l-2.2-1.2l-2.3-1.9l-1.7-2l-1.3-2.2l-1-3l-0.3-5.3l0.8-3l1.1-2.2l3.2-3.3l4.7-2zM643.9 670l2.1-0.5l3 0.2l6 2.3l3.6 3.2l2.5 4.5l0.6 2.3l0.2 3l-0.6 3l-0.9 2.2l-3.2 4.1l-2.2 1.5l-2.3 1l-2.2 0.5l-3 0l-3-0.6l-2.3-1l-3.8-3.2l-2.4-4.5l-0.6-5.3l1-4.5l3.6-5.5l1.5-1.4l2.4-1.3zM579 671.5l3.2-0.5l3 0.1l3 0.7l3 1.3l2.3 1.5l2.1 2.1l1.6 2.3l1.2 3l0.6 3l0 3l-0.5 3l-1.3 3l-1.5 2.3l-2.2 2.3l-3 2l-3 1.1l-3 0.5l-3-0l-3-0.6l-3-1.2l-3-1.9l-2.3-2.2l-1.6-2.3l-1-2.2l-0.5-3l0-3l0.9-3.8l1.4-3l1.6-2.3l2.2-2.2l3-2l2.8-1zM473.1 675.2l4.9-0.3l4.5 1.2l4.1 2.8l2.4 3.8l0.4 2.2l-0.1 2.3l-1.5 4.6l-3 3.8l-2.3 1.6l-2.2 1l-4.5 0.5l-4.5-1.2l-3.8-2.9l-1.4-2.1l-1-2.3l-0.5-2.2l-0-3l1.4-4.5l1.5-2.2l1.5-1.3l4.1-1.8zM544.4 692.5l3.3 0.2l3 1.3l2.3 2.2l1.2 3l-0.3 3.8l-1.7 3l-2.2 2l-3 1.1l-3-0.1l-3-1.2l-2.5-2.5l-1.2-3l0.1-3.8l1.3-2.8l2.3-2.1l3.4-1.1zM397.1 702.2l4.4-0.5l2.3 0.5l2.2 1.2l3.5 3.3l2 4.5l0.2 4.5l-1.6 4.5l-3.3 3.5l-3.8 1.7l-4.5 0.3l-4.5-1.5l-3.5-3.2l-1.8-3.8l-0.4-4.5l1.5-4.5l3.1-3.8l4.2-2.2z" fill="rgb(184, 230, 184)"/><path d="M632.5 627.2l3-0.4l3.7 0.2l3.6 0.9l3 1.5l2.4 1.9l2.5 2.6l1.8 3l1.1 3l0.5 3l-0 3.8l-0.8 3.8l-1.3 3l-2.3 3.6l-2.2 2.6l-3 2.3l-3 1.2l-3 0.4l-3.8-0.5l-3.7-1.2l-3.8-2l-3-2.4l-2.1-2.5l-1.6-3l-1-3l-0.5-3l0.1-3.8l0.8-3.8l1.4-3l2.1-3l2.5-2.2l2.8-1.7l3.8-1.3zM372.8 640l3.2-0.7l3.7 0.7l3 2.1l1.6 2.4l0.8 3l-0.4 3.8l-1.9 3l-2.3 1.7l-3 0.8l-3.8-0.4l-3-1.7l-2.2-2.8l-1-3.6l0.5-3l1.7-3l3.1-2.3zM443.1 652l3.4-0.3l3.7 1.3l3 2.7l1.6 3l0.3 3.8l-1.1 3.6l-2.3 2.7l-3 1.6l-3.7 0.4l-3.8-0.9l-3-2.2l-1.1-1.5l-1.1-2.2l-0.2-3.8l1.3-3.7l2.6-2.9l3.4-1.6zM510.2 661l2.3-0.5l3-0.1l3 0.6l2.2 1l2.3 1.5l1.9 2l2.4 4.5l0.7 5.2l-0.5 3l-0.9 2.3l-2.9 3.8l-2.2 1.6l-2.3 1l-5.2 0.8l-3-0.4l-2.5-0.8l-4.7-3l-1.9-2.2l-1.2-2.3l-0.6-2.2l-0-3l1.5-5.3l1.3-2.2l2.1-2.3l2.2-1.7l3-1.3zM402.3 662.5l2.2-0.5l3-0.2l4.5 1.2l2.2 1.3l2.2 2l2.2 3.7l0.6 4.5l-0.7 3l-1 2.2l-3.3 4l-4.5 2.3l-4.5 0.5l-2.2-0.6l-2.3-1l-3.2-2.9l-2.4-4.5l-0.6-4.5l1.1-4.5l1.3-2.2l1.4-1.5l4-2.3zM644.9 671.5l1.9-0.3l2.2 0.1l3 0.7l2.3 1l3.4 3l2.5 4.5l0.5 4.5l-1.2 4.6l-3 3.8l-2.2 1.5l-2.3 0.9l-4.5 0.4l-4.6-1.5l-3.6-3l-1.4-2.2l-0.9-2.2l-0.4-4.5l1.2-4.6l1.3-2.2l2.4-2.6l3.4-1.9zM579.8 672.2l3.2-0.4l3 0.3l3 0.9l2.3 1.1l3.8 3.4l1.4 2.2l1.2 3l0.5 3l-0.2 3l-0.7 3l-1.1 2.2l-1.9 2.6l-2.2 1.9l-2.3 1.4l-3 1.1l-3 0.4l-3-0.2l-5.3-1.9l-2.2-1.5l-2.3-2.2l-1.4-2.3l-1.1-3l-0.3-3l0.3-3l2-5.2l2-2.6l2.3-1.9l2.2-1.3l2.8-1zM472.7 676.8l3.8-0.6l4.5 0.8l3.8 2.4l2.4 3.4l0.6 3.8l-1.1 4.5l-2.7 3.6l-3.7 2.3l-4.5 0.6l-3.8-1l-3.3-2.5l-2.3-3.8l-0.6-4.5l1-3.7l2.2-3.1l3.7-2.2zM543.5 694.8l2.8-0.3l2.2 0.6l1.8 1.2l1.5 2.2l0.4 2.3l-0.7 2.8l-1.5 2l-2.2 1.3l-2.3 0.4l-2.3-0.5l-2.2-1.5l-1.4-2.2l-0.4-3l0.7-2.3l1.1-1.5l2.5-1.5zM397 703.8l2.3-0.5l2.2 0l3.6 1.2l3.2 2.9l1.9 3.9l0.2 4.5l-1.4 3.8l-2.7 3l-3.3 1.6l-4.5 0.3l-3.6-1.2l-3.1-2.7l-1.8-3.3l-0.4-4.5l1.2-3.7l2.5-3.1l3.7-2.2z" fill="rgb(173, 225, 173)"/><path d="M633 628l3.2-0.3l3 0.2l3 0.8l3.2 1.5l2.8 2.3l2 2.2l1.7 3.1l1 2.9l0.4 3l-0.2 3.8l-1 3.8l-1.5 3l-2.1 3l-2.5 2.4l-2.3 1.5l-3 1.1l-3 0.2l-3.7-0.5l-3.8-1.3l-3-1.7l-2.9-2.5l-1.7-2.2l-1.6-3l-0.9-3l-0.4-3.3l0.3-3.5l0.8-3l1.4-3l2-2.6l2.3-2l3-1.8l3.5-1.1zM373.4 641.5l2.6-0.6l3 0.5l2.2 1.5l1.5 2l0.8 2.6l-0.4 3l-1.2 2.2l-2.2 1.7l-2.2 0.7l-3-0.2l-2.8-1.4l-1.8-2.3l-0.7-2.2l0.2-3l1.3-2.4l2.7-2.1zM443.1 653.5l3.4-0.3l3 1l2.2 1.9l1.5 2.6l0.4 3l-0.7 3l-1.9 2.7l-3 1.6l-3 0.3l-3-0.7l-2.4-1.6l-1.9-3l-0.5-3l1-3.5l2.1-2.5l2.8-1.5zM511.1 661.8l2.9-0.4l2.2 0.1l4.5 1.7l3.6 3.1l2.2 4.5l0.4 2.2l-0 3l-1.5 4.5l-1.6 2.3l-1.6 1.4l-4.5 2.2l-2.2 0.3l-3-0l-4.9-1.7l-3.7-3l-1.6-2.2l-0.8-2.2l-0.4-2.3l0.3-3l1.7-4.5l3.4-3.8l2.2-1.3l2.4-0.9zM403.9 663.2l4.3-0.2l4.5 1.6l3.4 3.1l1.7 3.8l-0 4.5l-1.6 3.7l-1.8 2.2l-1.7 1.4l-3.7 1.7l-2.3 0.2l-2.2-0.2l-3.7-1.6l-3-3l-1.7-3.7l-0.3-4.5l1.2-3.8l1.5-2.1l1.5-1.3l3.9-1.8zM580.4 673l2.6-0.3l3 0.3l3 0.9l2.2 1.3l2 1.6l1.8 2.1l2 4.6l0.1 5.2l-0.8 3l-1.2 2.3l-1.8 2.2l-2.1 1.8l-2.2 1.3l-3 0.9l-5.3 0l-3-0.9l-2.2-1.1l-2.5-1.9l-1.8-2.3l-1.9-4.5l-0.2-2.2l0.3-3l1-3l1.2-2.3l1.8-2.2l2.1-1.7l2.2-1.3l2.7-0.8zM645.3 673l4.4-0.3l2.3 0.5l2.2 1.1l3 2.9l2 4l0.3 4.5l-1.3 3.8l-2.5 3.1l-3.7 2l-4.5 0.5l-3.8-1.1l-2.2-1.5l-1.4-1.5l-2-3.8l-0.4-4.5l0.3-2.2l1-2.2l2.5-3.2l3.8-2.1zM475.2 677.5l3.6 0.1l3.7 1.7l2.7 2.7l1.1 3l-0.2 3.7l-1.8 3.8l-2.5 2.3l-3.8 1.4l-3.7-0.2l-3-1.4l-2.7-2.9l-1.4-3.7l0.2-3.8l1.6-3.2l3-2.5l3.2-1zM544.8 697l1.5-0l1.5 0.5l1.1 1l0.6 1.5l0.1 1.5l-0.7 1.5l-1.1 1.1l-1.5 0.6l-1.5-0l-1.5-0.7l-0.9-1l-0.6-1.5l-0-1.5l0.6-1.5l2.4-1.5zM396.8 705.2l3.2-0.6l3.7 0.7l3 2.3l2.1 3.6l0.3 3.8l-0.8 3l-2.3 3l-3 1.8l-3.8 0.4l-3-0.7l-3-2.2l-1.9-3.1l-0.5-3.7l0.9-3.6l2.3-2.9l2.8-1.8z" fill="rgb(162, 221, 162)"/><path d="M633.6 628.8l3.4-0.2l3 0.4l3 1l2.3 1.2l2.6 2.1l1.8 2.2l1.6 3l0.9 3l0.4 3l-0.3 3l-0.8 3l-1.4 3l-1.8 2.7l-2.3 2.3l-2.2 1.5l-3 1.2l-3 0.3l-3-0.3l-3.8-1.1l-3-1.6l-2.4-2l-2.1-2.3l-1.6-2.9l-0.9-3l-0.4-3l0.2-3.8l0.9-3l1.5-3l1.9-2.2l2.7-2.3l2.5-1.2l3.3-1zM374.7 643l2.1-0.2l1.5 0.3l2 1.4l1 1.6l0.4 2.2l-0.4 1.9l-1.3 1.8l-1.7 1l-2.3 0.3l-2-0.5l-1.7-1.4l-1-1.6l-0.2-2.3l0.4-1.6l1.5-2l1.7-0.9zM443.6 655l2.9-0.2l2.3 0.8l1.9 1.7l1.1 2.2l0.2 3l-0.9 2.2l-1.6 1.8l-2.2 1.1l-2.3 0.2l-2.6-0.8l-1.9-1.5l-1.3-2.3l-0.2-3l0.8-2.1l1.5-1.8l2.3-1.3zM512.1 662.5l4.1-0l2.3 0.6l2.2 1.1l3 2.9l2.1 4.4l0.1 4.5l-0.5 2.2l-1.1 2.3l-2.8 3l-2.3 1.3l-2.2 0.7l-4.5 0.1l-4.5-1.5l-1.9-1.4l-1.9-2l-1.8-4l0-4.5l1.9-4.5l1.4-1.8l2.3-1.8l4.1-1.6zM402.9 664.8l3.8-0.7l3.8 0.7l3.5 2.2l2 3l0.8 3.8l-0.7 3.8l-2.5 3.7l-3.1 2.1l-3.8 0.8l-3.7-0.8l-3.1-2.1l-2.4-3.8l-0.7-3.7l0.7-3.8l2-3l3.4-2.2zM580.9 673.8l5.1 0.1l3 1l2 1.1l1.8 1.5l1.8 2.3l1.7 4.5l0.2 3l-0.4 2.2l-2 4.5l-3.6 3.5l-4.5 1.9l-2.2 0.2l-3-0.2l-4.5-1.7l-2.3-1.7l-1.7-1.9l-1.3-2.3l-0.7-2.2l-0.2-2.3l0.2-3l1-3l1.2-2l1.5-1.9l2.3-1.8l4.6-1.8zM644.8 674.5l4.2-0.7l3.7 1l3 2.3l2.1 3.4l0.8 3.8l-0.8 3.7l-2.1 3.1l-3 2.1l-3.7 0.9l-3.8-0.7l-3.6-2.4l-2-3l-0.8-4.5l0.7-3.7l2-3l3.3-2.3zM474.4 679l3.6-0.2l3 1.1l2.3 2.1l1.4 2.9l0.1 3.1l-1.2 3l-2 2.2l-2.9 1.5l-3 0.2l-3-0.9l-2.6-2.3l-1.4-3l-0.2-3l0.9-3l2-2.2l3-1.5zM396.9 706.8l3.1-0.7l3 0.6l2.5 1.6l1.9 3l0.5 3l-0.7 3l-1.4 2.2l-2.8 1.9l-3 0.6l-3-0.6l-2.7-1.9l-1.5-2.2l-0.6-3l0.5-3l1.3-2.3l2.9-2.2z" fill="rgb(151, 216, 151)"/><path d="M634.1 629.5l2.9-0.2l3 0.4l3 1.1l2.2 1.3l2.2 1.9l1.8 2.3l1.5 3l0.8 3l-0.1 5.2l-0.9 3l-1.5 3l-3.8 4.3l-2.2 1.4l-3 1l-3 0.3l-3-0.4l-3-1l-3-1.7l-4-3.9l-1.6-3l-0.9-3l-0.2-3.7l0.4-3l0.8-2.3l1.7-3l2-2.2l2.5-1.9l3-1.4l2.4-0.5zM374.6 646l2.1-0.6l1.5 0.8l0.8 2.1l-0.8 1.6l-0.9 0.6l-1.3 0.2l-1.7-1l-0.6-2.2l0.9-1.5zM443.1 657.2l1.9-0.6l1.5 0.1l1.5 0.6l1.4 1.4l0.6 1.5l-0 2.2l-0.7 1.5l-1.3 1.2l-1.5 0.6l-2.3-0l-1.8-1l-1.2-1.5l-0.4-1.5l0.3-2.3l2-2.2zM513.5 663.2l4.2 0.5l3.8 2.2l2.5 3.3l1.1 3.8l-0.3 3.7l-1.8 3.9l-3.3 2.9l-4.2 1.2l-4.5-0.4l-3.8-1.9l-2.8-3.5l-1.1-3.7l0.5-4.5l2.2-3.8l3.5-2.6l4-1.1zM404.3 665.5l3.2-0.3l3.7 1.2l2.5 2.1l1.6 3l0.3 3.7l-1.1 3l-2.5 2.9l-3 1.5l-3.8 0.2l-3-1.2l-2.7-2.6l-1.3-3l-0.1-3.8l1.1-3l2.3-2.4l2.8-1.3zM581.3 674.5l4.7 0.1l4.5 2l3.1 3.1l1.8 4.5l0 4.5l-0.6 2.3l-1.3 2.4l-1.8 2.1l-1.9 1.5l-4.5 1.6l-4.5-0.1l-4.5-1.9l-3.4-3.4l-1.2-2.2l-0.6-2.2l0.1-4.5l0.7-2.3l1.4-2.4l1.8-2.1l1.9-1.4l4.3-1.6zM646.3 675.2l3.5-0.2l3 1.1l2.4 2.1l2 3.8l0.1 3.7l-1.1 3l-2 2.2l-2.9 1.6l-3.8 0.3l-3-1l-2.7-2.4l-1.5-3l-0.3-3.7l0.8-3l2.2-2.8l3.3-1.7zM474.4 680.5l2.8-0.3l2.3 0.6l2.2 1.6l1.5 2.6l0.1 3l-0.8 2.2l-1.5 1.7l-2.3 1.3l-3 0.3l-2.2-0.7l-2.2-1.8l-1.2-2.3l-0.2-3l0.8-2.2l1.3-1.6l2.4-1.4zM397.2 708.2l2.8-0.7l2.3 0.4l2.2 1.5l1.3 1.8l0.6 2.3l-0.4 2.8l-1.5 2.3l-1.5 1.1l-2.2 0.7l-2.5-0.2l-2-1l-1.8-2l-0.8-2.2l0.3-3l1.3-2.3l1.9-1.5z" fill="rgb(138, 211, 138)"/><path d="M634.3 630.2l2.7-0.2l3 0.5l3 1.1l2.3 1.4l3.5 4l1.1 2.2l0.9 3l0.2 3l-0.5 3l-2.2 5l-3.8 4l-2.2 1.3l-3 0.9l-3 0.1l-3-0.5l-3-1.2l-2.3-1.4l-2.2-2l-1.8-2.4l-1-2.3l-0.8-3l-0.1-3l0.5-3l0.9-2.6l1.5-2.5l3.8-3.4l2.6-1.2l2.9-0.8zM444.3 660.3l1.5-0.5l0.7 0.3l0.5 0.9l-0.5 1.5l-1.5 0.2l-0.7-0.5l-0.3-1.2l0.3-0.7zM510.9 664.8l3.9-0.6l3.7 0.9l3 2.2l2.1 3.5l0.6 3.8l-0.9 3.7l-2.1 3l-3.4 2.1l-3.8 0.6l-3.7-0.9l-3.7-2.6l-1.8-3l-0.5-3.7l0.9-3.8l2.1-3l3.6-2.2zM403.6 667l3.1-0.6l3 0.6l2.4 1.5l1.6 2.2l0.7 3l-0.5 3l-1.9 2.9l-2.3 1.5l-3 0.6l-3-0.6l-2.2-1.6l-1.9-2.8l-0.5-3l0.7-3l1.6-2.2l2.2-1.5zM581.6 675.2l4.4 0.2l2.2 0.8l2.1 1.3l2.8 3l1.1 2.2l0.5 2.2l-0.3 4.5l-1.8 3.8l-3.2 3l-4.2 1.6l-4.5-0.2l-3.7-1.5l-3.1-2.9l-1.3-2.3l-0.7-2.2l0.1-4.5l2-4.3l3.4-3.2l4.2-1.5zM645.7 676.8l2.6-0.6l3 0.6l2.3 1.5l2.1 3l0.6 3l-0.7 3l-1.5 2.2l-2.8 1.9l-3 0.4l-3-0.8l-2.3-1.8l-1.5-2.6l-0.4-3.1l0.7-3l1.6-2.2l2.3-1.5zM475.2 682l2.1-0.2l2.2 0.8l1.5 1.6l0.7 1.6l-0 2.2l-0.7 1.5l-1.4 1.5l-1.6 0.7l-2.2 0.2l-1.5-0.6l-1.5-1.2l-1.1-2.1l-0-2.2l0.6-1.5l1.2-1.5l1.7-0.8zM398.1 709.8l1.9-0.4l1.5 0.2l1.6 0.9l1.2 1.5l0.4 1.5l-0.3 2.3l-0.9 1.5l-1.2 1l-1.5 0.5l-2.3-0.2l-1.5-0.9l-1-1.1l-0.6-1.5l0.1-2.3l0.8-1.5l1.8-1.5z" fill="rgb(125, 205, 125)"/><path d="M634.4 631l2.6-0.1l3 0.4l4.5 2.2l2.2 2l1.6 2.1l1.7 4.6l-0.1 5.3l-0.9 2.8l-1.3 2.5l-1.7 2l-2.2 1.9l-4.5 1.8l-2.3 0.2l-3-0.3l-3-1l-2.2-1.3l-2.2-1.9l-1.7-2.2l-1.1-2.2l-0.8-3l0.1-5.3l1.1-3l1.3-2.2l1.8-1.9l2.2-1.7l4.9-1.7zM511.6 665.5l3.2-0.4l3.7 1l2.8 2.4l1.6 3l0.3 3.8l-0.9 3l-2.3 2.7l-3 1.6l-3.7 0.3l-3.1-0.9l-2.9-2.2l-1.7-3l-0.3-3.8l1-3l2.4-3l2.9-1.5zM405.6 667.8l2.7 0.1l2.2 1l1.8 1.9l0.8 2.2l-0 2.3l-1.1 2.4l-2.2 2l-2.3 0.7l-2.2-0.1l-2.3-1.1l-1.5-1.6l-0.9-2.3l-0.1-2.2l1-2.6l2.1-1.9l2-0.8zM582 676l4 0.2l3.8 1.8l2.9 3.2l1.3 3.8l-0.3 4.5l-2 3.8l-3.4 2.7l-3.8 1.1l-4.5-0.5l-3.5-1.9l-2.5-3l-1.3-3.7l0.2-3.8l1.9-4l3-2.7l4.2-1.5zM645.6 678.2l2.6-0.7l2.3 0.3l2.2 1.4l1.5 2l0.7 2.3l-0.1 2.2l-1.1 2.3l-1.7 1.5l-2.3 0.9l-2.7-0.2l-2.5-1.4l-1.3-1.6l-0.8-2.2l0.2-3l1.2-2.3l1.8-1.5zM475.6 684.2l2.1 0l1.6 1.5l-0.1 2.2l-1.6 1.5l-1.9 0l-1.6-1.5l-0.1-2.2l1.6-1.5zM399.6 712l1.1 0.1l1.3 1.4l-0.1 1.5l-1.2 1l-2-0.2l-0.8-1.5l0.5-1.5l1.2-0.8z" fill="rgb(113, 199, 113)"/><path d="M634.5 631.8l2.5-0.1l3 0.5l4.5 2.3l1.9 1.8l1.5 2.3l1.4 4.5l0 3l-0.4 2.2l-2.2 4.5l-3.7 3.4l-4.5 1.6l-2.3 0.1l-3-0.5l-4.5-2.2l-1.8-1.6l-1.6-2.3l-1.6-4.5l-0.2-2.2l0.4-3l2-4.5l3.6-3.4l2.2-1.2l2.8-0.7zM512.5 666.2l3-0.1l3 1.1l2.2 2.1l1.4 2.9l0.1 3l-1.1 3l-2.1 2.2l-2.8 1.3l-3 0.2l-3-1l-2.3-2l-1.5-3l-0.1-3l1.1-3l2.1-2.3l3-1.4zM405.6 669.2l1.9-0.1l2.1 0.9l1.4 1.5l0.5 1.5l-0 2.2l-0.7 1.5l-1.6 1.5l-1.7 0.6l-1.5-0l-1.7-0.6l-1.3-1.2l-1-1.8l-0-2.2l0.5-1.5l1.2-1.4l1.9-0.9zM582.3 676.8l3.7 0.3l3.7 2l2.5 3l1 3.7l-0.4 3.8l-1.6 3l-2.9 2.5l-3.8 1.3l-3.7-0.3l-3.8-1.9l-2.2-2.7l-1.3-3.4l0.2-3.8l1.9-3.8l2.9-2.5l3.8-1.2zM646.1 679.8l2.2-0.7l1.5 0.2l1.5 0.7l1.5 1.7l0.7 1.8l-0 1.5l-0.7 1.8l-1.5 1.5l-1.5 0.6l-2.3 0l-1.7-0.9l-1.3-1.4l-0.5-1.6l0-2.2l0.6-1.5l1.5-1.5z" fill="rgb(100, 193, 100)"/><path d="M634.7 632.5l4.5 0.2l2.3 0.8l2.2 1.3l3.3 3.7l1.5 4.5l-0.3 4.7l-1.9 4.3l-3.3 3.2l-2.3 1.2l-2.2 0.6l-4.5-0.2l-4.5-2.1l-3.3-3.5l-1.7-4.5l-0-4.5l0.6-2.2l1.4-2.5l1.8-2l1.9-1.4l4.5-1.6zM511.3 667.8l2.7-0.7l3 0.6l2.2 1.5l1.5 2.3l0.5 2.3l-0.5 3l-1.5 2.2l-2.2 1.5l-2.3 0.5l-3-0.4l-2.3-1.5l-1.6-2.3l-0.5-2.2l0.5-3l1.4-2.3l2.1-1.5zM405.3 671.5l2.2-0.3l1.6 1l0.6 2.3l-0.7 1.4l-0.7 0.6l-2.3 0.3l-1.8-1.5l-0.1-2.3l1.2-1.5zM583 677.5l3.8 0.6l3 2l1.8 2.6l0.9 3.8l-0.8 3.8l-1.9 2.6l-3 2l-3 0.7l-3.8-0.7l-2.7-1.6l-2.2-3l-0.8-3l0.5-3.8l1.8-3l2.7-2l3.7-1zM648 681.2l1.8 0.2l1.7 2l-0.2 1.9l-1.5 1.4l-2.3-0l-1.5-1.8l0.2-2.2l0.6-0.8l1.2-0.7z" fill="rgb(87, 187, 87)"/><path d="M635.6 633.2l4.4 0.6l3.8 2.1l2.7 3.3l1.3 4.5l-0.6 4.5l-2 3.8l-3.6 3l-3.8 1.1l-4.5-0.5l-3.8-2l-2.8-3.1l-1.5-4.5l0.3-4.5l0.9-2.3l1.6-2.2l3.8-2.8l3.8-1zM512.4 668.5l2.3-0.3l2.3 0.7l1.5 1.1l1.3 2.2l0.3 2.3l-0.7 2.2l-1.1 1.5l-2.1 1.3l-2.2 0.3l-2.3-0.5l-1.5-1.1l-1.5-2.2l-0.3-2.2l0.6-2.3l1.2-1.7l2.2-1.3zM580.1 679l3.7-0.7l3 0.7l2.2 1.5l2.1 3l0.5 3l-0.5 3l-2.1 3l-2.2 1.5l-3 0.7l-3.8-0.7l-2.3-1.5l-2-3l-0.6-3l0.6-3l2.1-3l2.3-1.5z" fill="rgb(79, 181, 79)"/><path d="M632.7 634.8l4.3-0.7l3.8 0.9l3 2.1l2.5 3.7l0.7 4.5l-0.9 3.8l-2.3 3.3l-3.8 2.4l-2.2 0.5l-2.3 0l-3.7-1.1l-3-2.3l-2.2-3.6l-0.6-4.5l1-3.7l2.5-3.4l3.2-1.9zM512.2 670l1.8-0.5l1.5 0.2l1.8 1l1.1 1.5l0.3 1.5l-0.2 1.9l-0.8 1.3l-1.5 1.2l-1.5 0.4l-2-0.2l-1.4-0.8l-1.2-1.5l-0.4-1.5l0.4-2.2l0.9-1.4l1.2-0.9zM580.5 679.8l2.5-0.6l3 0.5l2.5 1.6l1.6 2.2l0.6 3l-0.6 3l-1.6 2.3l-2.5 1.6l-2.3 0.5l-3-0.5l-2.6-1.6l-1.5-2.2l-0.6-3l0.6-3l1.6-2.3l2.3-1.5z" fill="rgb(70, 175, 70)"/><path d="M633 635.5l4-0.6l3.7 1l3 2.4l1.9 3.2l0.5 3.8l-1 3.7l-2.1 2.9l-3 1.9l-3.8 0.6l-3.7-0.8l-3-2.2l-2.1-3.1l-0.7-3.8l0.8-3.8l2-3l3.5-2.2zM513.2 671.5l2.3 0l1.4 1.5l-0.1 2.2l-1.3 1.3l-2.2 0.1l-1.5-1.4l-0.1-2.2l1.5-1.5zM581.1 680.5l2.6-0.4l2.3 0.5l1.9 1.4l1.5 2.2l0.4 2.3l-0.4 2.2l-1.5 2.3l-1.9 1.4l-2.3 0.5l-3-0.5l-2-1.4l-1.4-2.2l-0.4-3l0.7-2.3l1.6-1.9l1.9-1.1z" fill="rgb(62, 169, 62)"/><path d="M633.4 636.2l3.6-0.5l3 0.7l2.8 2l1.9 3l0.5 3.8l-0.7 3.1l-2.3 3.1l-3 1.7l-3.7 0.4l-3-0.9l-2.8-2.2l-1.7-3l-0.4-3.7l0.8-3l1.8-2.5l3.2-2zM582.1 681.2l2.4-0l1.5 0.5l1.5 1.3l1 2l0.2 2.2l-0.9 2.2l-1.4 1.5l-1.9 0.9l-2.3-0l-1.5-0.6l-1.5-1.2l-1.1-2l-0.1-2.3l0.8-2.2l1.6-1.5l1.7-0.8z" fill="rgb(54, 163, 54)"/><path d="M633.8 637l3.2-0.4l3 0.8l2.4 1.9l1.7 3l0.3 3l-0.8 3l-1.7 2.2l-2.7 1.7l-3 0.5l-3-0.7l-2.3-1.5l-2-3l-0.5-3l0.6-3l2-2.8l2.8-1.7zM581.5 682.8l1.5-0.4l2.3 0.4l1.1 0.8l1 1.5l0.3 1.5l-0.3 1.5l-1 1.5l-1.1 0.8l-1.5 0.4l-1.5-0.2l-1.5-0.7l-1-1.1l-0.6-1.5l0.1-1.7l0.7-1.6l1.5-1.2z" fill="rgb(47, 157, 47)"/><path d="M634.2 637.8l2.8-0.3l2.2 0.5l2.3 1.6l1.7 2.7l0.3 3l-0.9 3l-1.9 2.2l-2.2 1.1l-3 0.3l-2.3-0.7l-2.2-1.8l-1.5-2.6l-0.3-3l0.7-2.3l1.8-2.3l2.5-1.4zM582 684.2l1.7-0.3l1.8 1l0.4 2.3l-1.4 1.6l-1.5 0.3l-1.8-1.1l-0.4-2.3l1.2-1.5z" fill="rgb(41, 150, 41)"/><path d="M634.6 638.5l2.4-0.2l2.2 0.6l2.2 1.9l1.1 2.2l0.2 2.2l-0.6 2.3l-1.4 1.8l-2.2 1.4l-2.3 0.3l-2.3-0.5l-2.1-1.5l-1.4-2.2l-0.3-3l0.7-2.3l1.7-1.9l2.1-1.1z" fill="rgb(34, 144, 34)"/><path d="M634.8 639.2l2.2-0.2l2.2 0.8l1.5 1.3l1 1.9l0.2 2.2l-0.7 2.3l-1.4 1.5l-2.1 1l-2.2 0.1l-2.3-0.9l-1.5-1.6l-0.7-1.6l-0.1-2.3l0.8-2.2l1.5-1.6l1.6-0.7z" fill="rgb(28, 138, 28)"/><path d="M634.9 640l2.1-0.2l1.5 0.4l1.5 1.2l1 1.6l0.2 2.2l-0.4 1.5l-1.2 1.5l-1.9 1.1l-2.2 0.1l-1.5-0.6l-1.5-1.3l-0.7-1.5l-0.2-2.3l0.6-1.5l1-1.3l1.7-0.9z" fill="rgb(24, 132, 24)"/><path d="M635 640.8l1.3-0.3l1.5 0.3l1.5 0.9l0.9 1.4l0.3 1.5l-0.2 1.5l-1 1.5l-1.5 1l-1.5 0.2l-1.5-0.4l-1.3-0.9l-1-1.5l-0.2-1.5l0.3-1.5l1.1-1.5l1.3-0.7z" fill="rgb(20, 127, 20)"/><path d="M635.1 641.5l1.2-0.3l1.5 0.3l1.6 1.5l0.4 1.5l-0.3 1.5l-1.7 1.7l-1.5 0.3l-1.5-0.4l-1.5-1.6l-0.3-1.5l0.3-1.1l0.7-1.1l1.1-0.8z" fill="rgb(16, 122, 16)"/><path d="M635.6 642.2l2.2 0.3l1 1.2l-0.3 2.2l-1.5 1.1l-1.8-0.3l-1.2-1.5l0.1-1.5l1.5-1.5z" fill="rgb(13, 116, 13)"/><path d="M635.1 643.8l1.2-0.7l0.7 0.1l0.8 0.7l0 1.4l-0.8 0.8l-1.5-0.2l-0.7-1.3l0.3-0.8z" fill="rgb(9, 110, 9)"/><path d="M635.8 644.5l0.5-0.5l0.8 0.5l-0.8 0.7l-0.5-0.7z" fill="rgb(5, 105, 5)"/></g>
<path d="M592.8 637l2.2-0.1l1.5 0.2l0.7 0.2l1.5 1l1.1 0.9l1.2 1.5l0.9 1.5l0.6 1.9l0.3 1.9l-0.1 1.5l-0.2 1.5l-0.8 2.1l-0.7 1.2l-1 1.2l-1.3 1l-1.5 0.8l-1.5 0.2l-2.2-0.1l-1.9-0.4l-1.9-0.8l-1.5-1l-1.5-1.4l-1.2-2.1l-0.5-1.5l-0.2-1.5l0.2-2.2l0.8-2.3l0.9-1.5l0.8-0.9l1.5-1.3l1.5-0.8l2.3-0.7" fill="none" stroke="rgba(0,0,0,0.55)" stroke-width="1.2"/>
<path d="M631.8 623.3l-2.2 0.6l-3 1.3l-1.5 0.8l-2.3 1.6l-2.6 2.6l-2.1 3l-1.6 3.8l-0.9 4.5l-0.2 2.2l0.1 3l0.9 4.5l1 3l0.7 1.5l2 3l3.5 3.6l6.9 5.4l1.9 2.3l0.2 0.7l-0.4 3.8l-1 3l-0.6 3l0.1 5.2l0.3 2.3l0.7 2.2l0.9 2.3l1.5 2.3l1.8 2.2l1.9 1.6l2.3 1.5l2.2 1l2.3 0.7l3 0.5l3-0.1l3-0.5l3-1.1l2.2-1.3l2-1.6l1.8-1.8l1.9-2.7l1.1-2.2l0.9-3l0.3-2.3l0-3l-0.3-2.2l-0.6-2.3l-1.4-3l-1.9-3l-1.1-1.5l-1.9-1.9l-3-2.3l-2.1-2.5l-0.3-0.8l0.1-1.5l0.4-2.2l2.5-7.5l0.7-3l0.4-4.5l-0.7-5.3l-1.3-3.7l-2.2-3.8l-4.3-4.3l-3-2l-3.7-1.6l-3-0.8l-4.5-0.2l-2.3 0.2l-1.5 0.3M372.2 632.4l-3 1.1l-3 1.9l-2.2 2.2l-1.7 2.4l-1.3 3l-0.7 3l-0.1 3l0.5 3l1.1 3l1.8 3l2.2 2.2l2.6 1.9l3.1 1.3l2.9 0.8l3 0.3l6.8 0.3l1.7 0.7l0.5 0.6l0.5 0.9l0.6 2.2l0.9 6.8l0.9 3.7l2.1 4.5l4 6.8l0.5 1.5l0 0.7l-0.2 0.8l-1 1.5l-6 5.3l-2 2.2l-1.5 2.2l-1.4 3l-0.6 2.3l-0.4 3l0.2 3l0.5 2.2l0.8 2.3l1.2 2.2l1.7 2.3l1.5 1.5l2.2 1.7l2.3 1.1l2.2 0.8l3 0.5l3 0l3-0.5l2.3-0.8l2.2-1.1l2.3-1.7l2.2-2.3l1.5-2.2l1-2.3l0.9-3l0.3-3l-0.2-3l-0.7-3l-0.9-2.2l-4.5-8.3l-0.2-1.5l0.1-0.7l0.4-0.8l1.3-1.5l5.5-4.5l2.9-3l2.7-3.7l3.4-6.5l0.8-1l0.7-0.6l0.8-0.4l0.7-0.1l1.5 0.3l6.8 2.8l4.5 1.2l4.5 0.4l7.5-0.3l1.8 0.4l0.8 0.8l0.6 1.5l0.9 6.7l0.8 3.8l1.2 3l1.3 2.2l2.3 2.9l2.3 1.9l3 1.7l3.7 1.1l3 0.3l3-0.2l3-0.8l3-1.4l2.3-1.6l1.5-1.3l2.3-2.6l3.7-4.8l0.7-0.7l1.5-0.8l1.5-0.1l1.5 0.2l7.5 2.4l2.3 0.5l3 0.4l4.5 0l8.2-1.1l2.2 0.3l0.8 0.8l0.5 1.4l0.6 6l0.8 3.8l0.9 2.2l1.2 2.3l2 2.4l3 2.3l3 1.4l3 0.6l2.3 0.1l3-0.4l3-1.1l2.2-1.4l2.1-1.7l1.4-1.5l4.8-6.8l0.7-0.7l1.5-0.6l1.5 0.1l1.5 0.4l5.3 2.3l3 1.1l4.5 0.9l3 0.2l2.2-0.2l3-0.6l2.3-0.8l3.7-2.1l3.3-2.9l1.2-1.5l1.5-2.3l1.1-2.2l0.7-2.3l0.7-3.7l-0.1-3.8l-0.8-3.7l-1.8-3.8l-2.3-3l-2.7-2.3l-3.8-2.1l-3.7-1.3l-4.5-0.8l-2.3-0.1l-2.2 0.2l-3.8 1l-3.7 1.9l-2.5 2l-2.6 3l-2.3 3.8l-3.1 6.5l-0.8 1.1l-0.7 0.8l-0.8 0.4l-0.7 0.2l-1.5-0.1l-6.8-1.7l-3.7-0.6l-3-0.1l-6.8 0.3l-0.7-0.2l-0.8-0.4l-0.7-1.4l-0.2-1.8l-0.1-6.8l-0.3-3l-0.9-3.7l-1.6-3.8l-2.1-3l-2.3-2.3l-3-2.1l-3.8-1.7l-3.7-0.7l-3.8-0l-3.7 0.7l-3.8 1.6l-2.4 1.5l-2.5 2.3l-2.5 3l-4.1 6l-1.2 1.1l-1.5 0.7l-2.3 0l-6.7-1.7l-3.8-0.6l-3.7-0.2l-6 0.5l-2.3-0.1l-1.5-0.7l-0.7-1.3l-1.8-9.7l-1-3l-1.2-2.3l-1.6-2.2l-1.9-1.9l-2.3-1.6l-2.2-1.1l-3.8-1.1l-3.7-0.1l-3.8 0.7l-3 1.3l-3 2l-2.4 2.5l-1.7 2.3l-3.4 5.7l-0.7 0.9l-0.8 0.7l-0.7 0.3l-1.5-0.1l-1.5-0.5l-6.8-3.1l-4.5-1.4l-4.5-0.5l-8.2 0.2l-1.5-0.3l-0.8-0.4l-0.8-0.8l-0.6-1.5l-1.4-6.7l-1.2-3.8l-1.6-3l-2.5-3l-3.1-2.2l-2.3-1.1l-1.5-0.5l-3.7-0.5l-2.3 0.1l-2.2 0.4M633.2 626.4l-3.8 1.1l-3 1.5l-3 2.4l-2.2 2.8l-1.8 3.6l-0.9 3.7l-0.2 3.8l0.4 3.7l1.3 3.8l1.7 3l1.9 2.2l2.9 2.4l3.7 2.1l3.8 1.3l3.7 0.8l2.2 0l1.5-0.2l2.3-0.7l1.5-0.9l1.5-1.1l3-3.2l2.3-3.5l1.5-3l1-3.7l0.4-3.8l-0.5-3.7l-1.2-3.8l-1.7-3l-1.8-2.2l-3-2.5l-3-1.6l-3.7-1.2l-3-0.4l-3.8 0.3M373.8 638.3l-1.5 0.5l-2 1.2l-1.6 1.5l-1 1.5l-0.7 1.5l-0.6 2.2l-0 2.3l0.5 2.2l0.9 2l1.4 1.8l1.6 1.4l1.5 0.8l1.5 0.5l2.3 0.4l2.2-0.1l1.5-0.3l2.3-0.9l1.4-1.1l1.3-1.5l0.9-1.5l0.5-1.5l0.4-2.2l-0.2-2.3l-0.3-1.5l-0.6-1.5l-1.2-1.8l-1.5-1.6l-1.5-1l-1.8-0.8l-1.9-0.5l-2.3 0l-1.5 0.3M445 650.5l-2.2 0.3l-2.3 0.9l-1.6 1.1l-1.6 1.5l-1.3 1.7l-1 2l-0.5 2.3l-0.1 2.2l0.5 2.3l0.6 1.5l1 1.5l1.8 1.7l1.5 1l2.2 1l2.3 0.5l2.2 0l2.3-0.3l2.2-0.9l1.5-0.9l1.5-1.4l1-1.5l1-2.2l0.3-1.5l0.1-2.3l-0.4-2.2l-0.5-1.6l-1.2-2.2l-1.3-1.5l-2-1.5l-1.5-0.7l-2.2-0.7l-2.3-0.1M510.2 660.1l-3 1.2l-2.2 1.6l-2.3 2.2l-1.8 2.7l-1.2 3l-0.7 3l-0.1 3l0.5 2.2l1.1 2.3l1.8 2.2l2.6 2.2l3 1.6l3 0.9l3 0.4l3-0.2l3-0.8l2.3-1l2.2-1.6l2-2.2l1.3-2.3l0.7-2.2l0.5-3l-0.2-3l-0.7-3l-1-2.3l-1.8-2.5l-2.1-2l-2.4-1.5l-2.2-0.9l-3-0.5l-3 0l-2.3 0.5M404.5 661l-2.3 0.5l-2.6 1l-1.9 1.3l-1.6 1.7l-1.4 2.3l-0.8 2.2l-0.3 2.3l0.1 3l0.7 3l0.9 2.2l1.5 2.3l1.7 1.7l2.2 1.7l2.3 1l2.2 0.5l2.3-0l3-0.7l2.2-1.1l2.3-1.5l1.6-1.6l1.7-2.3l1.3-3l0.6-2.2l0.1-3l-0.5-2.3l-0.9-2.2l-1.7-2.3l-2.2-1.9l-2.3-1.3l-3-1.1l-2.2-0.3l-3 0.1M645.2 669.9l-2.2 0.8l-2.3 1.6l-1.3 1.5l-2.1 3l-1 2.2l-0.7 3l0 3l0.4 2.3l0.7 2.2l1.3 2.3l2 2.1l2.2 1.6l2.2 1l2.3 0.6l3 0.1l2.2-0.4l2.3-0.8l2.2-1.4l1.6-1.3l1.8-2.3l1.1-2.2l0.6-2.3l0.2-3l-0.4-2.2l-0.7-2.3l-1.7-3l-1.7-2l-1.5-1.2l-2.2-1.3l-3.8-1.4l-2.2-0.4l-2.3 0.2M580 671.4l-3 0.9l-2.6 1.4l-2.6 2.3l-1.7 2.2l-1.6 3l-0.9 3l-0.4 3.8l0.4 3l0.8 2.2l1.9 2.8l2.2 2.2l2.3 1.6l3 1.4l3 0.7l3 0.2l3-0.3l3-1l2.6-1.6l2.6-2.2l1.5-2l1.3-2.5l0.9-3l0.3-3l-0.3-3l-0.9-3l-1.3-2.4l-2.2-2.6l-2.3-1.8l-3-1.5l-3-0.8l-3-0.3l-3 0.3M474.2 675.2l-2.2 0.6l-2.3 1.1l-1.8 1.4l-1.3 1.5l-1.2 2.2l-0.6 2.3l-0.2 2.2l0.2 2.3l0.7 2.2l1.1 2.3l1.6 1.9l1.5 1.2l2.2 1.3l2.3 0.7l2.2 0.3l2.3-0.2l2.2-0.7l2.3-1.2l1.5-1.1l1.9-2.2l1.3-2.3l0.8-2.2l0.4-2.3l-0.1-2.2l-0.7-2.3l-0.9-1.5l-1.2-1.5l-2.2-1.7l-2.3-1.2l-2.2-0.7l-3.1-0.4l-2.2 0.2M542.5 693.2l-1.5 0.7l-1 0.8l-1.2 1.4l-0.8 1.4l-0.5 1.7l-0.1 1.5l0.2 1.5l0.4 1.5l0.8 1.5l1.3 1.5l0.9 0.8l1.5 0.8l1.5 0.4l1.5 0.2l1.5-0.1l1.5-0.4l1.5-0.8l1.5-1.2l1-1.2l0.8-1.5l0.5-1.5l0.2-1.5l-0.1-1.5l-0.4-1.5l-1.4-2.2l-1.3-1.2l-1.5-0.8l-1.5-0.6l-1.5-0.2l-2.3 0.1l-1.5 0.4M398.5 702.1l-2.2 0.7l-2 1l-1.8 1.3l-1.6 1.7l-1.3 2.2l-0.9 2.3l-0.3 2.2l0.1 2.3l0.6 2.2l1.1 2.3l1.1 1.5l1.6 1.5l1.8 1.1l2.3 0.9l2.2 0.4l2.3-0.1l2.2-0.5l2.3-1.1l2-1.5l1.3-1.5l1-1.5l0.9-2.2l0.4-2.3l-0-2.2l-0.5-2.3l-0.9-2.2l-1.6-2.3l-1.9-1.8l-1.5-1l-2.2-0.9l-2.3-0.4l-2.2 0.2M634 629.5l-2.2 0.5l-3 1.4l-2.6 1.9l-2 2.2l-1.7 3l-0.8 2.3l-0.4 3l0.2 3.7l0.9 3l1.6 3l1.8 2.1l2.2 1.9l3 1.7l3 0.9l3 0.4l3-0.2l3-1l2.2-1.5l2.2-2l1.7-2.3l1.5-3l0.9-3l0.2-3l-0.3-3l-0.6-2.2l-1.6-3l-1.8-2.3l-2.2-1.9l-2.2-1.3l-3-1.1l-3-0.4l-3 0.2M374.5 645.9l-0.6 0.8l-0.3 0.8l0.1 1.5l0.5 0.7l0.9 0.8l0.9 0.3l1.5-0.2l0.8-0.5l0.7-1.1l0.1-0.8l-0.1-1l-0.7-1.2l-0.8-0.5l-1.5-0.3l-1.5 0.7M443.5 657l-1.5 1l-0.9 1.5l-0.3 0.8l-0.1 1.5l0.5 1.5l0.8 1.2l1.5 1.1l2.2 0.4l1.9-0.5l1.2-0.7l1-1.5l0.4-1.5l-0.1-1.5l-0.2-0.8l-1.1-1.6l-1.5-1l-0.8-0.2l-1.5-0.1l-1.5 0.4M513.2 663.2l-2.2 0.5l-2.3 1l-1.5 1l-1.5 1.6l-1.3 1.9l-0.6 1.5l-0.6 2.3l-0 2.2l0.4 2.3l0.7 1.5l1.4 2l1.5 1.4l1.6 1.1l2.2 0.9l2.2 0.4l2.3-0l2.2-0.5l2-0.8l1.8-1.2l1.5-1.6l1-1.7l0.8-2.3l0.3-1.5l-0-2.2l-0.5-2.3l-0.9-2l-1.2-1.7l-1.6-1.5l-1.7-1.1l-2.2-0.9l-1.5-0.3l-2.3 0M404.5 665.4l-1.5 0.5l-1.5 0.9l-1.1 0.9l-1.2 1.5l-0.7 1.5l-0.4 1.5l-0.2 1.5l0.3 2.3l0.5 1.5l0.8 1.5l1.2 1.5l1.5 1.2l1.5 0.7l1.5 0.4l2.3 0.1l1.5-0.3l1.5-0.5l1.5-0.9l1.5-1.4l1.1-1.6l0.6-1.5l0.4-1.5l0.1-2.2l-0.3-1.5l-0.6-1.5l-1-1.5l-1.1-1.1l-1.5-1.1l-1.5-0.7l-1.5-0.3l-2.2-0.1l-1.5 0.2M581.5 674.4l-2.2 0.5l-2.3 1.1l-2 1.5l-1.8 2l-1.3 2.5l-0.7 2.2l-0.3 2.3l0.2 2.2l0.6 2.3l1.1 2.2l1.2 1.5l2.2 1.9l2.3 1.2l2.2 0.7l2.3 0.3l2.2-0.2l2.3-0.5l2.2-1.1l2.1-1.5l1.3-1.5l1.4-2.3l0.8-2.2l0.4-2.3l-0.1-2.2l-0.5-2.3l-1-2.2l-1.7-2.3l-1.7-1.5l-2.5-1.4l-2.2-0.7l-2.2-0.3l-2.3 0.1M646.8 675.1l-1.5 0.5l-1.5 0.8l-1.4 1.1l-1.2 1.5l-0.7 1.5l-0.4 1.5l-0.2 1.5l0.2 2.3l0.4 1.5l0.7 1.5l1.2 1.5l1.4 1.2l1.5 0.8l1.5 0.5l1.5 0.2l2.2-0.2l1.5-0.5l1.5-0.7l1.5-1.3l1.3-1.5l0.7-1.5l0.4-1.5l0.1-1.5l-0.2-2l-0.6-1.8l-0.9-1.6l-1.1-1.4l-1.1-0.9l-1.5-0.9l-1.5-0.5l-1.5-0.3l-2.3 0.2M474.2 680.5l-1.5 0.8l-0.7 0.5l-0.9 1l-0.6 1l-0.5 1.2l-0.2 1.5l0.3 2.3l1.1 2.2l0.8 0.8l1.4 1.1l2.3 0.7l1.5-0l1.5-0.3l2.2-1.3l1.6-1.7l0.7-1.5l0.2-1.5l-0.2-2.4l-0.6-1.4l-0.9-1.2l-1.3-1l-0.9-0.6l-2.3-0.6l-1.5 0.1l-1.5 0.3M400 707.5l-2.2 0.4l-1.6 0.9l-0.7 0.6l-0.9 1.1l-0.6 1.2l-0.3 1.1l-0.2 1.5l0.5 2.2l0.8 1.4l0.7 0.9l1 0.7l1.2 0.7l2.3 0.4l2.2-0.4l1.3-0.7l1-0.7l0.8-0.9l0.7-1.4l0.5-2.2l-0.2-1.5l-0.3-1.2l-0.6-1.1l-0.9-1.2l-0.8-0.6l-1.4-0.8l-2.3-0.4M634 632.4l-2.2 0.7l-2.3 1.2l-1.5 1.2l-1.9 2.2l-1.1 2.3l-0.7 2.2l-0.2 3l0.3 2.3l0.8 2.2l1.3 2.3l1.5 1.7l1.6 1.3l2.2 1.2l2.2 0.7l3 0.3l2.3-0.2l2.2-0.8l2.1-1.2l1.7-1.5l1.5-1.9l0.9-1.9l0.8-2.2l0.3-3l-0.2-2.3l-0.7-2.2l-1.2-2.3l-1.4-1.8l-2.3-1.8l-2.2-1.1l-2.3-0.7l-2.2-0.1l-2.3 0.2M513.2 666.9l-1.5 0.4l-1.5 0.8l-1.9 1.9l-1.1 2.2l-0.2 1.5l0.1 1.5l0.8 2.4l1.1 1.4l1.2 1l2.2 1l1.5 0.2l1.5-0.1l2.3-0.8l1.5-1.1l0.9-1l1.1-2.2l0.2-1.5l-0-1.5l-0.4-1.5l-0.8-1.5l-1.8-1.8l-2.2-1.1l-1.5-0.3l-1.5 0.1M406 670.7l-1.5 0.8l-0.6 0.8l-0.4 0.7l-0.1 1.5l0.4 1l1 1.3l1.2 0.6l1.5-0l1.3-0.6l1-1.1l0.4-1.2l-0.1-1.5l-0.4-0.7l-0.6-0.8l-0.8-0.6l-0.8-0.2l-1.5 0M582.2 677.4l-2.2 0.6l-1.5 0.7l-1.5 1.2l-1.3 1.4l-0.8 1.5l-0.6 1.5l-0.2 1.5l0 2.2l0.4 1.5l0.7 1.5l1 1.5l1.5 1.4l1.5 0.9l1.5 0.6l1.5 0.3l2.2-0l1.5-0.3l1.6-0.6l1.4-1l1.5-1.4l1-1.4l0.7-1.5l0.3-1.5l0.1-2.2l-0.4-2.3l-0.7-1.5l-1.1-1.5l-1.4-1.3l-1.5-0.9l-1.5-0.6l-1.5-0.3l-2.2-0M646.8 681.2l-0.8 0.8l-0.5 1.5l0 1.5l0.5 1.2l0.8 0.7l1.5 0.6l1.5-0.1l0.8-0.4l0.7-0.6l0.7-1.4l0-1.5l-0.7-1.4l-0.8-0.8l-1.5-0.6l-1.5 0.1l-0.7 0.4M635.5 635.4l-2.2 0.5l-1.5 0.7l-1.5 1.1l-1.4 1.5l-0.8 1.5l-0.6 1.5l-0.2 1.5l0 2.3l0.7 2.2l0.8 1.4l1.2 1.6l1 0.8l1.5 0.9l1.5 0.6l1.5 0.3l2.2-0l1.5-0.3l1.5-0.7l1.5-1l1.4-1.3l0.9-1.5l0.7-1.5l0.3-1.5l0.1-2.3l-0.3-1.5l-0.8-2l-1.2-1.7l-1.1-1l-1.5-1.1l-1.5-0.6l-1.5-0.3l-2.2-0.1M514 673.7l0 0.5l0.5-0.4l-0.5-0.1M581.5 681l-1.8 1l-1.3 1.5l-0.8 2.2l0.1 2.4l0.6 1.4l0.6 0.7l1.8 1.5l2.3 0.6l2.2-0.3l1.9-1l1.3-1.5l0.8-2.3l-0.2-2.3l-0.6-1.4l-0.6-0.8l-1.8-1.4l-2.2-0.6l-2.3 0.3M634 639.1l-1.5 1l-0.8 0.7l-0.8 1.5l-0.5 2.2l0.4 2.3l0.8 1.5l0.7 0.7l1.7 1.2l2.2 0.5l2.3-0.4l1.5-0.8l0.7-0.7l1.3-2l0.4-2.3l-0.5-2.2l-1.2-1.8l-0.7-0.7l-1.5-0.8l-2.2-0.4l-2.3 0.5M636.2 641.4l-0.8 0.1l-1.2 0.7l-0.6 0.8l-0.4 1.5l0 0.7l0.8 1.5l1.1 0.8l1.1 0.3l1.5-0.3l1-0.8l0.5-0.7l0.3-1.5l-0.3-1.3l-0.7-1l-1.4-0.7l-0.9-0.1" fill="none" stroke="rgba(0,0,0,0.6)" stroke-width="1.2" stroke-dasharray="2.8 2.5"/>
<path d="M406.8 674L445.5 661.2" stroke="#000000" stroke-width="1.1" stroke-linecap="butt"/>
<path d="M445.5 661.2L476.6 686.9" stroke="#000000" stroke-width="1.1" stroke-linecap="butt"/>
<path d="M476.6 686.9L514.3 674" stroke="#000000" stroke-width="1.1" stroke-linecap="butt"/>
<path d="M514.3 674L545.6 700.9" stroke="#000000" stroke-width="1.1" stroke-linecap="butt"/>
<path d="M583.4 686.5L616.7 708.7" stroke="#000000" stroke-width="1.1" stroke-linecap="butt"/>
<path d="M616.7 708.7L648.7 684.2" stroke="#000000" stroke-width="1.1" stroke-linecap="butt"/>
<path d="M376.3 648L391.55 661" stroke="#FF0000" stroke-width="1.1" stroke-linecap="butt"/>
<path d="M391.55 661L406.8 674" stroke="#000000" stroke-width="1.1" stroke-linecap="butt"/>
<path d="M409.41 674.75L406.06 694.5" stroke="#000000" stroke-width="1.1" stroke-linecap="butt"/>
<path d="M406.06 694.5L402.66 714.55" stroke="#FF0000" stroke-width="1.1" stroke-linecap="butt"/>
<path d="M404.09 673.84L400.74 693.6" stroke="#000000" stroke-width="1.1" stroke-linecap="butt"/>
<path d="M400.74 693.6L397.34 713.65" stroke="#FF0000" stroke-width="1.1" stroke-linecap="butt"/>
<path d="M583.4 686.5L588.9 666.5" stroke="#000000" stroke-width="1.1" stroke-linecap="butt"/>
<path d="M588.9 666.5L594.4 646.5" stroke="#CCCC00" stroke-width="1.1" stroke-linecap="butt"/>
<path d="M594.4 646.5L636 646.5" stroke="#CCCC00" stroke-width="1.1" stroke-linecap="butt"/>
<path d="M636 646.5L642.35 665.35" stroke="#CCCC00" stroke-width="1.1" stroke-linecap="butt"/>
<path d="M642.35 665.35L648.7 684.2" stroke="#000000" stroke-width="1.1" stroke-linecap="butt"/>
<path d="M583.4 686.5L544.23 697.3L546.97 704.5Z" fill="#000"/>
<g style="opacity:0.995">
<text x="125.9" y="16" font-size="13.31" fill="#0000FF" textLength="42.2" lengthAdjust="spacingAndGlyphs" font-family='"Liberation Sans", sans-serif'>Inside</text>
<text x="123.6" y="215.4" font-size="13.99" fill="#FF0000" textLength="69" lengthAdjust="spacingAndGlyphs" font-family='"Liberation Sans", sans-serif'>Threshold</text>
<text x="60.65" y="232" font-size="9.4" fill="#262626" text-anchor="middle" font-family='"Liberation Sans", sans-serif' stroke="#262626" stroke-width="0.18">0.4</text>
<text x="96.59" y="232" font-size="9.4" fill="#262626" text-anchor="middle" font-family='"Liberation Sans", sans-serif' stroke="#262626" stroke-width="0.18">0.5</text>
<text x="132.53" y="232" font-size="9.4" fill="#262626" text-anchor="middle" font-family='"Liberation Sans", sans-serif' stroke="#262626" stroke-width="0.18">0.6</text>
<text x="168.47" y="232" font-size="9.4" fill="#262626" text-anchor="middle" font-family='"Liberation Sans", sans-serif' stroke="#262626" stroke-width="0.18">0.7</text>
<text x="204.41" y="232" font-size="9.4" fill="#262626" text-anchor="middle" font-family='"Liberation Sans", sans-serif' stroke="#262626" stroke-width="0.18">0.8</text>
<text x="240.35" y="232" font-size="9.4" fill="#262626" text-anchor="middle" font-family='"Liberation Sans", sans-serif' stroke="#262626" stroke-width="0.18">0.9</text>
<text x="276.29" y="232" font-size="9.4" fill="#262626" text-anchor="middle" font-family='"Liberation Sans", sans-serif' stroke="#262626" stroke-width="0.18">1.0</text>
<text x="312.23" y="232" font-size="9.4" fill="#262626" text-anchor="middle" font-family='"Liberation Sans", sans-serif' stroke="#262626" stroke-width="0.18">1.1</text>
<text x="36.4" y="221.15" font-size="9.4" fill="#262626" text-anchor="end" font-family='"Liberation Sans", sans-serif' stroke="#262626" stroke-width="0.18">0.0</text>
<text x="36.4" y="195.25" font-size="9.4" fill="#262626" text-anchor="end" font-family='"Liberation Sans", sans-serif' stroke="#262626" stroke-width="0.18">2.5</text>
<text x="36.4" y="169.35" font-size="9.4" fill="#262626" text-anchor="end" font-family='"Liberation Sans", sans-serif' stroke="#262626" stroke-width="0.18">5.0</text>
<text x="36.4" y="143.45" font-size="9.4" fill="#262626" text-anchor="end" font-family='"Liberation Sans", sans-serif' stroke="#262626" stroke-width="0.18">7.5</text>
<text x="36.4" y="117.55" font-size="9.4" fill="#262626" text-anchor="end" font-family='"Liberation Sans", sans-serif' stroke="#262626" stroke-width="0.18">10.0</text>
<text x="36.4" y="91.65" font-size="9.4" fill="#262626" text-anchor="end" font-family='"Liberation Sans", sans-serif' stroke="#262626" stroke-width="0.18">12.5</text>
<text x="36.4" y="65.75" font-size="9.4" fill="#262626" text-anchor="end" font-family='"Liberation Sans", sans-serif' stroke="#262626" stroke-width="0.18">15.0</text>
<text x="36.4" y="39.85" font-size="9.4" fill="#262626" text-anchor="end" font-family='"Liberation Sans", sans-serif' stroke="#262626" stroke-width="0.18">17.5</text>
<text x="36.4" y="13.95" font-size="9.4" fill="#262626" text-anchor="end" font-family='"Liberation Sans", sans-serif' stroke="#262626" stroke-width="0.18">20.0</text>
<text x="186.15" y="243.4" font-size="9.3" fill="#262626" text-anchor="middle" textLength="68.9" lengthAdjust="spacingAndGlyphs" font-family='"Liberation Sans", sans-serif' stroke="#262626" stroke-width="0.18">Dice similarity</text>
<text x="1.3" y="11.95" font-size="15" fill="#000" font-weight="bold" font-family='"Liberation Serif", serif'>A</text>
<text x="141" y="304.2" font-size="13.72" fill="#0000FF" textLength="55.5" lengthAdjust="spacingAndGlyphs" font-family='"Liberation Sans", sans-serif'>Outside</text>
<text x="166.8" y="483.9" font-size="14.81" fill="#FF0000" textLength="71.9" lengthAdjust="spacingAndGlyphs" font-family='"Liberation Sans", sans-serif'>Threshold</text>
<text x="75.1" y="509.1" font-size="9.4" fill="#262626" text-anchor="middle" font-family='"Liberation Sans", sans-serif' stroke="#262626" stroke-width="0.18">0.5</text>
<text x="118.48" y="509.1" font-size="9.4" fill="#262626" text-anchor="middle" font-family='"Liberation Sans", sans-serif' stroke="#262626" stroke-width="0.18">0.6</text>
<text x="161.86" y="509.1" font-size="9.4" fill="#262626" text-anchor="middle" font-family='"Liberation Sans", sans-serif' stroke="#262626" stroke-width="0.18">0.7</text>
<text x="205.24" y="509.1" font-size="9.4" fill="#262626" text-anchor="middle" font-family='"Liberation Sans", sans-serif' stroke="#262626" stroke-width="0.18">0.8</text>
<text x="248.62" y="509.1" font-size="9.4" fill="#262626" text-anchor="middle" font-family='"Liberation Sans", sans-serif' stroke="#262626" stroke-width="0.18">0.9</text>
<text x="292" y="509.1" font-size="9.4" fill="#262626" text-anchor="middle" font-family='"Liberation Sans", sans-serif' stroke="#262626" stroke-width="0.18">1.0</text>
<text x="31.5" y="498.2" font-size="9.4" fill="#262626" text-anchor="end" font-family='"Liberation Sans", sans-serif' stroke="#262626" stroke-width="0.18">0.0</text>
<text x="31.5" y="472.3" font-size="9.4" fill="#262626" text-anchor="end" font-family='"Liberation Sans", sans-serif' stroke="#262626" stroke-width="0.18">0.5</text>
<text x="31.5" y="446.39" font-size="9.4" fill="#262626" text-anchor="end" font-family='"Liberation Sans", sans-serif' stroke="#262626" stroke-width="0.18">1.0</text>
<text x="31.5" y="420.49" font-size="9.4" fill="#262626" text-anchor="end" font-family='"Liberation Sans", sans-serif' stroke="#262626" stroke-width="0.18">1.5</text>
<text x="31.5" y="394.58" font-size="9.4" fill="#262626" text-anchor="end" font-family='"Liberation Sans", sans-serif' stroke="#262626" stroke-width="0.18">2.0</text>
<text x="31.5" y="368.68" font-size="9.4" fill="#262626" text-anchor="end" font-family='"Liberation Sans", sans-serif' stroke="#262626" stroke-width="0.18">2.5</text>
<text x="31.5" y="342.77" font-size="9.4" fill="#262626" text-anchor="end" font-family='"Liberation Sans", sans-serif' stroke="#262626" stroke-width="0.18">3.0</text>
<text x="31.5" y="316.87" font-size="9.4" fill="#262626" text-anchor="end" font-family='"Liberation Sans", sans-serif' stroke="#262626" stroke-width="0.18">3.5</text>
<text x="31.5" y="290.96" font-size="9.4" fill="#262626" text-anchor="end" font-family='"Liberation Sans", sans-serif' stroke="#262626" stroke-width="0.18">4.0</text>
<text x="184.05" y="520.6" font-size="9.3" fill="#262626" text-anchor="middle" textLength="69.9" lengthAdjust="spacingAndGlyphs" font-family='"Liberation Sans", sans-serif' stroke="#262626" stroke-width="0.18">Dice similarity</text>
<text x="1.3" y="289.3" font-size="15" fill="#000" font-weight="bold" font-family='"Liberation Serif", serif'>B</text>
<text x="115.1" y="594.7" font-size="13.99" fill="#0000FF" textLength="54.3" lengthAdjust="spacingAndGlyphs" font-family='"Liberation Sans", sans-serif'>Outside</text>
<text x="125.9" y="759.7" font-size="14.95" fill="#FF0000" textLength="71.9" lengthAdjust="spacingAndGlyphs" font-family='"Liberation Sans", sans-serif'>Threshold</text>
<text x="42.36" y="784.5" font-size="9.4" fill="#262626" text-anchor="middle" font-family='"Liberation Sans", sans-serif' stroke="#262626" stroke-width="0.18">0.4</text>
<text x="82.3" y="784.5" font-size="9.4" fill="#262626" text-anchor="middle" font-family='"Liberation Sans", sans-serif' stroke="#262626" stroke-width="0.18">0.5</text>
<text x="122.24" y="784.5" font-size="9.4" fill="#262626" text-anchor="middle" font-family='"Liberation Sans", sans-serif' stroke="#262626" stroke-width="0.18">0.6</text>
<text x="162.18" y="784.5" font-size="9.4" fill="#262626" text-anchor="middle" font-family='"Liberation Sans", sans-serif' stroke="#262626" stroke-width="0.18">0.7</text>
<text x="202.12" y="784.5" font-size="9.4" fill="#262626" text-anchor="middle" font-family='"Liberation Sans", sans-serif' stroke="#262626" stroke-width="0.18">0.8</text>
<text x="242.06" y="784.5" font-size="9.4" fill="#262626" text-anchor="middle" font-family='"Liberation Sans", sans-serif' stroke="#262626" stroke-width="0.18">0.9</text>
<text x="282" y="784.5" font-size="9.4" fill="#262626" text-anchor="middle" font-family='"Liberation Sans", sans-serif' stroke="#262626" stroke-width="0.18">1.0</text>
<text x="321.94" y="784.5" font-size="9.4" fill="#262626" text-anchor="middle" font-family='"Liberation Sans", sans-serif' stroke="#262626" stroke-width="0.18">1.1</text>
<text x="31.2" y="772.95" font-size="9.4" fill="#262626" text-anchor="end" font-family='"Liberation Sans", sans-serif' stroke="#262626" stroke-width="0.18">0.0</text>
<text x="31.2" y="747.22" font-size="9.4" fill="#262626" text-anchor="end" font-family='"Liberation Sans", sans-serif' stroke="#262626" stroke-width="0.18">0.5</text>
<text x="31.2" y="721.48" font-size="9.4" fill="#262626" text-anchor="end" font-family='"Liberation Sans", sans-serif' stroke="#262626" stroke-width="0.18">1.0</text>
<text x="31.2" y="695.75" font-size="9.4" fill="#262626" text-anchor="end" font-family='"Liberation Sans", sans-serif' stroke="#262626" stroke-width="0.18">1.5</text>
<text x="31.2" y="670.01" font-size="9.4" fill="#262626" text-anchor="end" font-family='"Liberation Sans", sans-serif' stroke="#262626" stroke-width="0.18">2.0</text>
<text x="31.2" y="644.27" font-size="9.4" fill="#262626" text-anchor="end" font-family='"Liberation Sans", sans-serif' stroke="#262626" stroke-width="0.18">2.5</text>
<text x="31.2" y="618.54" font-size="9.4" fill="#262626" text-anchor="end" font-family='"Liberation Sans", sans-serif' stroke="#262626" stroke-width="0.18">3.0</text>
<text x="31.2" y="592.81" font-size="9.4" fill="#262626" text-anchor="end" font-family='"Liberation Sans", sans-serif' stroke="#262626" stroke-width="0.18">3.5</text>
<text x="31.2" y="567.07" font-size="9.4" fill="#262626" text-anchor="end" font-family='"Liberation Sans", sans-serif' stroke="#262626" stroke-width="0.18">4.0</text>
<text x="182.35" y="796" font-size="9.3" fill="#262626" text-anchor="middle" textLength="69.9" lengthAdjust="spacingAndGlyphs" font-family='"Liberation Sans", sans-serif' stroke="#262626" stroke-width="0.18">Dice similarity</text>
<text x="1.1" y="567.8" font-size="15" fill="#000" font-weight="bold" font-family='"Liberation Serif", serif'>C</text>
<text x="371.3" y="103.55" font-size="10.5" fill="#FF0000" text-anchor="end" font-family='"Liberation Sans", sans-serif'>HO</text>
<text x="395.4" y="175.8" font-size="10.5" fill="#FF0000" text-anchor="middle" font-family='"Liberation Sans", sans-serif'>O</text>
<text x="590.7" y="102.3" font-size="11" fill="#CCCC00" text-anchor="middle" font-family='"Liberation Sans", sans-serif'>S</text>
<text x="631.4" y="102.1" font-size="11" fill="#CCCC00" text-anchor="middle" font-family='"Liberation Sans", sans-serif'>S</text>
<text x="376.3" y="376.13" font-size="10.99" fill="#FF0000" text-anchor="end" font-family='"Liberation Sans", sans-serif'>HO</text>
<text x="401.6" y="450.95" font-size="10.99" fill="#FF0000" text-anchor="middle" font-family='"Liberation Sans", sans-serif'>O</text>
<text x="606.2" y="374.38" font-size="11.52" fill="#CCCC00" text-anchor="middle" font-family='"Liberation Sans", sans-serif'>S</text>
<text x="648.7" y="373.88" font-size="11.52" fill="#CCCC00" text-anchor="middle" font-family='"Liberation Sans", sans-serif'>S</text>
<text x="376" y="651.75" font-size="10.5" fill="#FF0000" text-anchor="end" font-family='"Liberation Sans", sans-serif'>HO</text>
<text x="400.2" y="723.6" font-size="10.5" fill="#FF0000" text-anchor="middle" font-family='"Liberation Sans", sans-serif'>O</text>
<text x="594.4" y="650.4" font-size="11" fill="#CCCC00" text-anchor="middle" font-family='"Liberation Sans", sans-serif'>S</text>
<text x="636" y="650.4" font-size="11" fill="#CCCC00" text-anchor="middle" font-family='"Liberation Sans", sans-serif'>S</text>
</g>
</svg></body></html>
